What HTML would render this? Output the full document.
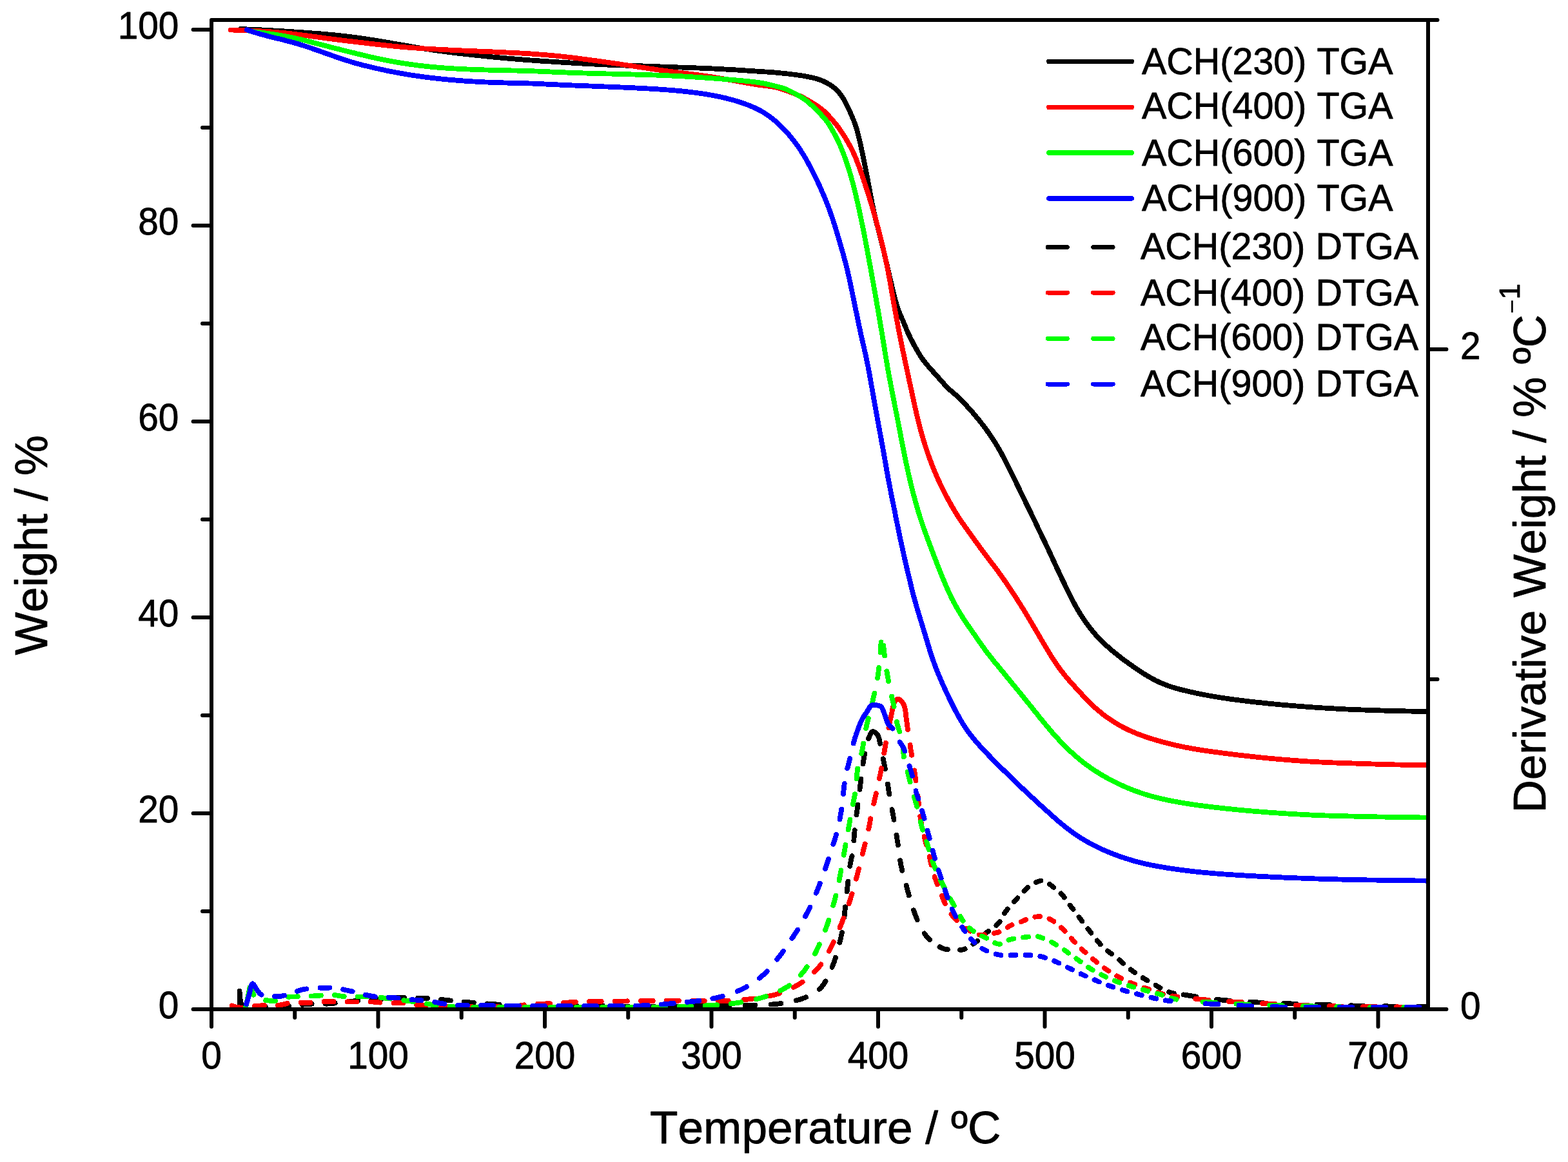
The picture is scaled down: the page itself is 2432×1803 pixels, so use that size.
<!DOCTYPE html>
<html lang="en"><head><meta charset="utf-8"><title>TGA and DTGA curves</title>
<style>html,body{margin:0;padding:0;background:#fff}body{width:2432px;height:1803px;overflow:hidden}svg{display:block}text{font-family:"Liberation Sans",Arial,Helvetica,sans-serif;fill:#000;stroke:#000;stroke-width:0.8px;stroke-linejoin:round;font-kerning:none}.tk{font-size:58.5px}.tt{font-size:70.5px}.lg{font-size:58px}.c{fill:none;stroke-width:7.8;stroke-linecap:round;stroke-linejoin:round;shape-rendering:crispEdges}.d{stroke-width:7.8px}.ld{stroke-width:7px}.f{fill:none;stroke-width:4;stroke-linecap:round;stroke-linejoin:round}.ax{fill:none;stroke:#000;stroke-width:6;stroke-linecap:round}</style></head><body>
<svg width="2432" height="1803" viewBox="0 0 2432 1803">
<rect width="2432" height="1803" fill="#fff"/>
<defs><clipPath id="cp"><rect x="328" y="31" width="1887" height="1541"/></clipPath></defs>
<g clip-path="url(#cp)">
<path class="c" stroke="#000000" d="M373.0 45.1L377.3 45.2L379.7 45.3L382.4 45.4L385.4 45.5L388.3 45.6L391.3 45.7L394.3 45.8L397.2 46.0L400.2 46.1L403.1 46.2L406.1 46.4L409.1 46.5L412.0 46.7L415.0 46.9L418.0 47.0L421.0 47.2L424.0 47.4L427.0 47.6L430.0 47.7L433.0 47.9L436.0 48.1L439.0 48.3L442.0 48.5L445.0 48.7L448.0 48.9L450.9 49.1L453.9 49.3L456.9 49.5L459.9 49.7L462.9 49.9L465.9 50.1L468.9 50.3L471.9 50.5L474.9 50.8L477.9 51.0L480.9 51.2L483.9 51.4L486.9 51.6L489.9 51.8L492.9 52.1L495.9 52.3L498.9 52.5L501.9 52.8L504.8 53.0L507.8 53.3L510.8 53.6L513.8 53.9L516.8 54.1L519.8 54.4L522.8 54.7L525.8 55.0L528.8 55.4L531.7 55.7L534.7 56.0L537.7 56.4L540.7 56.7L543.7 57.1L546.6 57.5L549.6 57.8L552.6 58.2L555.6 58.6L558.5 59.1L561.5 59.5L564.5 59.9L567.4 60.4L570.4 60.8L573.4 61.3L576.3 61.8L579.3 62.2L582.3 62.7L585.2 63.2L588.2 63.7L591.2 64.2L594.1 64.7L597.1 65.2L600.0 65.7L603.0 66.2L606.0 66.7L608.9 67.2L611.9 67.7L614.8 68.2L617.8 68.7L620.8 69.2L623.7 69.8L626.7 70.3L629.6 70.8L632.6 71.3L635.6 71.8L638.5 72.3L641.5 72.8L644.4 73.3L647.4 73.8L650.4 74.3L653.3 74.7L656.3 75.2L659.3 75.7L662.2 76.2L665.2 76.6L668.2 77.1L671.1 77.5L674.1 78.0L677.1 78.4L680.0 78.8L683.0 79.2L686.0 79.6L689.0 80.0L691.9 80.4L694.9 80.8L697.9 81.2L700.9 81.6L703.8 82.0L706.8 82.3L709.8 82.7L712.8 83.0L715.8 83.4L718.7 83.7L721.7 84.1L724.7 84.4L727.7 84.7L730.7 85.1L733.7 85.4L736.7 85.7L739.6 86.0L742.6 86.3L745.6 86.6L748.6 86.9L751.6 87.2L754.6 87.5L757.6 87.8L760.6 88.1L763.5 88.4L766.5 88.7L769.5 88.9L772.5 89.2L775.5 89.5L778.5 89.8L781.5 90.0L784.5 90.3L787.5 90.6L790.5 90.8L793.4 91.1L796.4 91.3L799.4 91.6L802.4 91.8L805.4 92.1L808.4 92.3L811.4 92.6L814.4 92.8L817.4 93.0L820.4 93.3L823.4 93.5L826.4 93.7L829.4 93.9L832.4 94.1L835.3 94.3L838.3 94.6L841.3 94.8L844.3 95.0L847.3 95.2L850.3 95.4L853.3 95.5L856.3 95.7L859.3 95.9L862.3 96.1L865.3 96.3L868.3 96.5L871.3 96.7L874.3 96.9L877.3 97.1L880.3 97.2L883.3 97.4L886.3 97.6L889.3 97.8L892.3 98.0L895.3 98.1L898.3 98.3L901.3 98.5L904.3 98.7L907.3 98.8L910.3 99.0L913.3 99.2L916.3 99.3L919.3 99.5L922.3 99.6L925.3 99.8L928.3 100.0L931.3 100.1L934.2 100.2L937.2 100.4L940.2 100.5L943.2 100.7L946.2 100.8L949.2 100.9L952.2 101.0L955.2 101.1L958.2 101.2L961.2 101.3L964.2 101.4L967.2 101.5L970.2 101.6L973.2 101.7L976.3 101.8L979.3 101.9L982.3 102.0L985.3 102.0L988.3 102.1L991.3 102.2L994.3 102.3L997.3 102.4L1000.3 102.5L1003.3 102.6L1006.3 102.7L1009.3 102.8L1012.3 102.9L1015.3 103.0L1018.3 103.1L1021.3 103.3L1024.3 103.4L1027.3 103.5L1030.3 103.6L1033.3 103.7L1036.3 103.8L1039.3 104.0L1042.3 104.1L1045.3 104.2L1048.3 104.3L1051.3 104.4L1054.3 104.5L1057.3 104.6L1060.3 104.7L1063.3 104.8L1066.3 104.9L1069.3 105.0L1072.3 105.1L1075.3 105.2L1078.3 105.3L1081.3 105.5L1084.3 105.6L1087.3 105.7L1090.3 105.8L1093.3 105.9L1096.3 106.1L1099.3 106.2L1102.3 106.3L1105.3 106.5L1108.3 106.6L1111.3 106.8L1114.3 106.9L1117.3 107.1L1120.3 107.3L1123.3 107.4L1126.2 107.6L1129.2 107.7L1132.2 107.9L1135.2 108.1L1138.2 108.3L1141.2 108.4L1144.2 108.6L1147.2 108.8L1150.2 109.0L1153.2 109.2L1156.2 109.4L1159.2 109.6L1162.2 109.8L1165.2 110.0L1168.2 110.2L1171.2 110.4L1174.2 110.6L1177.2 110.8L1180.2 111.0L1183.2 111.2L1186.2 111.4L1189.2 111.5L1192.2 111.8L1195.2 112.0L1198.2 112.2L1201.1 112.4L1204.1 112.7L1207.1 113.0L1210.1 113.3L1213.1 113.6L1216.1 113.9L1219.1 114.2L1222.1 114.5L1225.0 114.9L1228.0 115.3L1231.0 115.6L1234.0 116.0L1237.0 116.4L1239.9 116.8L1242.9 117.3L1245.9 117.7L1248.8 118.2L1251.8 118.8L1254.7 119.4L1257.7 120.0L1260.6 120.7L1263.5 121.4L1266.4 122.2L1269.2 123.1L1272.1 124.1L1274.9 125.1L1277.6 126.3L1280.3 127.6L1283.0 129.0L1285.6 130.5L1288.1 132.0L1290.6 133.7L1293.0 135.6L1295.3 137.5L1297.5 139.5L1299.6 141.6L1301.5 143.9L1303.4 146.2L1305.1 148.6L1306.8 151.1L1308.4 153.7L1309.9 156.3L1311.3 158.9L1312.7 161.6L1314.0 164.3L1315.3 167.0L1316.6 169.7L1317.9 172.4L1319.1 175.2L1320.3 177.9L1321.5 180.7L1322.6 183.4L1323.8 186.2L1324.9 189.0L1325.9 191.8L1326.9 194.6L1327.9 197.5L1328.7 200.3L1329.6 203.2L1330.3 206.1L1331.1 209.0L1331.8 212.0L1332.5 214.9L1333.2 217.8L1333.9 220.7L1334.6 223.6L1335.2 226.6L1335.8 229.5L1336.5 232.5L1337.1 235.4L1337.7 238.3L1338.3 241.3L1338.9 244.2L1339.5 247.2L1340.1 250.1L1340.7 253.0L1341.3 256.0L1341.9 258.9L1342.5 261.9L1343.1 264.8L1343.6 267.8L1344.2 270.7L1344.8 273.7L1345.4 276.6L1345.9 279.5L1346.5 282.5L1347.1 285.4L1347.6 288.4L1348.2 291.4L1348.7 294.3L1349.3 297.3L1349.8 300.2L1350.4 303.2L1350.9 306.1L1351.5 309.1L1352.0 312.0L1352.6 315.0L1353.2 317.9L1353.8 320.8L1354.4 323.8L1355.0 326.7L1355.7 329.6L1356.3 332.6L1357.0 335.5L1357.7 338.4L1358.4 341.3L1359.1 344.2L1359.9 347.1L1360.6 350.0L1361.4 352.9L1362.2 355.8L1362.9 358.8L1363.7 361.7L1364.4 364.6L1365.2 367.5L1366.0 370.4L1366.7 373.3L1367.4 376.2L1368.1 379.1L1368.9 382.0L1369.6 384.9L1370.3 387.9L1370.9 390.8L1371.6 393.7L1372.3 396.6L1373.0 399.6L1373.7 402.5L1374.4 405.4L1375.0 408.3L1375.7 411.3L1376.4 414.2L1377.1 417.1L1377.8 420.0L1378.4 423.0L1379.1 425.9L1379.8 428.8L1380.5 431.7L1381.1 434.7L1381.8 437.6L1382.5 440.5L1383.2 443.4L1383.9 446.3L1384.5 449.3L1385.3 452.2L1386.0 455.1L1386.7 458.0L1387.5 460.9L1388.2 463.8L1389.0 466.7L1389.8 469.6L1390.6 472.5L1391.5 475.3L1392.4 478.2L1393.4 481.0L1394.5 483.8L1395.6 486.6L1396.8 489.4L1398.0 492.1L1399.2 494.9L1400.4 497.6L1401.5 500.4L1402.7 503.2L1403.9 505.9L1405.0 508.7L1406.1 511.5L1407.3 514.3L1408.5 517.0L1409.8 519.7L1411.1 522.4L1412.4 525.1L1413.8 527.8L1415.2 530.5L1416.6 533.1L1418.0 535.8L1419.4 538.4L1420.9 541.0L1422.4 543.6L1423.9 546.2L1425.5 548.8L1427.0 551.3L1428.6 553.9L1430.3 556.3L1432.1 558.8L1433.9 561.2L1435.7 563.5L1437.7 565.8L1439.6 568.1L1441.6 570.4L1443.6 572.6L1445.6 574.9L1447.6 577.1L1449.6 579.4L1451.6 581.6L1453.6 583.8L1455.6 586.0L1457.6 588.3L1459.6 590.5L1461.6 592.8L1463.6 595.0L1465.6 597.3L1467.6 599.5L1469.7 601.7L1471.9 603.7L1474.1 605.7L1476.4 607.6L1478.7 609.6L1480.9 611.5L1483.2 613.5L1485.4 615.5L1487.5 617.6L1489.6 619.7L1491.8 621.8L1493.8 623.9L1495.9 626.1L1498.0 628.3L1500.0 630.5L1502.0 632.7L1504.0 634.9L1506.0 637.2L1508.0 639.4L1510.0 641.7L1511.9 644.0L1513.8 646.3L1515.8 648.6L1517.7 650.9L1519.5 653.3L1521.4 655.6L1523.3 658.0L1525.1 660.3L1526.9 662.7L1528.7 665.1L1530.5 667.5L1532.2 670.0L1534.0 672.4L1535.7 674.9L1537.4 677.4L1539.0 679.9L1540.7 682.4L1542.3 684.9L1543.9 687.4L1545.4 690.0L1547.0 692.6L1548.5 695.2L1550.0 697.8L1551.5 700.4L1552.9 703.0L1554.3 705.6L1555.8 708.3L1557.2 710.9L1558.6 713.6L1559.9 716.3L1561.3 718.9L1562.7 721.6L1564.0 724.3L1565.4 727.0L1566.7 729.7L1568.0 732.3L1569.4 735.0L1570.7 737.7L1572.0 740.4L1573.3 743.1L1574.6 745.8L1575.9 748.5L1577.2 751.2L1578.5 754.0L1579.8 756.7L1581.1 759.4L1582.4 762.1L1583.7 764.8L1585.0 767.5L1586.4 770.2L1587.7 772.9L1589.0 775.6L1590.3 778.3L1591.6 781.0L1592.9 783.7L1594.3 786.4L1595.6 789.1L1596.9 791.8L1598.2 794.5L1599.5 797.2L1600.8 799.9L1602.1 802.6L1603.4 805.3L1604.7 808.0L1606.0 810.7L1607.2 813.4L1608.5 816.1L1609.8 818.8L1611.1 821.6L1612.4 824.3L1613.7 827.0L1615.0 829.7L1616.3 832.4L1617.6 835.1L1618.9 837.8L1620.2 840.5L1621.5 843.2L1622.8 845.9L1624.1 848.6L1625.4 851.3L1626.6 854.1L1627.9 856.8L1629.2 859.5L1630.4 862.2L1631.7 865.0L1632.9 867.7L1634.2 870.4L1635.5 873.1L1636.7 875.9L1638.0 878.6L1639.2 881.3L1640.5 884.0L1641.8 886.7L1643.1 889.5L1644.3 892.2L1645.6 894.9L1646.9 897.6L1648.2 900.3L1649.5 903.0L1650.8 905.7L1652.1 908.5L1653.4 911.2L1654.7 913.9L1656.0 916.6L1657.3 919.3L1658.7 921.9L1660.0 924.6L1661.4 927.3L1662.7 930.0L1664.1 932.6L1665.5 935.3L1667.0 937.9L1668.4 940.6L1669.9 943.2L1671.4 945.8L1672.9 948.3L1674.4 950.9L1676.0 953.5L1677.6 956.0L1679.3 958.5L1680.9 961.0L1682.6 963.5L1684.3 965.9L1686.1 968.4L1687.9 970.8L1689.7 973.1L1691.5 975.5L1693.4 977.8L1695.3 980.1L1697.3 982.4L1699.2 984.7L1701.3 986.9L1703.3 989.1L1705.4 991.2L1707.5 993.4L1709.6 995.5L1711.7 997.6L1713.9 999.7L1716.1 1001.7L1718.3 1003.7L1720.6 1005.7L1722.8 1007.7L1725.1 1009.6L1727.4 1011.5L1729.7 1013.4L1732.1 1015.3L1734.4 1017.2L1736.8 1019.0L1739.2 1020.9L1741.5 1022.7L1743.9 1024.5L1746.4 1026.3L1748.8 1028.0L1751.2 1029.8L1753.7 1031.5L1756.1 1033.3L1758.6 1035.0L1761.1 1036.7L1763.5 1038.4L1766.0 1040.1L1768.5 1041.7L1771.1 1043.3L1773.6 1045.0L1776.1 1046.6L1778.7 1048.1L1781.3 1049.7L1783.8 1051.2L1786.5 1052.6L1789.1 1054.1L1791.7 1055.5L1794.4 1056.8L1797.1 1058.1L1799.8 1059.3L1802.5 1060.5L1805.3 1061.6L1808.1 1062.7L1810.9 1063.8L1813.7 1064.7L1816.6 1065.7L1819.4 1066.6L1822.3 1067.5L1825.2 1068.3L1828.1 1069.1L1831.0 1069.9L1833.9 1070.6L1836.8 1071.3L1839.7 1072.0L1842.6 1072.7L1845.5 1073.4L1848.5 1074.0L1851.4 1074.7L1854.3 1075.3L1857.3 1075.9L1860.2 1076.5L1863.2 1077.1L1866.1 1077.7L1869.1 1078.3L1872.0 1078.8L1875.0 1079.4L1877.9 1079.9L1880.9 1080.4L1883.8 1080.9L1886.8 1081.4L1889.7 1081.9L1892.7 1082.4L1895.7 1082.8L1898.6 1083.3L1901.6 1083.7L1904.6 1084.1L1907.6 1084.6L1910.5 1085.0L1913.5 1085.4L1916.5 1085.7L1919.5 1086.1L1922.4 1086.5L1925.4 1086.9L1928.4 1087.2L1931.4 1087.6L1934.4 1088.0L1937.4 1088.3L1940.3 1088.7L1943.3 1089.0L1946.3 1089.3L1949.3 1089.7L1952.3 1090.0L1955.3 1090.3L1958.2 1090.6L1961.2 1090.9L1964.2 1091.2L1967.2 1091.6L1970.2 1091.9L1973.2 1092.1L1976.2 1092.4L1979.2 1092.7L1982.1 1093.0L1985.1 1093.3L1988.1 1093.6L1991.1 1093.8L1994.1 1094.1L1997.1 1094.3L2000.1 1094.6L2003.1 1094.9L2006.1 1095.1L2009.1 1095.3L2012.1 1095.6L2015.0 1095.8L2018.0 1096.1L2021.0 1096.3L2024.0 1096.5L2027.0 1096.7L2030.0 1096.9L2033.0 1097.2L2036.0 1097.4L2039.0 1097.6L2042.0 1097.8L2045.0 1098.0L2048.0 1098.2L2051.0 1098.4L2054.0 1098.5L2057.0 1098.7L2060.0 1098.9L2063.0 1099.1L2066.0 1099.3L2069.0 1099.4L2072.0 1099.6L2075.0 1099.8L2078.0 1099.9L2081.0 1100.1L2084.0 1100.2L2087.0 1100.4L2090.0 1100.5L2093.0 1100.7L2096.0 1100.8L2099.0 1100.9L2102.0 1101.1L2105.0 1101.2L2108.0 1101.3L2111.0 1101.4L2114.0 1101.5L2117.0 1101.6L2120.0 1101.8L2123.0 1101.9L2126.0 1102.0L2129.0 1102.1L2132.0 1102.2L2135.0 1102.3L2138.0 1102.3L2141.0 1102.4L2144.0 1102.5L2147.0 1102.6L2150.0 1102.7L2153.0 1102.8L2156.0 1102.8L2159.0 1102.9L2162.0 1103.0L2165.0 1103.1L2168.0 1103.1L2171.0 1103.2L2174.0 1103.3L2176.9 1103.3L2179.9 1103.4L2182.9 1103.5L2185.8 1103.5L2188.8 1103.6L2191.7 1103.6L2194.7 1103.7L2197.7 1103.7L2200.7 1103.8L2203.6 1103.8L2206.5 1103.9L2209.1 1103.9L2211.4 1103.9L2215.0 1104.0"/>
<path class="f" stroke="#000000" d="M373.0 45.1L379.7 45.3L385.4 45.5L391.3 45.7L397.2 46.0L403.1 46.2L409.1 46.5L415.0 46.9L421.0 47.2L427.0 47.6L433.0 47.9L439.0 48.3L445.0 48.7L450.9 49.1L456.9 49.5L462.9 49.9L468.9 50.3L474.9 50.8L480.9 51.2L486.9 51.6L492.9 52.1L498.9 52.5L504.8 53.0L510.8 53.6L516.8 54.1L522.8 54.7L528.8 55.4L534.7 56.0L540.7 56.7L546.6 57.5L552.6 58.2L558.5 59.1L564.5 59.9L570.4 60.8L576.3 61.8L582.3 62.7L588.2 63.7L594.1 64.7L600.0 65.7L606.0 66.7L611.9 67.7L617.8 68.7L623.7 69.8L629.6 70.8L635.6 71.8L641.5 72.8L647.4 73.8L653.3 74.7L659.3 75.7L665.2 76.6L671.1 77.5L677.1 78.4L683.0 79.2L689.0 80.0L694.9 80.8L700.9 81.6L706.8 82.3L712.8 83.0L718.7 83.7L724.7 84.4L730.7 85.1L736.7 85.7L742.6 86.3L748.6 86.9L754.6 87.5L760.6 88.1L766.5 88.7L772.5 89.2L778.5 89.8L784.5 90.3L790.5 90.8L796.4 91.3L802.4 91.8L808.4 92.3L814.4 92.8L820.4 93.3L826.4 93.7L832.4 94.1L838.3 94.6L844.3 95.0L850.3 95.4L856.3 95.7L862.3 96.1L868.3 96.5L874.3 96.9L880.3 97.2L886.3 97.6L892.3 98.0L898.3 98.3L904.3 98.7L910.3 99.0L916.3 99.3L922.3 99.6L928.3 100.0L934.2 100.2L940.2 100.5L946.2 100.8L952.2 101.0L958.2 101.2L964.2 101.4L970.2 101.6L976.3 101.8L982.3 102.0L988.3 102.1L994.3 102.3L1000.3 102.5L1006.3 102.7L1012.3 102.9L1018.3 103.1L1024.3 103.4L1030.3 103.6L1036.3 103.8L1042.3 104.1L1048.3 104.3L1054.3 104.5L1060.3 104.7L1066.3 104.9L1072.3 105.1L1078.3 105.3L1084.3 105.6L1090.3 105.8L1096.3 106.1L1102.3 106.3L1108.3 106.6L1114.3 106.9L1120.3 107.3L1126.2 107.6L1132.2 107.9L1138.2 108.3L1144.2 108.6L1150.2 109.0L1156.2 109.4L1162.2 109.8L1168.2 110.2L1174.2 110.6L1180.2 111.0L1186.2 111.4L1192.2 111.8L1198.2 112.2L1204.1 112.7L1210.1 113.3L1216.1 113.9L1222.1 114.5L1228.0 115.3L1234.0 116.0L1239.9 116.8L1245.9 117.7L1251.8 118.8L1257.7 120.0L1263.5 121.4L1269.2 123.1L1274.9 125.1L1280.3 127.6L1285.6 130.5L1290.6 133.7L1295.3 137.5L1299.6 141.6L1303.4 146.2L1306.8 151.1L1309.9 156.3L1312.7 161.6L1315.3 167.0L1317.9 172.4L1320.3 177.9L1322.6 183.4L1324.9 189.0L1326.9 194.6L1328.7 200.3L1330.3 206.1L1331.8 212.0L1333.2 217.8L1334.6 223.6L1335.8 229.5L1337.1 235.4L1338.3 241.3L1339.5 247.2L1340.7 253.0L1341.9 258.9L1343.1 264.8L1344.2 270.7L1345.4 276.6L1346.5 282.5L1347.6 288.4L1348.7 294.3L1349.8 300.2L1350.9 306.1L1352.0 312.0L1353.2 317.9L1354.4 323.8L1355.7 329.6L1357.0 335.5L1358.4 341.3L1359.9 347.1L1361.4 352.9L1362.9 358.8L1364.4 364.6L1366.0 370.4L1367.4 376.2L1368.9 382.0L1370.3 387.9L1371.6 393.7L1373.0 399.6L1374.4 405.4L1375.7 411.3L1377.1 417.1L1378.4 423.0L1379.8 428.8L1381.1 434.7L1382.5 440.5L1383.9 446.3L1385.3 452.2L1386.7 458.0L1388.2 463.8L1389.8 469.6L1391.5 475.3L1393.4 481.0L1395.6 486.6L1398.0 492.1L1400.4 497.6L1402.7 503.2L1405.0 508.7L1407.3 514.3L1409.8 519.7L1412.4 525.1L1415.2 530.5L1418.0 535.8L1420.9 541.0L1423.9 546.2L1427.0 551.3L1430.3 556.3L1433.9 561.2L1437.7 565.8L1441.6 570.4L1445.6 574.9L1449.6 579.4L1453.6 583.8L1457.6 588.3L1461.6 592.8L1465.6 597.3L1469.7 601.7L1474.1 605.7L1478.7 609.6L1483.2 613.5L1487.5 617.6L1491.8 621.8L1495.9 626.1L1500.0 630.5L1504.0 634.9L1508.0 639.4L1511.9 644.0L1515.8 648.6L1519.5 653.3L1523.3 658.0L1526.9 662.7L1530.5 667.5L1534.0 672.4L1537.4 677.4L1540.7 682.4L1543.9 687.4L1547.0 692.6L1550.0 697.8L1552.9 703.0L1555.8 708.3L1558.6 713.6L1561.3 718.9L1564.0 724.3L1566.7 729.7L1569.4 735.0L1572.0 740.4L1574.6 745.8L1577.2 751.2L1579.8 756.7L1582.4 762.1L1585.0 767.5L1587.7 772.9L1590.3 778.3L1592.9 783.7L1595.6 789.1L1598.2 794.5L1600.8 799.9L1603.4 805.3L1606.0 810.7L1608.5 816.1L1611.1 821.6L1613.7 827.0L1616.3 832.4L1618.9 837.8L1621.5 843.2L1624.1 848.6L1626.6 854.1L1629.2 859.5L1631.7 865.0L1634.2 870.4L1636.7 875.9L1639.2 881.3L1641.8 886.7L1644.3 892.2L1646.9 897.6L1649.5 903.0L1652.1 908.5L1654.7 913.9L1657.3 919.3L1660.0 924.6L1662.7 930.0L1665.5 935.3L1668.4 940.6L1671.4 945.8L1674.4 950.9L1677.6 956.0L1680.9 961.0L1684.3 965.9L1687.9 970.8L1691.5 975.5L1695.3 980.1L1699.2 984.7L1703.3 989.1L1707.5 993.4L1711.7 997.6L1716.1 1001.7L1720.6 1005.7L1725.1 1009.6L1729.7 1013.4L1734.4 1017.2L1739.2 1020.9L1743.9 1024.5L1748.8 1028.0L1753.7 1031.5L1758.6 1035.0L1763.5 1038.4L1768.5 1041.7L1773.6 1045.0L1778.7 1048.1L1783.8 1051.2L1789.1 1054.1L1794.4 1056.8L1799.8 1059.3L1805.3 1061.6L1810.9 1063.8L1816.6 1065.7L1822.3 1067.5L1828.1 1069.1L1833.9 1070.6L1839.7 1072.0L1845.5 1073.4L1851.4 1074.7L1857.3 1075.9L1863.2 1077.1L1869.1 1078.3L1875.0 1079.4L1880.9 1080.4L1886.8 1081.4L1892.7 1082.4L1898.6 1083.3L1904.6 1084.1L1910.5 1085.0L1916.5 1085.7L1922.4 1086.5L1928.4 1087.2L1934.4 1088.0L1940.3 1088.7L1946.3 1089.3L1952.3 1090.0L1958.2 1090.6L1964.2 1091.2L1970.2 1091.9L1976.2 1092.4L1982.1 1093.0L1988.1 1093.6L1994.1 1094.1L2000.1 1094.6L2006.1 1095.1L2012.1 1095.6L2018.0 1096.1L2024.0 1096.5L2030.0 1096.9L2036.0 1097.4L2042.0 1097.8L2048.0 1098.2L2054.0 1098.5L2060.0 1098.9L2066.0 1099.3L2072.0 1099.6L2078.0 1099.9L2084.0 1100.2L2090.0 1100.5L2096.0 1100.8L2102.0 1101.1L2108.0 1101.3L2114.0 1101.5L2120.0 1101.8L2126.0 1102.0L2132.0 1102.2L2138.0 1102.3L2144.0 1102.5L2150.0 1102.7L2156.0 1102.8L2162.0 1103.0L2168.0 1103.1L2174.0 1103.3L2179.9 1103.4L2185.8 1103.5L2191.7 1103.6L2197.7 1103.7L2203.6 1103.8L2209.1 1103.9L2215.0 1104.0"/>
<path class="c" stroke="#ff0000" d="M357.5 46.5L361.8 46.6L364.2 46.6L366.9 46.7L369.9 46.8L372.8 46.9L375.8 47.0L378.8 47.1L381.7 47.2L384.7 47.3L387.6 47.5L390.6 47.6L393.6 47.7L396.5 47.9L399.5 48.0L402.5 48.2L405.5 48.4L408.5 48.6L411.5 48.7L414.5 48.9L417.5 49.2L420.5 49.4L423.4 49.6L426.4 49.9L429.4 50.1L432.4 50.4L435.4 50.6L438.4 50.9L441.4 51.2L444.4 51.5L447.4 51.8L450.3 52.2L453.3 52.5L456.3 52.8L459.3 53.2L462.3 53.6L465.2 53.9L468.2 54.3L471.2 54.7L474.2 55.1L477.1 55.5L480.1 55.9L483.1 56.3L486.1 56.7L489.0 57.1L492.0 57.5L495.0 57.9L498.0 58.3L500.9 58.7L503.9 59.1L506.9 59.5L509.9 59.9L512.8 60.3L515.8 60.7L518.8 61.0L521.8 61.4L524.8 61.8L527.7 62.1L530.7 62.5L533.7 62.9L536.7 63.2L539.6 63.6L542.6 64.0L545.6 64.3L548.6 64.7L551.6 65.0L554.5 65.4L557.5 65.7L560.5 66.1L563.5 66.4L566.5 66.8L569.5 67.1L572.4 67.5L575.4 67.8L578.4 68.2L581.4 68.5L584.4 68.8L587.3 69.2L590.3 69.5L593.3 69.8L596.3 70.1L599.3 70.5L602.3 70.8L605.3 71.1L608.2 71.4L611.2 71.7L614.2 72.0L617.2 72.3L620.2 72.6L623.2 72.8L626.2 73.1L629.2 73.3L632.1 73.6L635.1 73.8L638.1 74.1L641.1 74.3L644.1 74.5L647.1 74.7L650.1 74.9L653.1 75.1L656.1 75.3L659.1 75.5L662.1 75.6L665.1 75.8L668.1 76.0L671.1 76.1L674.1 76.3L677.1 76.5L680.1 76.6L683.1 76.8L686.1 76.9L689.1 77.1L692.1 77.3L695.1 77.4L698.1 77.6L701.1 77.7L704.0 77.8L707.0 78.0L710.0 78.1L713.0 78.3L716.0 78.4L719.0 78.5L722.0 78.7L725.0 78.8L728.0 78.9L731.0 79.1L734.0 79.2L737.0 79.3L740.0 79.4L743.0 79.6L746.0 79.7L749.0 79.8L752.0 79.9L755.0 80.0L758.0 80.2L761.0 80.3L764.0 80.4L767.0 80.6L770.0 80.7L773.0 80.8L776.0 81.0L779.0 81.1L782.0 81.2L785.0 81.4L788.0 81.5L791.0 81.7L794.0 81.8L797.0 82.0L800.0 82.1L803.0 82.3L806.0 82.4L809.0 82.6L812.0 82.8L815.0 83.0L818.0 83.2L821.0 83.3L824.0 83.5L827.0 83.7L830.0 83.9L833.0 84.1L835.9 84.4L838.9 84.6L841.9 84.8L844.9 85.1L847.9 85.3L850.9 85.6L853.9 85.8L856.9 86.1L859.9 86.4L862.9 86.7L865.8 87.0L868.8 87.3L871.8 87.6L874.8 87.9L877.8 88.3L880.8 88.6L883.7 89.0L886.7 89.3L889.7 89.7L892.7 90.1L895.6 90.4L898.6 90.8L901.6 91.2L904.6 91.6L907.6 92.0L910.5 92.4L913.5 92.8L916.5 93.2L919.5 93.6L922.4 94.0L925.4 94.4L928.4 94.8L931.3 95.2L934.3 95.6L937.3 96.1L940.3 96.5L943.2 96.9L946.2 97.3L949.2 97.8L952.1 98.2L955.1 98.6L958.1 99.1L961.1 99.5L964.0 99.9L967.0 100.4L970.0 100.8L972.9 101.3L975.9 101.7L978.9 102.2L981.8 102.6L984.8 103.1L987.8 103.5L990.7 104.0L993.7 104.4L996.7 104.8L999.6 105.3L1002.6 105.7L1005.6 106.2L1008.6 106.6L1011.5 107.0L1014.5 107.4L1017.5 107.9L1020.4 108.3L1023.4 108.7L1026.4 109.1L1029.4 109.5L1032.3 109.9L1035.3 110.3L1038.3 110.7L1041.3 111.1L1044.2 111.5L1047.2 111.9L1050.2 112.2L1053.2 112.6L1056.1 113.0L1059.1 113.3L1062.1 113.7L1065.1 114.1L1068.1 114.4L1071.0 114.8L1074.0 115.2L1077.0 115.5L1080.0 115.9L1083.0 116.3L1085.9 116.7L1088.9 117.1L1091.9 117.5L1094.8 118.0L1097.8 118.4L1100.8 118.9L1103.7 119.3L1106.7 119.8L1109.7 120.3L1112.6 120.8L1115.6 121.3L1118.5 121.7L1121.5 122.3L1124.5 122.8L1127.4 123.3L1130.4 123.8L1133.3 124.3L1136.3 124.8L1139.3 125.3L1142.2 125.8L1145.2 126.4L1148.1 126.9L1151.1 127.4L1154.0 128.0L1157.0 128.5L1159.9 129.0L1162.9 129.6L1165.9 130.1L1168.8 130.6L1171.8 131.1L1174.7 131.5L1177.7 131.9L1180.7 132.3L1183.7 132.7L1186.7 133.1L1189.6 133.4L1192.6 133.8L1195.6 134.2L1198.5 134.7L1201.5 135.2L1204.4 135.9L1207.3 136.6L1210.2 137.4L1213.0 138.3L1215.9 139.3L1218.7 140.3L1221.5 141.3L1224.4 142.4L1227.2 143.4L1230.0 144.5L1232.8 145.6L1235.5 146.7L1238.3 147.9L1241.0 149.1L1243.7 150.4L1246.4 151.8L1249.0 153.2L1251.7 154.7L1254.3 156.2L1256.9 157.7L1259.4 159.2L1262.0 160.8L1264.5 162.4L1267.0 164.0L1269.5 165.7L1272.0 167.5L1274.3 169.3L1276.6 171.2L1278.9 173.2L1281.0 175.3L1283.1 177.4L1285.2 179.6L1287.1 181.9L1289.1 184.1L1291.1 186.4L1293.1 188.6L1295.0 190.9L1296.9 193.2L1298.8 195.6L1300.6 198.0L1302.4 200.4L1304.1 202.9L1305.7 205.4L1307.4 207.9L1309.0 210.4L1310.6 213.0L1312.1 215.5L1313.6 218.1L1315.1 220.7L1316.6 223.4L1318.1 226.0L1319.5 228.6L1320.8 231.3L1322.2 234.0L1323.5 236.7L1324.7 239.4L1325.9 242.2L1327.1 244.9L1328.2 247.7L1329.3 250.5L1330.4 253.3L1331.5 256.1L1332.5 258.9L1333.5 261.7L1334.5 264.5L1335.5 267.4L1336.5 270.2L1337.5 273.1L1338.4 275.9L1339.4 278.8L1340.3 281.6L1341.3 284.5L1342.2 287.3L1343.1 290.2L1344.1 293.0L1345.0 295.9L1345.9 298.8L1346.8 301.6L1347.7 304.5L1348.6 307.4L1349.5 310.2L1350.3 313.1L1351.2 316.0L1352.1 318.8L1352.9 321.7L1353.8 324.6L1354.6 327.5L1355.4 330.4L1356.3 333.3L1357.1 336.1L1357.9 339.0L1358.7 341.9L1359.5 344.8L1360.2 347.7L1361.0 350.6L1361.8 353.5L1362.6 356.4L1363.3 359.3L1364.1 362.2L1364.8 365.2L1365.5 368.1L1366.3 371.0L1367.0 373.9L1367.7 376.8L1368.4 379.7L1369.1 382.6L1369.8 385.6L1370.5 388.5L1371.1 391.4L1371.8 394.3L1372.5 397.3L1373.1 400.2L1373.8 403.1L1374.4 406.1L1375.0 409.0L1375.6 411.9L1376.2 414.9L1376.8 417.8L1377.4 420.8L1378.0 423.7L1378.5 426.7L1379.1 429.6L1379.6 432.6L1380.1 435.5L1380.7 438.5L1381.2 441.4L1381.7 444.4L1382.2 447.3L1382.7 450.3L1383.2 453.2L1383.8 456.2L1384.3 459.2L1384.8 462.1L1385.3 465.1L1385.8 468.0L1386.3 471.0L1386.9 473.9L1387.4 476.9L1387.9 479.8L1388.5 482.8L1389.0 485.8L1389.6 488.7L1390.1 491.7L1390.7 494.6L1391.2 497.6L1391.8 500.5L1392.3 503.5L1392.9 506.4L1393.4 509.4L1394.0 512.3L1394.6 515.2L1395.2 518.2L1395.7 521.1L1396.3 524.1L1396.9 527.0L1397.5 530.0L1398.1 532.9L1398.7 535.8L1399.3 538.8L1399.9 541.7L1400.5 544.7L1401.1 547.6L1401.8 550.5L1402.4 553.5L1403.0 556.4L1403.6 559.4L1404.2 562.3L1404.9 565.2L1405.5 568.2L1406.1 571.1L1406.7 574.0L1407.4 577.0L1408.0 579.9L1408.6 582.8L1409.3 585.8L1409.9 588.7L1410.5 591.6L1411.2 594.6L1411.8 597.5L1412.5 600.4L1413.1 603.4L1413.7 606.3L1414.4 609.2L1415.0 612.2L1415.6 615.1L1416.3 618.0L1416.9 621.0L1417.5 623.9L1418.2 626.8L1418.8 629.8L1419.4 632.7L1420.1 635.6L1420.8 638.6L1421.4 641.5L1422.1 644.4L1422.8 647.3L1423.5 650.2L1424.2 653.2L1425.0 656.1L1425.7 659.0L1426.5 661.9L1427.2 664.8L1428.0 667.7L1428.8 670.6L1429.6 673.5L1430.4 676.3L1431.3 679.2L1432.1 682.1L1433.0 685.0L1433.9 687.8L1434.8 690.7L1435.7 693.6L1436.6 696.4L1437.6 699.3L1438.5 702.1L1439.5 704.9L1440.5 707.8L1441.5 710.6L1442.6 713.4L1443.6 716.2L1444.7 719.0L1445.8 721.8L1446.9 724.6L1448.0 727.4L1449.1 730.2L1450.3 733.0L1451.4 735.7L1452.6 738.5L1453.8 741.2L1455.1 744.0L1456.3 746.7L1457.6 749.4L1458.9 752.1L1460.2 754.8L1461.5 757.5L1462.8 760.2L1464.2 762.9L1465.6 765.5L1466.9 768.2L1468.3 770.9L1469.7 773.5L1471.2 776.2L1472.6 778.8L1474.1 781.4L1475.5 784.0L1477.0 786.6L1478.6 789.2L1480.1 791.8L1481.6 794.4L1483.2 796.9L1484.8 799.4L1486.4 802.0L1488.1 804.5L1489.8 807.0L1491.4 809.4L1493.1 811.9L1494.9 814.4L1496.6 816.8L1498.3 819.3L1500.1 821.7L1501.8 824.1L1503.6 826.6L1505.3 829.0L1507.0 831.5L1508.8 833.9L1510.6 836.3L1512.3 838.8L1514.1 841.2L1515.8 843.6L1517.6 846.1L1519.4 848.5L1521.1 850.9L1522.9 853.3L1524.7 855.7L1526.5 858.1L1528.3 860.5L1530.1 862.9L1531.9 865.3L1533.7 867.7L1535.5 870.1L1537.3 872.5L1539.2 874.9L1541.0 877.3L1542.8 879.7L1544.6 882.1L1546.4 884.5L1548.2 886.9L1549.9 889.3L1551.7 891.8L1553.4 894.2L1555.2 896.6L1556.9 899.1L1558.6 901.6L1560.3 904.0L1562.0 906.5L1563.7 909.0L1565.4 911.5L1567.0 914.0L1568.7 916.5L1570.3 919.0L1572.0 921.5L1573.6 924.0L1575.3 926.5L1576.9 929.0L1578.5 931.6L1580.1 934.1L1581.7 936.6L1583.3 939.2L1584.9 941.7L1586.5 944.3L1588.1 946.8L1589.6 949.4L1591.2 951.9L1592.7 954.5L1594.3 957.1L1595.8 959.7L1597.4 962.2L1598.9 964.8L1600.4 967.4L1601.9 970.0L1603.5 972.6L1605.0 975.2L1606.5 977.8L1608.0 980.4L1609.5 982.9L1611.1 985.5L1612.6 988.1L1614.1 990.7L1615.6 993.3L1617.1 995.9L1618.7 998.5L1620.2 1001.0L1621.7 1003.6L1623.3 1006.2L1624.8 1008.8L1626.4 1011.3L1627.9 1013.9L1629.5 1016.5L1631.1 1019.0L1632.7 1021.5L1634.3 1024.1L1636.0 1026.6L1637.6 1029.1L1639.3 1031.5L1641.1 1034.0L1642.8 1036.4L1644.6 1038.8L1646.4 1041.2L1648.2 1043.6L1650.1 1046.0L1651.9 1048.3L1653.9 1050.6L1655.8 1052.9L1657.7 1055.1L1659.7 1057.4L1661.7 1059.6L1663.7 1061.9L1665.7 1064.1L1667.7 1066.3L1669.8 1068.5L1671.8 1070.8L1673.8 1073.0L1675.9 1075.2L1677.9 1077.4L1679.9 1079.6L1682.0 1081.8L1684.0 1084.0L1686.1 1086.1L1688.2 1088.3L1690.3 1090.4L1692.5 1092.5L1694.6 1094.5L1696.8 1096.6L1699.1 1098.6L1701.3 1100.6L1703.6 1102.5L1705.9 1104.4L1708.2 1106.3L1710.6 1108.2L1712.9 1110.0L1715.4 1111.8L1717.8 1113.5L1720.2 1115.2L1722.7 1116.9L1725.2 1118.6L1727.7 1120.2L1730.3 1121.8L1732.9 1123.3L1735.4 1124.8L1738.1 1126.3L1740.7 1127.8L1743.3 1129.2L1746.0 1130.5L1748.7 1131.8L1751.4 1133.1L1754.1 1134.4L1756.8 1135.6L1759.6 1136.7L1762.4 1137.9L1765.1 1139.0L1767.9 1140.0L1770.8 1141.1L1773.6 1142.1L1776.4 1143.1L1779.3 1144.0L1782.1 1145.0L1785.0 1145.9L1787.8 1146.8L1790.7 1147.7L1793.6 1148.5L1796.5 1149.4L1799.4 1150.2L1802.3 1151.0L1805.2 1151.8L1808.1 1152.6L1811.0 1153.3L1813.9 1154.0L1816.8 1154.8L1819.7 1155.5L1822.6 1156.2L1825.6 1156.8L1828.5 1157.5L1831.4 1158.1L1834.4 1158.7L1837.3 1159.3L1840.2 1159.9L1843.2 1160.4L1846.1 1161.0L1849.1 1161.5L1852.1 1162.0L1855.0 1162.5L1858.0 1163.0L1860.9 1163.5L1863.9 1163.9L1866.9 1164.4L1869.8 1164.8L1872.8 1165.2L1875.8 1165.7L1878.8 1166.1L1881.7 1166.5L1884.7 1166.9L1887.7 1167.3L1890.7 1167.7L1893.6 1168.1L1896.6 1168.5L1899.6 1168.9L1902.6 1169.3L1905.5 1169.7L1908.5 1170.0L1911.5 1170.4L1914.5 1170.8L1917.5 1171.1L1920.4 1171.5L1923.4 1171.8L1926.4 1172.2L1929.4 1172.5L1932.4 1172.9L1935.3 1173.2L1938.3 1173.5L1941.3 1173.9L1944.3 1174.2L1947.3 1174.5L1950.3 1174.8L1953.3 1175.1L1956.2 1175.4L1959.2 1175.7L1962.2 1176.0L1965.2 1176.3L1968.2 1176.6L1971.2 1176.9L1974.2 1177.2L1977.2 1177.4L1980.1 1177.7L1983.1 1178.0L1986.1 1178.2L1989.1 1178.5L1992.1 1178.7L1995.1 1179.0L1998.1 1179.2L2001.1 1179.4L2004.1 1179.7L2007.1 1179.9L2010.1 1180.1L2013.0 1180.3L2016.0 1180.6L2019.0 1180.8L2022.0 1181.0L2025.0 1181.2L2028.0 1181.4L2031.0 1181.5L2034.0 1181.7L2037.0 1181.9L2040.0 1182.1L2043.0 1182.2L2046.0 1182.4L2049.0 1182.5L2052.0 1182.7L2055.0 1182.8L2058.0 1183.0L2061.0 1183.1L2064.0 1183.2L2067.0 1183.4L2070.0 1183.5L2073.0 1183.6L2076.0 1183.7L2079.0 1183.8L2082.0 1183.9L2085.0 1184.0L2088.0 1184.1L2091.0 1184.2L2094.0 1184.3L2097.0 1184.4L2100.0 1184.5L2103.0 1184.6L2106.0 1184.7L2109.0 1184.8L2112.0 1184.9L2115.0 1185.0L2118.0 1185.1L2121.0 1185.2L2124.0 1185.3L2127.0 1185.4L2130.0 1185.5L2133.0 1185.6L2136.0 1185.7L2139.0 1185.8L2142.0 1185.8L2145.0 1185.9L2148.0 1186.0L2151.0 1186.1L2154.0 1186.2L2157.0 1186.3L2160.0 1186.3L2163.0 1186.4L2166.0 1186.5L2169.0 1186.5L2172.0 1186.6L2175.0 1186.7L2177.9 1186.7L2180.9 1186.8L2183.9 1186.8L2186.8 1186.9L2189.8 1186.9L2192.7 1187.0L2195.7 1187.0L2198.7 1187.1L2201.7 1187.1L2204.6 1187.2L2207.4 1187.2L2209.9 1187.2L2212.0 1187.3L2215.0 1187.3"/>
<path class="f" stroke="#ff0000" d="M357.5 46.5L364.2 46.6L369.9 46.8L375.8 47.0L381.7 47.2L387.6 47.5L393.6 47.7L399.5 48.0L405.5 48.4L411.5 48.7L417.5 49.2L423.4 49.6L429.4 50.1L435.4 50.6L441.4 51.2L447.4 51.8L453.3 52.5L459.3 53.2L465.2 53.9L471.2 54.7L477.1 55.5L483.1 56.3L489.0 57.1L495.0 57.9L500.9 58.7L506.9 59.5L512.8 60.3L518.8 61.0L524.8 61.8L530.7 62.5L536.7 63.2L542.6 64.0L548.6 64.7L554.5 65.4L560.5 66.1L566.5 66.8L572.4 67.5L578.4 68.2L584.4 68.8L590.3 69.5L596.3 70.1L602.3 70.8L608.2 71.4L614.2 72.0L620.2 72.6L626.2 73.1L632.1 73.6L638.1 74.1L644.1 74.5L650.1 74.9L656.1 75.3L662.1 75.6L668.1 76.0L674.1 76.3L680.1 76.6L686.1 76.9L692.1 77.3L698.1 77.6L704.0 77.8L710.0 78.1L716.0 78.4L722.0 78.7L728.0 78.9L734.0 79.2L740.0 79.4L746.0 79.7L752.0 79.9L758.0 80.2L764.0 80.4L770.0 80.7L776.0 81.0L782.0 81.2L788.0 81.5L794.0 81.8L800.0 82.1L806.0 82.4L812.0 82.8L818.0 83.2L824.0 83.5L830.0 83.9L835.9 84.4L841.9 84.8L847.9 85.3L853.9 85.8L859.9 86.4L865.8 87.0L871.8 87.6L877.8 88.3L883.7 89.0L889.7 89.7L895.6 90.4L901.6 91.2L907.6 92.0L913.5 92.8L919.5 93.6L925.4 94.4L931.3 95.2L937.3 96.1L943.2 96.9L949.2 97.8L955.1 98.6L961.1 99.5L967.0 100.4L972.9 101.3L978.9 102.2L984.8 103.1L990.7 104.0L996.7 104.8L1002.6 105.7L1008.6 106.6L1014.5 107.4L1020.4 108.3L1026.4 109.1L1032.3 109.9L1038.3 110.7L1044.2 111.5L1050.2 112.2L1056.1 113.0L1062.1 113.7L1068.1 114.4L1074.0 115.2L1080.0 115.9L1085.9 116.7L1091.9 117.5L1097.8 118.4L1103.7 119.3L1109.7 120.3L1115.6 121.3L1121.5 122.3L1127.4 123.3L1133.3 124.3L1139.3 125.3L1145.2 126.4L1151.1 127.4L1157.0 128.5L1162.9 129.6L1168.8 130.6L1174.7 131.5L1180.7 132.3L1186.7 133.1L1192.6 133.8L1198.5 134.7L1204.4 135.9L1210.2 137.4L1215.9 139.3L1221.5 141.3L1227.2 143.4L1232.8 145.6L1238.3 147.9L1243.7 150.4L1249.0 153.2L1254.3 156.2L1259.4 159.2L1264.5 162.4L1269.5 165.7L1274.3 169.3L1278.9 173.2L1283.1 177.4L1287.1 181.9L1291.1 186.4L1295.0 190.9L1298.8 195.6L1302.4 200.4L1305.7 205.4L1309.0 210.4L1312.1 215.5L1315.1 220.7L1318.1 226.0L1320.8 231.3L1323.5 236.7L1325.9 242.2L1328.2 247.7L1330.4 253.3L1332.5 258.9L1334.5 264.5L1336.5 270.2L1338.4 275.9L1340.3 281.6L1342.2 287.3L1344.1 293.0L1345.9 298.8L1347.7 304.5L1349.5 310.2L1351.2 316.0L1352.9 321.7L1354.6 327.5L1356.3 333.3L1357.9 339.0L1359.5 344.8L1361.0 350.6L1362.6 356.4L1364.1 362.2L1365.5 368.1L1367.0 373.9L1368.4 379.7L1369.8 385.6L1371.1 391.4L1372.5 397.3L1373.8 403.1L1375.0 409.0L1376.2 414.9L1377.4 420.8L1378.5 426.7L1379.6 432.6L1380.7 438.5L1381.7 444.4L1382.7 450.3L1383.8 456.2L1384.8 462.1L1385.8 468.0L1386.9 473.9L1387.9 479.8L1389.0 485.8L1390.1 491.7L1391.2 497.6L1392.3 503.5L1393.4 509.4L1394.6 515.2L1395.7 521.1L1396.9 527.0L1398.1 532.9L1399.3 538.8L1400.5 544.7L1401.8 550.5L1403.0 556.4L1404.2 562.3L1405.5 568.2L1406.7 574.0L1408.0 579.9L1409.3 585.8L1410.5 591.6L1411.8 597.5L1413.1 603.4L1414.4 609.2L1415.6 615.1L1416.9 621.0L1418.2 626.8L1419.4 632.7L1420.8 638.6L1422.1 644.4L1423.5 650.2L1425.0 656.1L1426.5 661.9L1428.0 667.7L1429.6 673.5L1431.3 679.2L1433.0 685.0L1434.8 690.7L1436.6 696.4L1438.5 702.1L1440.5 707.8L1442.6 713.4L1444.7 719.0L1446.9 724.6L1449.1 730.2L1451.4 735.7L1453.8 741.2L1456.3 746.7L1458.9 752.1L1461.5 757.5L1464.2 762.9L1466.9 768.2L1469.7 773.5L1472.6 778.8L1475.5 784.0L1478.6 789.2L1481.6 794.4L1484.8 799.4L1488.1 804.5L1491.4 809.4L1494.9 814.4L1498.3 819.3L1501.8 824.1L1505.3 829.0L1508.8 833.9L1512.3 838.8L1515.8 843.6L1519.4 848.5L1522.9 853.3L1526.5 858.1L1530.1 862.9L1533.7 867.7L1537.3 872.5L1541.0 877.3L1544.6 882.1L1548.2 886.9L1551.7 891.8L1555.2 896.6L1558.6 901.6L1562.0 906.5L1565.4 911.5L1568.7 916.5L1572.0 921.5L1575.3 926.5L1578.5 931.6L1581.7 936.6L1584.9 941.7L1588.1 946.8L1591.2 951.9L1594.3 957.1L1597.4 962.2L1600.4 967.4L1603.5 972.6L1606.5 977.8L1609.5 982.9L1612.6 988.1L1615.6 993.3L1618.7 998.5L1621.7 1003.6L1624.8 1008.8L1627.9 1013.9L1631.1 1019.0L1634.3 1024.1L1637.6 1029.1L1641.1 1034.0L1644.6 1038.8L1648.2 1043.6L1651.9 1048.3L1655.8 1052.9L1659.7 1057.4L1663.7 1061.9L1667.7 1066.3L1671.8 1070.8L1675.9 1075.2L1679.9 1079.6L1684.0 1084.0L1688.2 1088.3L1692.5 1092.5L1696.8 1096.6L1701.3 1100.6L1705.9 1104.4L1710.6 1108.2L1715.4 1111.8L1720.2 1115.2L1725.2 1118.6L1730.3 1121.8L1735.4 1124.8L1740.7 1127.8L1746.0 1130.5L1751.4 1133.1L1756.8 1135.6L1762.4 1137.9L1767.9 1140.0L1773.6 1142.1L1779.3 1144.0L1785.0 1145.9L1790.7 1147.7L1796.5 1149.4L1802.3 1151.0L1808.1 1152.6L1813.9 1154.0L1819.7 1155.5L1825.6 1156.8L1831.4 1158.1L1837.3 1159.3L1843.2 1160.4L1849.1 1161.5L1855.0 1162.5L1860.9 1163.5L1866.9 1164.4L1872.8 1165.2L1878.8 1166.1L1884.7 1166.9L1890.7 1167.7L1896.6 1168.5L1902.6 1169.3L1908.5 1170.0L1914.5 1170.8L1920.4 1171.5L1926.4 1172.2L1932.4 1172.9L1938.3 1173.5L1944.3 1174.2L1950.3 1174.8L1956.2 1175.4L1962.2 1176.0L1968.2 1176.6L1974.2 1177.2L1980.1 1177.7L1986.1 1178.2L1992.1 1178.7L1998.1 1179.2L2004.1 1179.7L2010.1 1180.1L2016.0 1180.6L2022.0 1181.0L2028.0 1181.4L2034.0 1181.7L2040.0 1182.1L2046.0 1182.4L2052.0 1182.7L2058.0 1183.0L2064.0 1183.2L2070.0 1183.5L2076.0 1183.7L2082.0 1183.9L2088.0 1184.1L2094.0 1184.3L2100.0 1184.5L2106.0 1184.7L2112.0 1184.9L2118.0 1185.1L2124.0 1185.3L2130.0 1185.5L2136.0 1185.7L2142.0 1185.8L2148.0 1186.0L2154.0 1186.2L2160.0 1186.3L2166.0 1186.5L2172.0 1186.6L2177.9 1186.7L2183.9 1186.8L2189.8 1186.9L2195.7 1187.0L2201.7 1187.1L2207.4 1187.2L2212.0 1187.3L2215.0 1187.3"/>
<path class="c" stroke="#00ff00" d="M388.0 48.5L392.3 49.0L394.7 49.3L397.4 49.6L400.3 49.9L403.2 50.3L406.2 50.7L409.1 51.1L412.1 51.5L415.0 51.9L417.9 52.3L420.8 52.7L423.8 53.2L426.7 53.6L429.7 54.1L432.6 54.5L435.6 55.0L438.5 55.5L441.5 56.0L444.4 56.6L447.4 57.1L450.3 57.7L453.3 58.3L456.2 58.9L459.1 59.5L462.1 60.2L465.0 60.9L467.9 61.5L470.8 62.3L473.7 63.0L476.6 63.7L479.5 64.5L482.4 65.2L485.3 66.0L488.2 66.7L491.1 67.5L494.1 68.3L497.0 69.0L499.9 69.8L502.8 70.5L505.7 71.3L508.6 72.0L511.5 72.8L514.4 73.5L517.3 74.3L520.2 75.0L523.1 75.7L526.0 76.4L529.0 77.2L531.9 77.9L534.8 78.6L537.7 79.4L540.6 80.1L543.5 80.8L546.4 81.5L549.3 82.2L552.3 83.0L555.2 83.7L558.1 84.4L561.0 85.1L563.9 85.8L566.8 86.5L569.8 87.2L572.7 87.9L575.6 88.6L578.5 89.2L581.5 89.9L584.4 90.5L587.3 91.2L590.3 91.8L593.2 92.4L596.1 93.0L599.1 93.6L602.0 94.1L605.0 94.7L607.9 95.2L610.9 95.8L613.8 96.3L616.8 96.8L619.8 97.3L622.7 97.8L625.7 98.2L628.6 98.7L631.6 99.1L634.6 99.6L637.6 100.0L640.5 100.4L643.5 100.8L646.5 101.2L649.5 101.6L652.4 101.9L655.4 102.3L658.4 102.6L661.4 102.9L664.4 103.3L667.4 103.6L670.3 103.8L673.3 104.1L676.3 104.4L679.3 104.7L682.3 104.9L685.3 105.1L688.3 105.4L691.3 105.6L694.3 105.8L697.3 106.0L700.3 106.2L703.3 106.4L706.2 106.5L709.2 106.7L712.2 106.9L715.2 107.0L718.2 107.2L721.2 107.3L724.2 107.4L727.2 107.5L730.2 107.7L733.2 107.8L736.2 107.9L739.2 108.0L742.2 108.1L745.2 108.2L748.2 108.3L751.2 108.4L754.2 108.5L757.2 108.6L760.2 108.6L763.2 108.7L766.2 108.8L769.2 108.9L772.2 108.9L775.2 109.0L778.2 109.1L781.2 109.2L784.2 109.2L787.2 109.3L790.2 109.3L793.2 109.4L796.2 109.5L799.2 109.5L802.2 109.6L805.2 109.7L808.2 109.8L811.2 109.8L814.2 109.9L817.2 110.0L820.2 110.1L823.2 110.2L826.2 110.3L829.2 110.4L832.2 110.5L835.2 110.7L838.2 110.8L841.2 110.9L844.2 111.0L847.2 111.2L850.2 111.3L853.2 111.4L856.2 111.6L859.2 111.7L862.2 111.8L865.2 112.0L868.2 112.1L871.2 112.2L874.2 112.3L877.2 112.4L880.2 112.6L883.2 112.7L886.2 112.8L889.2 112.9L892.2 113.0L895.2 113.1L898.2 113.2L901.2 113.3L904.2 113.4L907.2 113.5L910.2 113.6L913.2 113.7L916.2 113.7L919.2 113.8L922.2 113.9L925.2 114.0L928.2 114.1L931.2 114.1L934.2 114.2L937.2 114.3L940.2 114.4L943.2 114.4L946.2 114.5L949.2 114.6L952.2 114.7L955.2 114.7L958.2 114.8L961.2 114.9L964.2 115.0L967.2 115.1L970.2 115.1L973.2 115.2L976.2 115.3L979.2 115.4L982.2 115.5L985.2 115.6L988.2 115.7L991.2 115.8L994.2 115.8L997.2 115.9L1000.2 116.0L1003.2 116.1L1006.2 116.2L1009.2 116.3L1012.2 116.4L1015.2 116.5L1018.2 116.6L1021.2 116.7L1024.2 116.8L1027.2 117.0L1030.2 117.1L1033.2 117.2L1036.2 117.3L1039.2 117.5L1042.2 117.6L1045.2 117.7L1048.2 117.9L1051.2 118.0L1054.2 118.2L1057.2 118.3L1060.2 118.5L1063.2 118.7L1066.2 118.8L1069.2 119.0L1072.2 119.2L1075.2 119.4L1078.1 119.6L1081.1 119.8L1084.1 120.0L1087.1 120.2L1090.1 120.4L1093.1 120.6L1096.1 120.8L1099.1 121.0L1102.1 121.2L1105.1 121.4L1108.1 121.7L1111.1 121.9L1114.1 122.1L1117.1 122.3L1120.1 122.6L1123.1 122.8L1126.0 123.1L1129.0 123.3L1132.0 123.6L1135.0 123.8L1138.0 124.1L1141.0 124.3L1144.0 124.6L1147.0 124.8L1150.0 125.1L1153.0 125.4L1156.0 125.7L1159.0 126.0L1161.9 126.3L1164.9 126.6L1167.9 127.0L1170.9 127.3L1173.8 127.7L1176.8 128.2L1179.8 128.6L1182.7 129.1L1185.7 129.7L1188.6 130.3L1191.5 131.0L1194.4 131.7L1197.4 132.4L1200.3 133.1L1203.2 133.8L1206.1 134.5L1209.0 135.2L1211.9 136.0L1214.8 136.9L1217.6 137.9L1220.4 139.0L1223.1 140.2L1225.8 141.5L1228.5 142.9L1231.1 144.3L1233.8 145.7L1236.4 147.1L1239.1 148.5L1241.7 150.0L1244.2 151.6L1246.7 153.3L1249.1 155.0L1251.5 156.8L1253.8 158.8L1256.1 160.7L1258.3 162.8L1260.4 164.8L1262.6 166.9L1264.7 169.1L1266.8 171.2L1268.9 173.3L1271.1 175.4L1273.2 177.6L1275.2 179.8L1277.2 182.0L1279.2 184.3L1281.1 186.6L1282.9 189.0L1284.6 191.4L1286.2 193.9L1287.8 196.5L1289.3 199.1L1290.8 201.7L1292.3 204.3L1293.8 206.9L1295.3 209.5L1296.7 212.2L1298.0 214.8L1299.3 217.5L1300.6 220.2L1301.8 223.0L1303.1 225.7L1304.2 228.5L1305.4 231.3L1306.5 234.0L1307.6 236.8L1308.7 239.6L1309.7 242.5L1310.7 245.3L1311.7 248.1L1312.7 250.9L1313.7 253.8L1314.6 256.6L1315.5 259.5L1316.4 262.4L1317.3 265.2L1318.2 268.1L1319.0 271.0L1319.9 273.9L1320.7 276.8L1321.5 279.7L1322.3 282.5L1323.0 285.4L1323.8 288.4L1324.5 291.3L1325.3 294.2L1326.0 297.1L1326.7 300.0L1327.4 302.9L1328.1 305.8L1328.8 308.8L1329.5 311.7L1330.1 314.6L1330.8 317.5L1331.4 320.5L1332.1 323.4L1332.7 326.3L1333.4 329.3L1334.0 332.2L1334.6 335.1L1335.2 338.1L1335.8 341.0L1336.4 343.9L1337.0 346.9L1337.6 349.8L1338.2 352.8L1338.8 355.7L1339.4 358.7L1340.0 361.6L1340.6 364.5L1341.1 367.5L1341.7 370.4L1342.3 373.4L1342.8 376.3L1343.4 379.3L1343.9 382.2L1344.5 385.2L1345.1 388.1L1345.6 391.1L1346.2 394.0L1346.7 397.0L1347.2 399.9L1347.8 402.9L1348.3 405.8L1348.9 408.8L1349.4 411.7L1350.0 414.7L1350.5 417.6L1351.0 420.6L1351.6 423.6L1352.1 426.5L1352.6 429.5L1353.2 432.4L1353.7 435.4L1354.3 438.3L1354.8 441.3L1355.3 444.2L1355.8 447.2L1356.4 450.1L1356.9 453.1L1357.4 456.0L1358.0 459.0L1358.5 462.0L1359.0 464.9L1359.5 467.9L1360.0 470.8L1360.5 473.8L1361.1 476.7L1361.6 479.7L1362.1 482.7L1362.6 485.6L1363.1 488.6L1363.6 491.5L1364.1 494.5L1364.6 497.4L1365.1 500.4L1365.6 503.4L1366.1 506.3L1366.6 509.3L1367.1 512.2L1367.6 515.2L1368.1 518.2L1368.6 521.1L1369.0 524.1L1369.5 527.1L1370.0 530.0L1370.5 533.0L1371.0 535.9L1371.5 538.9L1371.9 541.9L1372.4 544.8L1372.9 547.8L1373.4 550.7L1373.9 553.7L1374.4 556.7L1374.9 559.6L1375.4 562.6L1375.9 565.5L1376.4 568.5L1376.9 571.5L1377.4 574.4L1378.0 577.4L1378.5 580.3L1379.0 583.3L1379.6 586.2L1380.1 589.2L1380.7 592.1L1381.2 595.1L1381.8 598.0L1382.4 601.0L1382.9 603.9L1383.5 606.9L1384.1 609.8L1384.6 612.8L1385.2 615.7L1385.8 618.6L1386.4 621.6L1386.9 624.5L1387.5 627.5L1388.1 630.4L1388.7 633.4L1389.3 636.3L1389.9 639.3L1390.5 642.2L1391.1 645.1L1391.6 648.1L1392.2 651.0L1392.8 654.0L1393.4 656.9L1393.9 659.9L1394.5 662.8L1395.1 665.8L1395.6 668.7L1396.2 671.7L1396.8 674.6L1397.3 677.6L1397.9 680.5L1398.4 683.4L1399.0 686.4L1399.6 689.3L1400.2 692.3L1400.7 695.2L1401.3 698.2L1401.9 701.1L1402.5 704.1L1403.1 707.0L1403.7 709.9L1404.3 712.9L1404.9 715.8L1405.5 718.8L1406.1 721.7L1406.8 724.6L1407.4 727.6L1408.1 730.5L1408.7 733.4L1409.4 736.4L1410.0 739.3L1410.7 742.2L1411.4 745.1L1412.1 748.0L1412.8 751.0L1413.5 753.9L1414.2 756.8L1415.0 759.7L1415.7 762.6L1416.4 765.5L1417.2 768.4L1418.0 771.3L1418.8 774.2L1419.5 777.1L1420.3 780.0L1421.2 782.9L1422.0 785.8L1422.8 788.7L1423.7 791.5L1424.5 794.4L1425.4 797.3L1426.3 800.1L1427.2 803.0L1428.1 805.9L1429.1 808.7L1430.0 811.6L1431.0 814.4L1431.9 817.2L1432.9 820.1L1433.9 822.9L1434.9 825.7L1436.0 828.6L1437.0 831.4L1438.0 834.2L1439.1 837.0L1440.1 839.8L1441.2 842.6L1442.2 845.4L1443.3 848.2L1444.3 851.0L1445.4 853.9L1446.5 856.7L1447.5 859.5L1448.6 862.3L1449.7 865.1L1450.8 867.9L1451.9 870.7L1452.9 873.5L1454.0 876.3L1455.1 879.1L1456.2 881.9L1457.3 884.6L1458.4 887.4L1459.5 890.2L1460.7 893.0L1461.8 895.8L1462.9 898.6L1464.1 901.3L1465.2 904.1L1466.4 906.9L1467.6 909.6L1468.8 912.4L1470.0 915.1L1471.2 917.9L1472.5 920.6L1473.8 923.3L1475.1 926.0L1476.4 928.7L1477.8 931.3L1479.1 934.0L1480.6 936.7L1482.0 939.3L1483.4 941.9L1484.9 944.5L1486.4 947.1L1488.0 949.7L1489.5 952.2L1491.1 954.8L1492.7 957.3L1494.3 959.8L1496.0 962.3L1497.6 964.8L1499.3 967.3L1501.0 969.8L1502.7 972.3L1504.4 974.8L1506.1 977.2L1507.8 979.7L1509.5 982.2L1511.3 984.6L1513.0 987.1L1514.7 989.5L1516.4 992.0L1518.1 994.5L1519.8 996.9L1521.5 999.4L1523.3 1001.8L1525.0 1004.3L1526.8 1006.7L1528.5 1009.1L1530.3 1011.5L1532.1 1013.9L1534.0 1016.3L1535.8 1018.7L1537.7 1021.0L1539.6 1023.3L1541.4 1025.7L1543.3 1028.0L1545.2 1030.3L1547.2 1032.6L1549.1 1034.9L1551.0 1037.3L1552.9 1039.6L1554.8 1041.9L1556.7 1044.2L1558.6 1046.5L1560.5 1048.8L1562.4 1051.1L1564.3 1053.5L1566.2 1055.8L1568.1 1058.1L1570.0 1060.4L1571.9 1062.8L1573.8 1065.1L1575.8 1067.4L1577.7 1069.7L1579.5 1072.0L1581.4 1074.4L1583.3 1076.7L1585.2 1079.0L1587.1 1081.4L1589.0 1083.7L1590.9 1086.0L1592.8 1088.4L1594.7 1090.7L1596.5 1093.0L1598.4 1095.4L1600.3 1097.7L1602.2 1100.1L1604.0 1102.4L1605.9 1104.8L1607.8 1107.1L1609.7 1109.5L1611.5 1111.8L1613.4 1114.1L1615.3 1116.5L1617.2 1118.8L1619.1 1121.1L1621.0 1123.4L1622.9 1125.7L1624.8 1128.0L1626.8 1130.3L1628.7 1132.6L1630.7 1134.9L1632.6 1137.2L1634.6 1139.4L1636.6 1141.7L1638.6 1143.9L1640.7 1146.1L1642.7 1148.3L1644.8 1150.5L1646.8 1152.7L1648.9 1154.8L1651.0 1157.0L1653.1 1159.1L1655.3 1161.2L1657.4 1163.3L1659.6 1165.3L1661.8 1167.3L1664.0 1169.4L1666.3 1171.4L1668.5 1173.3L1670.8 1175.3L1673.1 1177.2L1675.4 1179.1L1677.8 1181.0L1680.1 1182.8L1682.5 1184.7L1684.9 1186.5L1687.3 1188.2L1689.7 1190.0L1692.2 1191.7L1694.7 1193.4L1697.2 1195.1L1699.7 1196.7L1702.2 1198.3L1704.7 1199.9L1707.3 1201.5L1709.9 1203.0L1712.5 1204.5L1715.1 1206.0L1717.7 1207.5L1720.3 1208.9L1723.0 1210.3L1725.6 1211.7L1728.3 1213.0L1731.0 1214.4L1733.7 1215.7L1736.4 1217.0L1739.1 1218.2L1741.9 1219.4L1744.6 1220.7L1747.4 1221.9L1750.1 1223.0L1752.9 1224.2L1755.7 1225.3L1758.5 1226.4L1761.3 1227.4L1764.1 1228.4L1766.9 1229.4L1769.8 1230.4L1772.6 1231.4L1775.5 1232.3L1778.3 1233.2L1781.2 1234.0L1784.1 1234.9L1787.0 1235.7L1789.9 1236.4L1792.8 1237.2L1795.7 1237.9L1798.6 1238.6L1801.5 1239.3L1804.4 1240.0L1807.4 1240.6L1810.3 1241.3L1813.2 1241.9L1816.2 1242.5L1819.1 1243.1L1822.1 1243.6L1825.0 1244.2L1828.0 1244.7L1830.9 1245.2L1833.9 1245.7L1836.8 1246.2L1839.8 1246.7L1842.8 1247.2L1845.7 1247.6L1848.7 1248.1L1851.7 1248.5L1854.6 1248.9L1857.6 1249.4L1860.6 1249.8L1863.6 1250.2L1866.5 1250.5L1869.5 1250.9L1872.5 1251.3L1875.5 1251.7L1878.4 1252.0L1881.4 1252.4L1884.4 1252.7L1887.4 1253.1L1890.4 1253.4L1893.4 1253.7L1896.3 1254.1L1899.3 1254.4L1902.3 1254.7L1905.3 1255.0L1908.3 1255.3L1911.3 1255.6L1914.3 1255.9L1917.2 1256.2L1920.2 1256.5L1923.2 1256.8L1926.2 1257.1L1929.2 1257.3L1932.2 1257.6L1935.2 1257.9L1938.2 1258.1L1941.1 1258.4L1944.1 1258.7L1947.1 1258.9L1950.1 1259.2L1953.1 1259.4L1956.1 1259.6L1959.1 1259.9L1962.1 1260.1L1965.1 1260.3L1968.1 1260.6L1971.1 1260.8L1974.1 1261.0L1977.1 1261.2L1980.0 1261.4L1983.0 1261.6L1986.0 1261.8L1989.0 1262.0L1992.0 1262.2L1995.0 1262.4L1998.0 1262.6L2001.0 1262.8L2004.0 1263.0L2007.0 1263.1L2010.0 1263.3L2013.0 1263.5L2016.0 1263.6L2019.0 1263.8L2022.0 1264.0L2025.0 1264.1L2028.0 1264.3L2031.0 1264.4L2034.0 1264.6L2037.0 1264.7L2040.0 1264.8L2043.0 1265.0L2046.0 1265.1L2049.0 1265.2L2052.0 1265.3L2055.0 1265.4L2058.0 1265.5L2061.0 1265.6L2064.0 1265.7L2067.0 1265.8L2070.0 1265.9L2073.0 1266.0L2076.0 1266.0L2079.0 1266.1L2082.0 1266.2L2085.0 1266.3L2088.0 1266.3L2091.0 1266.4L2094.0 1266.5L2097.0 1266.5L2100.0 1266.6L2103.0 1266.7L2106.0 1266.7L2109.0 1266.8L2112.0 1266.9L2115.0 1266.9L2118.0 1267.0L2121.0 1267.1L2124.0 1267.1L2127.0 1267.2L2130.0 1267.2L2133.0 1267.3L2136.0 1267.4L2139.0 1267.4L2142.0 1267.5L2145.0 1267.5L2148.0 1267.6L2151.0 1267.6L2154.0 1267.7L2157.0 1267.7L2160.0 1267.8L2163.0 1267.8L2166.0 1267.9L2169.0 1267.9L2172.0 1268.0L2175.0 1268.0L2177.9 1268.1L2180.9 1268.1L2183.9 1268.1L2186.8 1268.2L2189.8 1268.2L2192.7 1268.3L2195.7 1268.3L2198.7 1268.3L2201.7 1268.4L2204.6 1268.4L2207.4 1268.4L2209.9 1268.5L2212.0 1268.5L2215.0 1268.5"/>
<path class="f" stroke="#00ff00" d="M388.0 48.5L394.7 49.3L400.3 49.9L406.2 50.7L412.1 51.5L417.9 52.3L423.8 53.2L429.7 54.1L435.6 55.0L441.5 56.0L447.4 57.1L453.3 58.3L459.1 59.5L465.0 60.9L470.8 62.3L476.6 63.7L482.4 65.2L488.2 66.7L494.1 68.3L499.9 69.8L505.7 71.3L511.5 72.8L517.3 74.3L523.1 75.7L529.0 77.2L534.8 78.6L540.6 80.1L546.4 81.5L552.3 83.0L558.1 84.4L563.9 85.8L569.8 87.2L575.6 88.6L581.5 89.9L587.3 91.2L593.2 92.4L599.1 93.6L605.0 94.7L610.9 95.8L616.8 96.8L622.7 97.8L628.6 98.7L634.6 99.6L640.5 100.4L646.5 101.2L652.4 101.9L658.4 102.6L664.4 103.3L670.3 103.8L676.3 104.4L682.3 104.9L688.3 105.4L694.3 105.8L700.3 106.2L706.2 106.5L712.2 106.9L718.2 107.2L724.2 107.4L730.2 107.7L736.2 107.9L742.2 108.1L748.2 108.3L754.2 108.5L760.2 108.6L766.2 108.8L772.2 108.9L778.2 109.1L784.2 109.2L790.2 109.3L796.2 109.5L802.2 109.6L808.2 109.8L814.2 109.9L820.2 110.1L826.2 110.3L832.2 110.5L838.2 110.8L844.2 111.0L850.2 111.3L856.2 111.6L862.2 111.8L868.2 112.1L874.2 112.3L880.2 112.6L886.2 112.8L892.2 113.0L898.2 113.2L904.2 113.4L910.2 113.6L916.2 113.7L922.2 113.9L928.2 114.1L934.2 114.2L940.2 114.4L946.2 114.5L952.2 114.7L958.2 114.8L964.2 115.0L970.2 115.1L976.2 115.3L982.2 115.5L988.2 115.7L994.2 115.8L1000.2 116.0L1006.2 116.2L1012.2 116.4L1018.2 116.6L1024.2 116.8L1030.2 117.1L1036.2 117.3L1042.2 117.6L1048.2 117.9L1054.2 118.2L1060.2 118.5L1066.2 118.8L1072.2 119.2L1078.1 119.6L1084.1 120.0L1090.1 120.4L1096.1 120.8L1102.1 121.2L1108.1 121.7L1114.1 122.1L1120.1 122.6L1126.0 123.1L1132.0 123.6L1138.0 124.1L1144.0 124.6L1150.0 125.1L1156.0 125.7L1161.9 126.3L1167.9 127.0L1173.8 127.7L1179.8 128.6L1185.7 129.7L1191.5 131.0L1197.4 132.4L1203.2 133.8L1209.0 135.2L1214.8 136.9L1220.4 139.0L1225.8 141.5L1231.1 144.3L1236.4 147.1L1241.7 150.0L1246.7 153.3L1251.5 156.8L1256.1 160.7L1260.4 164.8L1264.7 169.1L1268.9 173.3L1273.2 177.6L1277.2 182.0L1281.1 186.6L1284.6 191.4L1287.8 196.5L1290.8 201.7L1293.8 206.9L1296.7 212.2L1299.3 217.5L1301.8 223.0L1304.2 228.5L1306.5 234.0L1308.7 239.6L1310.7 245.3L1312.7 250.9L1314.6 256.6L1316.4 262.4L1318.2 268.1L1319.9 273.9L1321.5 279.7L1323.0 285.4L1324.5 291.3L1326.0 297.1L1327.4 302.9L1328.8 308.8L1330.1 314.6L1331.4 320.5L1332.7 326.3L1334.0 332.2L1335.2 338.1L1336.4 343.9L1337.6 349.8L1338.8 355.7L1340.0 361.6L1341.1 367.5L1342.3 373.4L1343.4 379.3L1344.5 385.2L1345.6 391.1L1346.7 397.0L1347.8 402.9L1348.9 408.8L1350.0 414.7L1351.0 420.6L1352.1 426.5L1353.2 432.4L1354.3 438.3L1355.3 444.2L1356.4 450.1L1357.4 456.0L1358.5 462.0L1359.5 467.9L1360.5 473.8L1361.6 479.7L1362.6 485.6L1363.6 491.5L1364.6 497.4L1365.6 503.4L1366.6 509.3L1367.6 515.2L1368.6 521.1L1369.5 527.1L1370.5 533.0L1371.5 538.9L1372.4 544.8L1373.4 550.7L1374.4 556.7L1375.4 562.6L1376.4 568.5L1377.4 574.4L1378.5 580.3L1379.6 586.2L1380.7 592.1L1381.8 598.0L1382.9 603.9L1384.1 609.8L1385.2 615.7L1386.4 621.6L1387.5 627.5L1388.7 633.4L1389.9 639.3L1391.1 645.1L1392.2 651.0L1393.4 656.9L1394.5 662.8L1395.6 668.7L1396.8 674.6L1397.9 680.5L1399.0 686.4L1400.2 692.3L1401.3 698.2L1402.5 704.1L1403.7 709.9L1404.9 715.8L1406.1 721.7L1407.4 727.6L1408.7 733.4L1410.0 739.3L1411.4 745.1L1412.8 751.0L1414.2 756.8L1415.7 762.6L1417.2 768.4L1418.8 774.2L1420.3 780.0L1422.0 785.8L1423.7 791.5L1425.4 797.3L1427.2 803.0L1429.1 808.7L1431.0 814.4L1432.9 820.1L1434.9 825.7L1437.0 831.4L1439.1 837.0L1441.2 842.6L1443.3 848.2L1445.4 853.9L1447.5 859.5L1449.7 865.1L1451.9 870.7L1454.0 876.3L1456.2 881.9L1458.4 887.4L1460.7 893.0L1462.9 898.6L1465.2 904.1L1467.6 909.6L1470.0 915.1L1472.5 920.6L1475.1 926.0L1477.8 931.3L1480.6 936.7L1483.4 941.9L1486.4 947.1L1489.5 952.2L1492.7 957.3L1496.0 962.3L1499.3 967.3L1502.7 972.3L1506.1 977.2L1509.5 982.2L1513.0 987.1L1516.4 992.0L1519.8 996.9L1523.3 1001.8L1526.8 1006.7L1530.3 1011.5L1534.0 1016.3L1537.7 1021.0L1541.4 1025.7L1545.2 1030.3L1549.1 1034.9L1552.9 1039.6L1556.7 1044.2L1560.5 1048.8L1564.3 1053.5L1568.1 1058.1L1571.9 1062.8L1575.8 1067.4L1579.5 1072.0L1583.3 1076.7L1587.1 1081.4L1590.9 1086.0L1594.7 1090.7L1598.4 1095.4L1602.2 1100.1L1605.9 1104.8L1609.7 1109.5L1613.4 1114.1L1617.2 1118.8L1621.0 1123.4L1624.8 1128.0L1628.7 1132.6L1632.6 1137.2L1636.6 1141.7L1640.7 1146.1L1644.8 1150.5L1648.9 1154.8L1653.1 1159.1L1657.4 1163.3L1661.8 1167.3L1666.3 1171.4L1670.8 1175.3L1675.4 1179.1L1680.1 1182.8L1684.9 1186.5L1689.7 1190.0L1694.7 1193.4L1699.7 1196.7L1704.7 1199.9L1709.9 1203.0L1715.1 1206.0L1720.3 1208.9L1725.6 1211.7L1731.0 1214.4L1736.4 1217.0L1741.9 1219.4L1747.4 1221.9L1752.9 1224.2L1758.5 1226.4L1764.1 1228.4L1769.8 1230.4L1775.5 1232.3L1781.2 1234.0L1787.0 1235.7L1792.8 1237.2L1798.6 1238.6L1804.4 1240.0L1810.3 1241.3L1816.2 1242.5L1822.1 1243.6L1828.0 1244.7L1833.9 1245.7L1839.8 1246.7L1845.7 1247.6L1851.7 1248.5L1857.6 1249.4L1863.6 1250.2L1869.5 1250.9L1875.5 1251.7L1881.4 1252.4L1887.4 1253.1L1893.4 1253.7L1899.3 1254.4L1905.3 1255.0L1911.3 1255.6L1917.2 1256.2L1923.2 1256.8L1929.2 1257.3L1935.2 1257.9L1941.1 1258.4L1947.1 1258.9L1953.1 1259.4L1959.1 1259.9L1965.1 1260.3L1971.1 1260.8L1977.1 1261.2L1983.0 1261.6L1989.0 1262.0L1995.0 1262.4L2001.0 1262.8L2007.0 1263.1L2013.0 1263.5L2019.0 1263.8L2025.0 1264.1L2031.0 1264.4L2037.0 1264.7L2043.0 1265.0L2049.0 1265.2L2055.0 1265.4L2061.0 1265.6L2067.0 1265.8L2073.0 1266.0L2079.0 1266.1L2085.0 1266.3L2091.0 1266.4L2097.0 1266.5L2103.0 1266.7L2109.0 1266.8L2115.0 1266.9L2121.0 1267.1L2127.0 1267.2L2133.0 1267.3L2139.0 1267.4L2145.0 1267.5L2151.0 1267.6L2157.0 1267.7L2163.0 1267.8L2169.0 1267.9L2175.0 1268.0L2180.9 1268.1L2186.8 1268.2L2192.7 1268.3L2198.7 1268.3L2204.6 1268.4L2209.9 1268.5L2215.0 1268.5"/>
<path class="c" stroke="#0000ff" d="M382.8 46.2L386.9 47.6L389.2 48.4L391.8 49.2L394.5 50.1L397.4 51.0L400.2 51.9L403.1 52.7L405.9 53.5L408.8 54.3L411.6 55.0L414.5 55.8L417.4 56.5L420.2 57.2L423.1 58.0L426.0 58.7L429.0 59.4L431.9 60.1L434.8 60.8L437.7 61.5L440.6 62.3L443.5 63.0L446.4 63.8L449.3 64.5L452.2 65.3L455.1 66.1L458.0 66.9L460.9 67.8L463.7 68.6L466.6 69.5L469.5 70.4L472.3 71.3L475.2 72.3L478.0 73.2L480.9 74.2L483.7 75.1L486.5 76.1L489.4 77.1L492.2 78.1L495.0 79.1L497.9 80.1L500.7 81.1L503.5 82.1L506.4 83.1L509.2 84.1L512.0 85.1L514.9 86.1L517.7 87.1L520.5 88.1L523.4 89.1L526.2 90.1L529.0 91.0L531.9 92.0L534.7 92.9L537.6 93.8L540.5 94.7L543.3 95.6L546.2 96.5L549.1 97.3L551.9 98.2L554.8 99.0L557.7 99.7L560.6 100.5L563.5 101.3L566.4 102.0L569.4 102.7L572.3 103.4L575.2 104.1L578.1 104.8L581.0 105.5L584.0 106.2L586.9 106.8L589.8 107.5L592.8 108.1L595.7 108.7L598.6 109.4L601.6 110.0L604.5 110.6L607.5 111.1L610.4 111.7L613.4 112.3L616.3 112.8L619.3 113.4L622.2 113.9L625.2 114.4L628.1 114.9L631.1 115.4L634.1 115.9L637.0 116.4L640.0 116.8L642.9 117.3L645.9 117.7L648.9 118.2L651.9 118.6L654.8 119.0L657.8 119.4L660.8 119.8L663.8 120.2L666.7 120.5L669.7 120.9L672.7 121.2L675.7 121.6L678.7 121.9L681.6 122.2L684.6 122.5L687.6 122.8L690.6 123.1L693.6 123.4L696.6 123.7L699.6 123.9L702.6 124.2L705.6 124.4L708.5 124.7L711.5 124.9L714.5 125.1L717.5 125.4L720.5 125.6L723.5 125.8L726.5 126.0L729.5 126.2L732.5 126.4L735.5 126.5L738.5 126.7L741.5 126.9L744.5 127.0L747.5 127.2L750.5 127.3L753.5 127.5L756.5 127.6L759.5 127.7L762.5 127.9L765.5 128.0L768.5 128.1L771.5 128.2L774.5 128.3L777.5 128.3L780.5 128.4L783.5 128.5L786.5 128.6L789.5 128.6L792.5 128.7L795.5 128.8L798.5 128.8L801.5 128.9L804.5 129.0L807.5 129.1L810.5 129.1L813.5 129.2L816.5 129.3L819.5 129.4L822.5 129.5L825.5 129.6L828.5 129.7L831.5 129.9L834.5 130.0L837.5 130.1L840.5 130.3L843.5 130.4L846.5 130.6L849.5 130.7L852.5 130.8L855.5 131.0L858.5 131.1L861.5 131.3L864.5 131.4L867.5 131.6L870.5 131.7L873.5 131.8L876.5 132.0L879.5 132.1L882.5 132.2L885.5 132.3L888.5 132.5L891.5 132.6L894.5 132.7L897.5 132.8L900.5 132.9L903.5 133.1L906.5 133.2L909.5 133.3L912.5 133.4L915.4 133.5L918.4 133.6L921.4 133.8L924.4 133.9L927.4 134.0L930.4 134.1L933.4 134.2L936.4 134.4L939.4 134.5L942.4 134.6L945.4 134.7L948.4 134.8L951.4 135.0L954.4 135.1L957.4 135.2L960.4 135.3L963.4 135.5L966.4 135.6L969.4 135.7L972.4 135.9L975.4 136.0L978.4 136.1L981.4 136.3L984.4 136.4L987.4 136.6L990.4 136.7L993.4 136.8L996.4 137.0L999.4 137.2L1002.4 137.3L1005.4 137.5L1008.4 137.7L1011.4 137.8L1014.4 138.0L1017.4 138.2L1020.4 138.4L1023.4 138.6L1026.4 138.8L1029.4 139.0L1032.4 139.3L1035.4 139.5L1038.4 139.7L1041.3 140.0L1044.3 140.2L1047.3 140.5L1050.3 140.7L1053.3 141.0L1056.3 141.3L1059.3 141.6L1062.3 141.9L1065.3 142.2L1068.2 142.6L1071.2 142.9L1074.2 143.3L1077.2 143.6L1080.1 144.0L1083.1 144.4L1086.1 144.8L1089.1 145.3L1092.0 145.7L1095.0 146.2L1097.9 146.7L1100.9 147.2L1103.9 147.7L1106.8 148.3L1109.7 148.9L1112.7 149.5L1115.6 150.1L1118.6 150.7L1121.5 151.4L1124.4 152.0L1127.3 152.7L1130.2 153.5L1133.1 154.2L1136.0 155.0L1138.9 155.8L1141.8 156.7L1144.6 157.6L1147.5 158.5L1150.3 159.4L1153.2 160.4L1156.0 161.4L1158.8 162.4L1161.6 163.5L1164.4 164.7L1167.1 165.8L1169.9 167.0L1172.6 168.3L1175.3 169.6L1178.0 170.9L1180.6 172.4L1183.2 173.9L1185.8 175.5L1188.3 177.1L1190.8 178.8L1193.2 180.5L1195.6 182.3L1198.0 184.2L1200.3 186.0L1202.6 188.0L1204.8 190.0L1207.1 192.0L1209.3 194.0L1211.4 196.1L1213.6 198.2L1215.7 200.3L1217.8 202.5L1219.8 204.7L1221.8 206.9L1223.7 209.2L1225.7 211.5L1227.5 213.9L1229.4 216.2L1231.3 218.6L1233.1 221.0L1234.9 223.4L1236.7 225.8L1238.4 228.2L1240.0 230.7L1241.7 233.2L1243.3 235.8L1244.9 238.3L1246.5 240.9L1248.0 243.4L1249.6 246.0L1251.1 248.6L1252.5 251.2L1254.0 253.9L1255.4 256.5L1256.8 259.2L1258.1 261.8L1259.5 264.5L1260.9 267.2L1262.2 269.9L1263.6 272.6L1264.9 275.2L1266.2 277.9L1267.5 280.7L1268.8 283.4L1270.0 286.1L1271.3 288.8L1272.5 291.6L1273.7 294.3L1274.9 297.1L1276.1 299.8L1277.3 302.6L1278.5 305.3L1279.6 308.1L1280.8 310.9L1281.9 313.7L1283.0 316.5L1284.1 319.3L1285.2 322.1L1286.2 324.9L1287.2 327.7L1288.2 330.5L1289.2 333.3L1290.2 336.2L1291.2 339.0L1292.1 341.9L1293.0 344.7L1294.0 347.6L1294.9 350.4L1295.8 353.3L1296.6 356.2L1297.5 359.0L1298.4 361.9L1299.2 364.8L1300.1 367.7L1300.9 370.6L1301.8 373.4L1302.6 376.3L1303.5 379.2L1304.3 382.1L1305.1 385.0L1305.9 387.9L1306.8 390.8L1307.6 393.6L1308.4 396.5L1309.2 399.4L1309.9 402.3L1310.7 405.2L1311.5 408.1L1312.2 411.0L1313.0 413.9L1313.7 416.9L1314.4 419.8L1315.1 422.7L1315.7 425.6L1316.4 428.5L1317.1 431.5L1317.7 434.4L1318.3 437.3L1319.0 440.3L1319.6 443.2L1320.2 446.1L1320.8 449.1L1321.4 452.0L1322.0 455.0L1322.6 457.9L1323.2 460.8L1323.8 463.8L1324.4 466.7L1325.0 469.7L1325.6 472.6L1326.2 475.6L1326.8 478.5L1327.5 481.4L1328.1 484.4L1328.7 487.3L1329.3 490.3L1329.9 493.2L1330.5 496.1L1331.1 499.1L1331.7 502.0L1332.3 504.9L1333.0 507.9L1333.6 510.8L1334.2 513.7L1334.9 516.7L1335.5 519.6L1336.2 522.5L1336.8 525.5L1337.5 528.4L1338.2 531.3L1338.8 534.3L1339.5 537.2L1340.2 540.1L1340.8 543.0L1341.5 546.0L1342.2 548.9L1342.8 551.8L1343.4 554.7L1344.1 557.7L1344.7 560.6L1345.3 563.6L1345.9 566.5L1346.5 569.4L1347.0 572.4L1347.6 575.3L1348.2 578.3L1348.7 581.2L1349.2 584.2L1349.8 587.1L1350.3 590.1L1350.8 593.1L1351.3 596.0L1351.8 599.0L1352.4 601.9L1352.9 604.9L1353.4 607.8L1353.9 610.8L1354.4 613.8L1355.0 616.7L1355.5 619.7L1356.0 622.6L1356.5 625.6L1357.1 628.5L1357.6 631.5L1358.1 634.4L1358.7 637.4L1359.2 640.3L1359.7 643.3L1360.3 646.2L1360.8 649.2L1361.4 652.2L1361.9 655.1L1362.4 658.1L1363.0 661.0L1363.5 664.0L1364.1 666.9L1364.6 669.9L1365.2 672.8L1365.7 675.8L1366.3 678.7L1366.8 681.7L1367.3 684.6L1367.9 687.6L1368.4 690.5L1369.0 693.5L1369.5 696.4L1370.0 699.4L1370.5 702.3L1371.1 705.3L1371.6 708.3L1372.1 711.2L1372.6 714.2L1373.1 717.1L1373.7 720.1L1374.2 723.0L1374.7 726.0L1375.2 729.0L1375.7 731.9L1376.3 734.9L1376.8 737.8L1377.3 740.8L1377.9 743.7L1378.4 746.7L1379.0 749.6L1379.6 752.6L1380.1 755.5L1380.7 758.5L1381.3 761.4L1381.9 764.4L1382.4 767.3L1383.0 770.2L1383.6 773.2L1384.2 776.1L1384.8 779.1L1385.4 782.0L1386.0 785.0L1386.6 787.9L1387.2 790.8L1387.8 793.8L1388.4 796.7L1388.9 799.7L1389.5 802.6L1390.1 805.6L1390.7 808.5L1391.3 811.4L1391.9 814.4L1392.5 817.3L1393.1 820.3L1393.7 823.2L1394.3 826.1L1394.9 829.1L1395.5 832.0L1396.1 835.0L1396.8 837.9L1397.4 840.8L1398.0 843.8L1398.7 846.7L1399.3 849.6L1400.0 852.6L1400.6 855.5L1401.3 858.4L1401.9 861.4L1402.6 864.3L1403.2 867.2L1403.9 870.1L1404.6 873.1L1405.3 876.0L1405.9 878.9L1406.6 881.8L1407.3 884.8L1408.0 887.7L1408.7 890.6L1409.4 893.5L1410.1 896.4L1410.8 899.4L1411.5 902.3L1412.2 905.2L1412.9 908.1L1413.6 911.0L1414.3 913.9L1415.0 916.9L1415.8 919.8L1416.5 922.7L1417.3 925.6L1418.1 928.5L1418.9 931.4L1419.7 934.3L1420.5 937.1L1421.3 940.0L1422.1 942.9L1423.0 945.8L1423.8 948.7L1424.7 951.5L1425.6 954.4L1426.4 957.3L1427.3 960.2L1428.2 963.0L1429.1 965.9L1430.0 968.8L1430.9 971.6L1431.7 974.5L1432.6 977.4L1433.5 980.2L1434.4 983.1L1435.2 986.0L1436.1 988.9L1436.9 991.8L1437.8 994.6L1438.6 997.5L1439.5 1000.4L1440.4 1003.3L1441.2 1006.1L1442.1 1009.0L1443.0 1011.9L1443.9 1014.7L1444.9 1017.6L1445.8 1020.4L1446.8 1023.2L1447.8 1026.1L1448.8 1028.9L1449.8 1031.7L1450.9 1034.5L1452.0 1037.3L1453.1 1040.1L1454.2 1042.9L1455.3 1045.7L1456.5 1048.4L1457.6 1051.2L1458.8 1054.0L1460.0 1056.7L1461.2 1059.5L1462.4 1062.2L1463.7 1064.9L1464.9 1067.7L1466.2 1070.4L1467.4 1073.1L1468.7 1075.9L1470.0 1078.6L1471.3 1081.3L1472.6 1084.0L1473.9 1086.7L1475.2 1089.4L1476.5 1092.1L1477.9 1094.8L1479.2 1097.4L1480.6 1100.1L1482.0 1102.8L1483.4 1105.4L1484.8 1108.1L1486.3 1110.7L1487.7 1113.3L1489.2 1115.9L1490.7 1118.5L1492.3 1121.1L1493.8 1123.6L1495.4 1126.1L1497.1 1128.7L1498.8 1131.1L1500.5 1133.6L1502.2 1136.0L1504.0 1138.4L1505.8 1140.8L1507.7 1143.1L1509.5 1145.5L1511.4 1147.8L1513.4 1150.1L1515.3 1152.4L1517.3 1154.6L1519.3 1156.8L1521.3 1159.1L1523.3 1161.3L1525.4 1163.5L1527.4 1165.7L1529.5 1167.9L1531.6 1170.0L1533.7 1172.2L1535.8 1174.3L1537.9 1176.5L1540.0 1178.6L1542.1 1180.7L1544.2 1182.9L1546.3 1185.0L1548.4 1187.1L1550.6 1189.2L1552.7 1191.3L1554.9 1193.4L1557.0 1195.5L1559.1 1197.6L1561.3 1199.7L1563.4 1201.8L1565.6 1203.9L1567.8 1206.0L1569.9 1208.1L1572.1 1210.2L1574.2 1212.3L1576.4 1214.3L1578.6 1216.4L1580.7 1218.5L1582.9 1220.6L1585.1 1222.6L1587.2 1224.7L1589.4 1226.8L1591.6 1228.8L1593.8 1230.9L1596.0 1232.9L1598.2 1235.0L1600.4 1237.0L1602.6 1239.0L1604.8 1241.1L1607.0 1243.1L1609.2 1245.1L1611.4 1247.2L1613.6 1249.2L1615.9 1251.2L1618.1 1253.2L1620.3 1255.3L1622.5 1257.3L1624.8 1259.3L1627.0 1261.3L1629.2 1263.3L1631.5 1265.3L1633.7 1267.3L1636.0 1269.3L1638.2 1271.3L1640.5 1273.2L1642.8 1275.2L1645.1 1277.1L1647.4 1279.0L1649.7 1280.9L1652.0 1282.8L1654.4 1284.7L1656.8 1286.5L1659.2 1288.3L1661.6 1290.1L1664.0 1291.8L1666.4 1293.6L1668.9 1295.3L1671.4 1296.9L1673.9 1298.6L1676.4 1300.2L1679.0 1301.8L1681.5 1303.3L1684.1 1304.8L1686.7 1306.3L1689.3 1307.8L1692.0 1309.2L1694.6 1310.6L1697.3 1312.0L1700.0 1313.3L1702.7 1314.7L1705.4 1316.0L1708.1 1317.2L1710.8 1318.5L1713.6 1319.7L1716.3 1320.8L1719.1 1322.0L1721.9 1323.1L1724.6 1324.3L1727.4 1325.3L1730.3 1326.4L1733.1 1327.4L1735.9 1328.5L1738.7 1329.5L1741.6 1330.4L1744.4 1331.4L1747.2 1332.3L1750.1 1333.2L1753.0 1334.1L1755.8 1335.0L1758.7 1335.8L1761.6 1336.6L1764.5 1337.4L1767.4 1338.2L1770.3 1338.9L1773.2 1339.6L1776.2 1340.3L1779.1 1340.9L1782.0 1341.6L1785.0 1342.2L1787.9 1342.8L1790.8 1343.3L1793.8 1343.9L1796.7 1344.4L1799.7 1344.9L1802.7 1345.4L1805.6 1345.9L1808.6 1346.4L1811.5 1346.9L1814.5 1347.3L1817.5 1347.8L1820.4 1348.2L1823.4 1348.6L1826.4 1349.0L1829.4 1349.5L1832.3 1349.8L1835.3 1350.2L1838.3 1350.6L1841.3 1351.0L1844.3 1351.3L1847.2 1351.7L1850.2 1352.0L1853.2 1352.4L1856.2 1352.7L1859.2 1353.0L1862.2 1353.3L1865.1 1353.6L1868.1 1353.9L1871.1 1354.2L1874.1 1354.4L1877.1 1354.7L1880.1 1355.0L1883.1 1355.2L1886.1 1355.5L1889.1 1355.7L1892.1 1355.9L1895.0 1356.2L1898.0 1356.4L1901.0 1356.6L1904.0 1356.8L1907.0 1357.0L1910.0 1357.2L1913.0 1357.4L1916.0 1357.6L1919.0 1357.8L1922.0 1358.0L1925.0 1358.1L1928.0 1358.3L1931.0 1358.5L1934.0 1358.7L1937.0 1358.8L1940.0 1359.0L1943.0 1359.2L1946.0 1359.3L1949.0 1359.5L1952.0 1359.7L1955.0 1359.8L1958.0 1360.0L1961.0 1360.1L1964.0 1360.3L1967.0 1360.4L1970.0 1360.6L1973.0 1360.7L1976.0 1360.9L1979.0 1361.0L1982.0 1361.2L1984.9 1361.3L1987.9 1361.4L1990.9 1361.6L1993.9 1361.7L1996.9 1361.8L1999.9 1361.9L2002.9 1362.1L2005.9 1362.2L2008.9 1362.3L2011.9 1362.4L2014.9 1362.5L2017.9 1362.6L2020.9 1362.7L2023.9 1362.9L2026.9 1363.0L2029.9 1363.1L2032.9 1363.2L2035.9 1363.3L2038.9 1363.4L2041.9 1363.5L2044.9 1363.6L2047.9 1363.6L2050.9 1363.7L2053.9 1363.8L2056.9 1363.9L2059.9 1364.0L2062.9 1364.1L2065.9 1364.2L2068.9 1364.2L2071.9 1364.3L2074.9 1364.4L2077.9 1364.5L2080.9 1364.6L2083.9 1364.6L2086.9 1364.7L2089.9 1364.8L2092.9 1364.8L2095.9 1364.9L2098.9 1365.0L2102.0 1365.0L2105.0 1365.1L2108.0 1365.2L2111.0 1365.2L2114.0 1365.3L2117.0 1365.3L2120.0 1365.4L2123.0 1365.4L2126.0 1365.5L2129.0 1365.5L2132.0 1365.5L2135.0 1365.6L2138.0 1365.6L2141.0 1365.7L2144.0 1365.7L2147.0 1365.8L2150.0 1365.8L2153.0 1365.8L2156.0 1365.9L2159.0 1365.9L2162.0 1366.0L2165.0 1366.0L2168.0 1366.0L2171.0 1366.1L2174.0 1366.1L2176.9 1366.1L2179.9 1366.2L2182.9 1366.2L2185.8 1366.3L2188.8 1366.3L2191.7 1366.3L2194.7 1366.4L2197.7 1366.4L2200.7 1366.4L2203.6 1366.5L2206.5 1366.5L2209.1 1366.5L2211.4 1366.6L2215.0 1366.6"/>
<path class="f" stroke="#0000ff" d="M382.8 46.2L389.2 48.4L394.5 50.1L400.2 51.9L405.9 53.5L411.6 55.0L417.4 56.5L423.1 58.0L429.0 59.4L434.8 60.8L440.6 62.3L446.4 63.8L452.2 65.3L458.0 66.9L463.7 68.6L469.5 70.4L475.2 72.3L480.9 74.2L486.5 76.1L492.2 78.1L497.9 80.1L503.5 82.1L509.2 84.1L514.9 86.1L520.5 88.1L526.2 90.1L531.9 92.0L537.6 93.8L543.3 95.6L549.1 97.3L554.8 99.0L560.6 100.5L566.4 102.0L572.3 103.4L578.1 104.8L584.0 106.2L589.8 107.5L595.7 108.7L601.6 110.0L607.5 111.1L613.4 112.3L619.3 113.4L625.2 114.4L631.1 115.4L637.0 116.4L642.9 117.3L648.9 118.2L654.8 119.0L660.8 119.8L666.7 120.5L672.7 121.2L678.7 121.9L684.6 122.5L690.6 123.1L696.6 123.7L702.6 124.2L708.5 124.7L714.5 125.1L720.5 125.6L726.5 126.0L732.5 126.4L738.5 126.7L744.5 127.0L750.5 127.3L756.5 127.6L762.5 127.9L768.5 128.1L774.5 128.3L780.5 128.4L786.5 128.6L792.5 128.7L798.5 128.8L804.5 129.0L810.5 129.1L816.5 129.3L822.5 129.5L828.5 129.7L834.5 130.0L840.5 130.3L846.5 130.6L852.5 130.8L858.5 131.1L864.5 131.4L870.5 131.7L876.5 132.0L882.5 132.2L888.5 132.5L894.5 132.7L900.5 132.9L906.5 133.2L912.5 133.4L918.4 133.6L924.4 133.9L930.4 134.1L936.4 134.4L942.4 134.6L948.4 134.8L954.4 135.1L960.4 135.3L966.4 135.6L972.4 135.9L978.4 136.1L984.4 136.4L990.4 136.7L996.4 137.0L1002.4 137.3L1008.4 137.7L1014.4 138.0L1020.4 138.4L1026.4 138.8L1032.4 139.3L1038.4 139.7L1044.3 140.2L1050.3 140.7L1056.3 141.3L1062.3 141.9L1068.2 142.6L1074.2 143.3L1080.1 144.0L1086.1 144.8L1092.0 145.7L1097.9 146.7L1103.9 147.7L1109.7 148.9L1115.6 150.1L1121.5 151.4L1127.3 152.7L1133.1 154.2L1138.9 155.8L1144.6 157.6L1150.3 159.4L1156.0 161.4L1161.6 163.5L1167.1 165.8L1172.6 168.3L1178.0 170.9L1183.2 173.9L1188.3 177.1L1193.2 180.5L1198.0 184.2L1202.6 188.0L1207.1 192.0L1211.4 196.1L1215.7 200.3L1219.8 204.7L1223.7 209.2L1227.5 213.9L1231.3 218.6L1234.9 223.4L1238.4 228.2L1241.7 233.2L1244.9 238.3L1248.0 243.4L1251.1 248.6L1254.0 253.9L1256.8 259.2L1259.5 264.5L1262.2 269.9L1264.9 275.2L1267.5 280.7L1270.0 286.1L1272.5 291.6L1274.9 297.1L1277.3 302.6L1279.6 308.1L1281.9 313.7L1284.1 319.3L1286.2 324.9L1288.2 330.5L1290.2 336.2L1292.1 341.9L1294.0 347.6L1295.8 353.3L1297.5 359.0L1299.2 364.8L1300.9 370.6L1302.6 376.3L1304.3 382.1L1305.9 387.9L1307.6 393.6L1309.2 399.4L1310.7 405.2L1312.2 411.0L1313.7 416.9L1315.1 422.7L1316.4 428.5L1317.7 434.4L1319.0 440.3L1320.2 446.1L1321.4 452.0L1322.6 457.9L1323.8 463.8L1325.0 469.7L1326.2 475.6L1327.5 481.4L1328.7 487.3L1329.9 493.2L1331.1 499.1L1332.3 504.9L1333.6 510.8L1334.9 516.7L1336.2 522.5L1337.5 528.4L1338.8 534.3L1340.2 540.1L1341.5 546.0L1342.8 551.8L1344.1 557.7L1345.3 563.6L1346.5 569.4L1347.6 575.3L1348.7 581.2L1349.8 587.1L1350.8 593.1L1351.8 599.0L1352.9 604.9L1353.9 610.8L1355.0 616.7L1356.0 622.6L1357.1 628.5L1358.1 634.4L1359.2 640.3L1360.3 646.2L1361.4 652.2L1362.4 658.1L1363.5 664.0L1364.6 669.9L1365.7 675.8L1366.8 681.7L1367.9 687.6L1369.0 693.5L1370.0 699.4L1371.1 705.3L1372.1 711.2L1373.1 717.1L1374.2 723.0L1375.2 729.0L1376.3 734.9L1377.3 740.8L1378.4 746.7L1379.6 752.6L1380.7 758.5L1381.9 764.4L1383.0 770.2L1384.2 776.1L1385.4 782.0L1386.6 787.9L1387.8 793.8L1388.9 799.7L1390.1 805.6L1391.3 811.4L1392.5 817.3L1393.7 823.2L1394.9 829.1L1396.1 835.0L1397.4 840.8L1398.7 846.7L1400.0 852.6L1401.3 858.4L1402.6 864.3L1403.9 870.1L1405.3 876.0L1406.6 881.8L1408.0 887.7L1409.4 893.5L1410.8 899.4L1412.2 905.2L1413.6 911.0L1415.0 916.9L1416.5 922.7L1418.1 928.5L1419.7 934.3L1421.3 940.0L1423.0 945.8L1424.7 951.5L1426.4 957.3L1428.2 963.0L1430.0 968.8L1431.7 974.5L1433.5 980.2L1435.2 986.0L1436.9 991.8L1438.6 997.5L1440.4 1003.3L1442.1 1009.0L1443.9 1014.7L1445.8 1020.4L1447.8 1026.1L1449.8 1031.7L1452.0 1037.3L1454.2 1042.9L1456.5 1048.4L1458.8 1054.0L1461.2 1059.5L1463.7 1064.9L1466.2 1070.4L1468.7 1075.9L1471.3 1081.3L1473.9 1086.7L1476.5 1092.1L1479.2 1097.4L1482.0 1102.8L1484.8 1108.1L1487.7 1113.3L1490.7 1118.5L1493.8 1123.6L1497.1 1128.7L1500.5 1133.6L1504.0 1138.4L1507.7 1143.1L1511.4 1147.8L1515.3 1152.4L1519.3 1156.8L1523.3 1161.3L1527.4 1165.7L1531.6 1170.0L1535.8 1174.3L1540.0 1178.6L1544.2 1182.9L1548.4 1187.1L1552.7 1191.3L1557.0 1195.5L1561.3 1199.7L1565.6 1203.9L1569.9 1208.1L1574.2 1212.3L1578.6 1216.4L1582.9 1220.6L1587.2 1224.7L1591.6 1228.8L1596.0 1232.9L1600.4 1237.0L1604.8 1241.1L1609.2 1245.1L1613.6 1249.2L1618.1 1253.2L1622.5 1257.3L1627.0 1261.3L1631.5 1265.3L1636.0 1269.3L1640.5 1273.2L1645.1 1277.1L1649.7 1280.9L1654.4 1284.7L1659.2 1288.3L1664.0 1291.8L1668.9 1295.3L1673.9 1298.6L1679.0 1301.8L1684.1 1304.8L1689.3 1307.8L1694.6 1310.6L1700.0 1313.3L1705.4 1316.0L1710.8 1318.5L1716.3 1320.8L1721.9 1323.1L1727.4 1325.3L1733.1 1327.4L1738.7 1329.5L1744.4 1331.4L1750.1 1333.2L1755.8 1335.0L1761.6 1336.6L1767.4 1338.2L1773.2 1339.6L1779.1 1340.9L1785.0 1342.2L1790.8 1343.3L1796.7 1344.4L1802.7 1345.4L1808.6 1346.4L1814.5 1347.3L1820.4 1348.2L1826.4 1349.0L1832.3 1349.8L1838.3 1350.6L1844.3 1351.3L1850.2 1352.0L1856.2 1352.7L1862.2 1353.3L1868.1 1353.9L1874.1 1354.4L1880.1 1355.0L1886.1 1355.5L1892.1 1355.9L1898.0 1356.4L1904.0 1356.8L1910.0 1357.2L1916.0 1357.6L1922.0 1358.0L1928.0 1358.3L1934.0 1358.7L1940.0 1359.0L1946.0 1359.3L1952.0 1359.7L1958.0 1360.0L1964.0 1360.3L1970.0 1360.6L1976.0 1360.9L1982.0 1361.2L1987.9 1361.4L1993.9 1361.7L1999.9 1361.9L2005.9 1362.2L2011.9 1362.4L2017.9 1362.6L2023.9 1362.9L2029.9 1363.1L2035.9 1363.3L2041.9 1363.5L2047.9 1363.6L2053.9 1363.8L2059.9 1364.0L2065.9 1364.2L2071.9 1364.3L2077.9 1364.5L2083.9 1364.6L2089.9 1364.8L2095.9 1364.9L2102.0 1365.0L2108.0 1365.2L2114.0 1365.3L2120.0 1365.4L2126.0 1365.5L2132.0 1365.5L2138.0 1365.6L2144.0 1365.7L2150.0 1365.8L2156.0 1365.9L2162.0 1366.0L2168.0 1366.0L2174.0 1366.1L2179.9 1366.2L2185.8 1366.3L2191.7 1366.3L2197.7 1366.4L2203.6 1366.5L2209.1 1366.5L2215.0 1366.6"/>
<path class="c d" stroke="#000000" d="M371.5 1563.0L371.5 1560.7L371.5 1554.7L371.5 1549.7L371.5 1545.7L371.5 1542.6L371.5 1540.3L371.5 1538.7L371.5 1537.8L371.5 1537.5L371.6 1538.4L371.7 1541.3L372.0 1545.2L372.4 1548.9L372.8 1552.1L373.5 1555.6L374.5 1558.8L375.8 1560.8L376.2 1561.1M397.0 1562.9L397.3 1562.9L400.3 1562.9L403.3 1562.8L406.3 1562.8L409.3 1562.7L412.0 1562.6M433.0 1561.9L433.3 1561.9L436.3 1561.8L439.3 1561.7L442.3 1561.6L445.3 1561.5L448.0 1561.4M468.8 1558.9L469.2 1558.9L472.2 1558.4L475.1 1557.9L478.1 1557.7L481.1 1557.6L483.7 1557.6M504.7 1557.6L505.1 1557.6L508.1 1557.6L511.1 1557.4L514.1 1557.1L517.1 1556.8L519.7 1556.4M540.5 1554.0L541.0 1554.0L543.9 1553.7L546.9 1553.5L549.9 1553.2L552.9 1552.9L555.4 1552.6M576.3 1550.4L576.8 1550.4L579.8 1550.4L582.8 1550.4L585.8 1550.4L588.8 1550.4L591.3 1550.4M612.2 1548.8L612.8 1548.8L615.7 1548.4L618.7 1548.2L621.7 1548.2L624.7 1548.2L627.2 1548.2M648.2 1548.5L648.7 1548.5L651.7 1548.5L654.7 1548.6L657.7 1548.8L660.7 1549.0L663.2 1549.1M684.1 1550.9L684.7 1551.0L687.6 1551.3L690.6 1551.7L693.6 1552.0L696.6 1552.3L699.0 1552.6M719.9 1554.6L720.5 1554.7L723.5 1554.9L726.5 1555.2L729.5 1555.5L732.5 1555.7L734.8 1555.9M755.8 1557.4L756.4 1557.5L759.4 1557.7L762.4 1557.9L765.4 1558.1L768.4 1558.3L771.4 1558.5L774.4 1558.8L774.7 1558.8M795.6 1561.3L796.3 1561.3L799.2 1561.5L802.2 1561.5L805.2 1561.6L808.2 1561.6L811.2 1561.7L814.2 1561.7L814.6 1561.7M835.6 1561.9L836.3 1561.9L839.3 1561.9L842.3 1562.0L845.3 1562.0L848.3 1562.0L851.3 1562.0L854.3 1562.0L854.6 1562.0M875.6 1561.7L876.3 1561.7L879.3 1561.6L882.3 1561.5L885.3 1561.4L888.3 1561.3L891.3 1561.2L894.3 1561.0L894.6 1561.0M915.6 1560.2L916.3 1560.2L919.3 1560.1L922.3 1560.1L925.3 1560.0L928.3 1560.0L931.3 1560.0L934.3 1560.1L934.5 1560.1M955.5 1561.4L956.3 1561.4L959.3 1561.5L962.3 1561.5L965.3 1561.5L968.3 1561.5L971.3 1561.5L974.3 1561.5L974.5 1561.5M995.5 1561.5L996.3 1561.5L999.3 1561.5L1002.3 1561.5L1005.3 1561.5L1008.3 1561.5L1011.3 1561.5L1014.3 1561.5L1014.5 1561.5M1035.5 1561.5L1036.3 1561.5L1039.3 1561.5L1042.3 1561.5L1045.3 1561.5L1048.3 1561.5L1051.3 1561.5L1054.3 1561.4L1054.5 1561.4M1075.5 1561.2L1076.3 1561.2L1079.3 1561.1L1082.3 1561.1L1085.3 1561.0L1088.4 1561.0L1091.4 1560.9L1094.4 1560.9L1094.5 1560.9M1115.5 1560.5L1116.4 1560.5L1119.4 1560.5L1122.4 1560.4L1125.4 1560.4L1128.4 1560.3L1131.4 1560.3L1131.5 1560.3M1155.5 1559.8L1156.4 1559.8L1159.4 1559.7L1162.4 1559.6L1165.4 1559.6L1168.4 1559.5L1171.4 1559.4L1171.5 1559.4M1195.5 1558.5L1196.4 1558.5L1199.4 1558.3L1202.4 1558.1L1205.4 1557.8L1208.4 1557.4L1211.4 1557.0M1234.9 1552.3L1235.0 1552.3L1237.8 1551.5L1240.7 1550.7L1243.5 1549.8L1246.5 1548.7L1249.4 1547.6L1250.1 1547.3M1270.6 1535.0L1271.1 1534.6L1273.0 1532.8L1274.8 1530.8L1276.6 1528.6L1278.2 1526.2L1279.8 1523.6L1280.5 1522.5M1290.5 1500.8L1290.8 1500.2L1291.9 1497.4L1292.9 1494.6L1294.0 1491.8L1294.9 1488.9L1295.9 1486.1L1296.0 1485.7M1302.4 1462.6L1302.6 1461.9L1303.3 1459.0L1304.0 1456.1L1304.6 1453.1L1305.2 1450.2L1305.8 1447.2L1305.9 1447.0M1309.4 1423.3L1309.5 1422.5L1309.8 1419.5L1310.1 1416.5L1310.4 1413.6L1310.7 1410.6L1311.0 1407.6L1311.0 1407.3M1313.6 1383.5L1313.7 1382.7L1314.0 1379.7L1314.3 1376.7L1314.7 1373.8L1315.0 1370.8L1315.3 1367.8L1315.4 1367.6M1318.3 1343.8L1318.5 1343.0L1318.9 1340.0L1319.5 1337.1L1320.1 1334.1L1320.8 1331.2L1321.4 1328.2L1321.5 1328.1M1324.3 1304.3L1324.4 1303.4L1324.6 1300.4L1324.9 1297.4L1325.1 1294.5L1325.4 1291.5L1325.6 1288.5L1325.7 1288.3M1328.4 1264.5L1328.5 1263.6L1328.9 1260.6L1329.3 1257.7L1329.7 1254.7L1330.0 1251.7L1330.4 1248.7L1330.4 1248.6M1333.5 1224.8L1333.6 1223.9L1334.0 1220.9L1334.3 1218.0L1334.7 1215.0L1335.0 1212.0L1335.4 1209.0L1335.4 1208.9M1338.6 1185.1L1338.7 1184.2L1339.1 1181.3L1339.6 1178.3L1340.1 1175.3L1340.6 1172.3L1341.1 1169.4L1341.1 1169.3M1347.0 1146.1L1347.4 1145.2L1348.6 1142.5L1350.0 1139.2L1351.7 1136.2L1353.5 1134.9L1355.9 1135.7L1358.7 1137.7L1361.1 1140.1L1362.3 1142.4L1363.2 1145.1L1364.0 1148.0L1364.6 1151.1L1365.1 1153.8M1369.7 1177.3L1369.9 1177.9L1370.4 1180.9L1371.0 1183.8L1371.6 1186.8L1372.2 1189.7L1372.8 1192.6L1372.9 1193.0M1377.0 1216.6L1377.1 1217.3L1377.5 1220.3L1377.9 1223.2L1378.4 1226.2L1378.8 1229.2L1379.3 1232.1L1379.3 1232.5M1383.5 1256.1L1383.7 1256.8L1384.2 1259.7L1384.8 1262.7L1385.4 1265.6L1385.9 1268.6L1386.5 1271.5L1386.5 1271.8M1390.4 1295.5L1390.5 1296.2L1391.0 1299.2L1391.5 1302.1L1391.9 1305.1L1392.4 1308.1L1392.8 1311.0L1392.9 1311.3M1396.1 1335.1L1396.3 1335.8L1396.8 1338.8L1397.3 1341.7L1397.9 1344.6L1398.6 1347.6L1399.3 1350.5L1399.3 1350.8M1405.6 1373.9L1405.8 1374.7L1406.6 1377.6L1407.4 1380.5L1408.2 1383.4L1409.0 1386.3L1409.8 1389.2L1409.8 1389.4M1417.0 1412.3L1417.3 1413.0L1418.3 1415.8L1419.3 1418.7L1420.4 1421.5L1421.5 1424.4L1422.6 1427.2L1422.6 1427.2M1433.8 1448.4L1434.3 1449.1L1436.1 1451.6L1438.1 1454.0L1440.2 1456.3L1442.2 1458.3M1457.6 1469.3L1457.9 1469.5L1460.7 1470.9L1463.5 1472.0L1466.4 1472.9L1469.3 1473.3L1469.9 1473.3M1488.9 1473.8L1489.3 1473.8L1492.2 1473.7L1495.0 1473.1L1496.7 1472.4M1509.4 1464.6L1510.1 1464.1L1512.5 1462.5L1514.9 1460.8L1515.9 1460.0M1527.1 1449.9L1527.7 1449.4L1529.9 1447.4L1532.2 1445.4L1533.1 1444.7M1545.3 1436.0L1546.0 1435.3L1548.1 1433.3L1549.9 1431.0L1550.6 1430.0M1558.1 1417.0L1558.6 1416.2L1560.3 1413.7L1562.1 1411.4L1562.8 1410.5M1572.8 1399.3L1573.4 1398.6L1575.4 1396.4L1577.4 1394.2L1578.1 1393.4M1588.5 1382.6L1589.2 1381.9L1591.4 1379.7L1593.6 1377.6L1594.2 1377.0M1606.9 1369.1L1607.0 1369.0L1610.0 1367.8L1612.9 1366.9L1614.4 1366.5M1627.9 1371.8L1628.0 1371.9L1630.5 1373.9L1633.0 1375.9L1634.1 1376.8M1645.6 1386.4L1646.0 1386.8L1648.0 1389.0L1649.9 1391.3L1650.8 1392.5M1659.6 1404.6L1660.0 1405.1L1661.8 1407.5L1663.6 1409.9L1664.5 1411.0M1673.5 1422.9L1673.9 1423.4L1675.7 1425.8L1677.5 1428.2L1678.4 1429.3M1687.4 1441.3L1687.8 1441.8L1689.7 1444.2L1691.5 1446.5L1692.3 1447.6M1701.6 1459.4L1702.1 1460.0L1704.0 1462.3L1706.0 1464.5L1706.8 1465.4M1717.9 1475.5L1718.4 1475.9L1720.8 1477.7L1723.3 1479.5L1724.3 1480.3M1736.1 1489.5L1736.7 1490.0L1739.0 1492.0L1741.3 1493.9L1742.2 1494.7M1753.7 1504.4L1754.3 1504.9L1756.7 1506.8L1759.1 1508.5L1760.1 1509.2M1772.7 1517.3L1773.3 1517.7L1775.9 1519.3L1778.5 1520.8L1779.6 1521.4M1792.6 1528.8L1793.4 1529.3L1796.0 1530.9L1798.7 1532.4L1799.5 1532.9M1813.0 1539.4L1813.1 1539.5L1815.9 1540.3L1818.7 1541.0L1820.7 1541.4M1835.6 1543.4L1836.5 1543.5L1839.5 1543.9L1842.5 1544.4L1845.5 1544.9L1848.4 1545.4L1851.4 1545.9L1854.4 1546.4L1855.3 1546.5M1887.0 1550.8L1887.1 1550.8L1890.0 1551.1L1893.0 1551.4L1896.0 1551.7L1899.0 1552.0L1902.0 1552.2L1905.0 1552.5L1906.9 1552.6M1938.9 1554.7L1938.9 1554.7L1941.9 1554.9L1944.9 1555.1L1947.9 1555.2L1950.9 1555.4L1953.9 1555.5L1956.9 1555.7L1958.8 1555.7M1990.8 1557.0L1990.9 1557.0L1993.9 1557.1L1996.9 1557.2L1999.9 1557.3L2002.9 1557.4L2005.9 1557.5L2008.9 1557.6L2010.8 1557.6M2042.8 1558.6L2042.9 1558.6L2045.9 1558.7L2048.9 1558.8L2051.9 1559.0L2054.9 1559.1L2057.9 1559.2L2060.9 1559.3L2062.8 1559.3M2094.8 1560.3L2094.9 1560.3L2097.9 1560.4L2100.9 1560.4L2103.9 1560.5L2106.9 1560.5L2109.9 1560.6L2112.9 1560.7L2114.8 1560.7M2146.8 1561.3L2147.0 1561.3L2150.0 1561.3L2153.0 1561.4L2156.0 1561.4L2159.0 1561.5L2162.0 1561.5L2165.0 1561.6L2166.8 1561.6M2198.8 1561.9L2199.0 1561.9L2202.0 1561.9L2205.0 1562.0L2208.0 1562.0L2211.0 1562.0L2214.0 1562.0L2215.0 1562.0"/>
<path class="f" stroke="#000000" d="M371.5 1563.0L371.5 1560.7L371.5 1554.7L371.5 1549.7L371.5 1545.7L371.5 1542.6L371.5 1540.3L371.5 1538.7L371.5 1537.8L371.5 1537.5L371.6 1538.4L371.7 1541.3L372.0 1545.2L372.4 1548.9L372.8 1552.1L373.5 1555.6L374.5 1558.8L375.8 1560.8L376.2 1561.1M397.0 1562.9L397.3 1562.9L400.3 1562.9L403.3 1562.8L406.3 1562.8L409.3 1562.7L412.0 1562.6M433.0 1561.9L433.3 1561.9L436.3 1561.8L439.3 1561.7L442.3 1561.6L445.3 1561.5L448.0 1561.4M468.8 1558.9L469.2 1558.9L472.2 1558.4L475.1 1557.9L478.1 1557.7L481.1 1557.6L483.7 1557.6M504.7 1557.6L505.1 1557.6L508.1 1557.6L511.1 1557.4L514.1 1557.1L517.1 1556.8L519.7 1556.4M540.5 1554.0L541.0 1554.0L543.9 1553.7L546.9 1553.5L549.9 1553.2L552.9 1552.9L555.4 1552.6M576.3 1550.4L576.8 1550.4L579.8 1550.4L582.8 1550.4L585.8 1550.4L588.8 1550.4L591.3 1550.4M612.2 1548.8L612.8 1548.8L615.7 1548.4L618.7 1548.2L621.7 1548.2L624.7 1548.2L627.2 1548.2M648.2 1548.5L648.7 1548.5L651.7 1548.5L654.7 1548.6L657.7 1548.8L660.7 1549.0L663.2 1549.1M684.1 1550.9L684.7 1551.0L687.6 1551.3L690.6 1551.7L693.6 1552.0L696.6 1552.3L699.0 1552.6M719.9 1554.6L720.5 1554.7L723.5 1554.9L726.5 1555.2L729.5 1555.5L732.5 1555.7L734.8 1555.9M755.8 1557.4L756.4 1557.5L759.4 1557.7L762.4 1557.9L765.4 1558.1L768.4 1558.3L771.4 1558.5L774.4 1558.8L774.7 1558.8M795.6 1561.3L796.3 1561.3L799.2 1561.5L802.2 1561.5L805.2 1561.6L808.2 1561.6L811.2 1561.7L814.2 1561.7L814.6 1561.7M835.6 1561.9L836.3 1561.9L839.3 1561.9L842.3 1562.0L845.3 1562.0L848.3 1562.0L851.3 1562.0L854.3 1562.0L854.6 1562.0M875.6 1561.7L876.3 1561.7L879.3 1561.6L882.3 1561.5L885.3 1561.4L888.3 1561.3L891.3 1561.2L894.3 1561.0L894.6 1561.0M915.6 1560.2L916.3 1560.2L919.3 1560.1L922.3 1560.1L925.3 1560.0L928.3 1560.0L931.3 1560.0L934.3 1560.1L934.5 1560.1M955.5 1561.4L956.3 1561.4L959.3 1561.5L962.3 1561.5L965.3 1561.5L968.3 1561.5L971.3 1561.5L974.3 1561.5L974.5 1561.5M995.5 1561.5L996.3 1561.5L999.3 1561.5L1002.3 1561.5L1005.3 1561.5L1008.3 1561.5L1011.3 1561.5L1014.3 1561.5L1014.5 1561.5M1035.5 1561.5L1036.3 1561.5L1039.3 1561.5L1042.3 1561.5L1045.3 1561.5L1048.3 1561.5L1051.3 1561.5L1054.3 1561.4L1054.5 1561.4M1075.5 1561.2L1076.3 1561.2L1079.3 1561.1L1082.3 1561.1L1085.3 1561.0L1088.4 1561.0L1091.4 1560.9L1094.4 1560.9L1094.5 1560.9M1115.5 1560.5L1116.4 1560.5L1119.4 1560.5L1122.4 1560.4L1125.4 1560.4L1128.4 1560.3L1131.4 1560.3L1131.5 1560.3M1155.5 1559.8L1156.4 1559.8L1159.4 1559.7L1162.4 1559.6L1165.4 1559.6L1168.4 1559.5L1171.4 1559.4L1171.5 1559.4M1195.5 1558.5L1196.4 1558.5L1199.4 1558.3L1202.4 1558.1L1205.4 1557.8L1208.4 1557.4L1211.4 1557.0M1234.9 1552.3L1235.0 1552.3L1237.8 1551.5L1240.7 1550.7L1243.5 1549.8L1246.5 1548.7L1249.4 1547.6L1250.1 1547.3M1270.6 1535.0L1271.1 1534.6L1273.0 1532.8L1274.8 1530.8L1276.6 1528.6L1278.2 1526.2L1279.8 1523.6L1280.5 1522.5M1290.5 1500.8L1290.8 1500.2L1291.9 1497.4L1292.9 1494.6L1294.0 1491.8L1294.9 1488.9L1295.9 1486.1L1296.0 1485.7M1302.4 1462.6L1302.6 1461.9L1303.3 1459.0L1304.0 1456.1L1304.6 1453.1L1305.2 1450.2L1305.8 1447.2L1305.9 1447.0M1309.4 1423.3L1309.5 1422.5L1309.8 1419.5L1310.1 1416.5L1310.4 1413.6L1310.7 1410.6L1311.0 1407.6L1311.0 1407.3M1313.6 1383.5L1313.7 1382.7L1314.0 1379.7L1314.3 1376.7L1314.7 1373.8L1315.0 1370.8L1315.3 1367.8L1315.4 1367.6M1318.3 1343.8L1318.5 1343.0L1318.9 1340.0L1319.5 1337.1L1320.1 1334.1L1320.8 1331.2L1321.4 1328.2L1321.5 1328.1M1324.3 1304.3L1324.4 1303.4L1324.6 1300.4L1324.9 1297.4L1325.1 1294.5L1325.4 1291.5L1325.6 1288.5L1325.7 1288.3M1328.4 1264.5L1328.5 1263.6L1328.9 1260.6L1329.3 1257.7L1329.7 1254.7L1330.0 1251.7L1330.4 1248.7L1330.4 1248.6M1333.5 1224.8L1333.6 1223.9L1334.0 1220.9L1334.3 1218.0L1334.7 1215.0L1335.0 1212.0L1335.4 1209.0L1335.4 1208.9M1338.6 1185.1L1338.7 1184.2L1339.1 1181.3L1339.6 1178.3L1340.1 1175.3L1340.6 1172.3L1341.1 1169.4L1341.1 1169.3M1347.0 1146.1L1347.4 1145.2L1348.6 1142.5L1350.0 1139.2L1351.7 1136.2L1353.5 1134.9L1355.9 1135.7L1358.7 1137.7L1361.1 1140.1L1362.3 1142.4L1363.2 1145.1L1364.0 1148.0L1364.6 1151.1L1365.1 1153.8M1369.7 1177.3L1369.9 1177.9L1370.4 1180.9L1371.0 1183.8L1371.6 1186.8L1372.2 1189.7L1372.8 1192.6L1372.9 1193.0M1377.0 1216.6L1377.1 1217.3L1377.5 1220.3L1377.9 1223.2L1378.4 1226.2L1378.8 1229.2L1379.3 1232.1L1379.3 1232.5M1383.5 1256.1L1383.7 1256.8L1384.2 1259.7L1384.8 1262.7L1385.4 1265.6L1385.9 1268.6L1386.5 1271.5L1386.5 1271.8M1390.4 1295.5L1390.5 1296.2L1391.0 1299.2L1391.5 1302.1L1391.9 1305.1L1392.4 1308.1L1392.8 1311.0L1392.9 1311.3M1396.1 1335.1L1396.3 1335.8L1396.8 1338.8L1397.3 1341.7L1397.9 1344.6L1398.6 1347.6L1399.3 1350.5L1399.3 1350.8M1405.6 1373.9L1405.8 1374.7L1406.6 1377.6L1407.4 1380.5L1408.2 1383.4L1409.0 1386.3L1409.8 1389.2L1409.8 1389.4M1417.0 1412.3L1417.3 1413.0L1418.3 1415.8L1419.3 1418.7L1420.4 1421.5L1421.5 1424.4L1422.6 1427.2L1422.6 1427.2M1433.8 1448.4L1434.3 1449.1L1436.1 1451.6L1438.1 1454.0L1440.2 1456.3L1442.2 1458.3M1457.6 1469.3L1457.9 1469.5L1460.7 1470.9L1463.5 1472.0L1466.4 1472.9L1469.3 1473.3L1469.9 1473.3M1488.9 1473.8L1489.3 1473.8L1492.2 1473.7L1495.0 1473.1L1496.7 1472.4M1509.4 1464.6L1510.1 1464.1L1512.5 1462.5L1514.9 1460.8L1515.9 1460.0M1527.1 1449.9L1527.7 1449.4L1529.9 1447.4L1532.2 1445.4L1533.1 1444.7M1545.3 1436.0L1546.0 1435.3L1548.1 1433.3L1549.9 1431.0L1550.6 1430.0M1558.1 1417.0L1558.6 1416.2L1560.3 1413.7L1562.1 1411.4L1562.8 1410.5M1572.8 1399.3L1573.4 1398.6L1575.4 1396.4L1577.4 1394.2L1578.1 1393.4M1588.5 1382.6L1589.2 1381.9L1591.4 1379.7L1593.6 1377.6L1594.2 1377.0M1606.9 1369.1L1607.0 1369.0L1610.0 1367.8L1612.9 1366.9L1614.4 1366.5M1627.9 1371.8L1628.0 1371.9L1630.5 1373.9L1633.0 1375.9L1634.1 1376.8M1645.6 1386.4L1646.0 1386.8L1648.0 1389.0L1649.9 1391.3L1650.8 1392.5M1659.6 1404.6L1660.0 1405.1L1661.8 1407.5L1663.6 1409.9L1664.5 1411.0M1673.5 1422.9L1673.9 1423.4L1675.7 1425.8L1677.5 1428.2L1678.4 1429.3M1687.4 1441.3L1687.8 1441.8L1689.7 1444.2L1691.5 1446.5L1692.3 1447.6M1701.6 1459.4L1702.1 1460.0L1704.0 1462.3L1706.0 1464.5L1706.8 1465.4M1717.9 1475.5L1718.4 1475.9L1720.8 1477.7L1723.3 1479.5L1724.3 1480.3M1736.1 1489.5L1736.7 1490.0L1739.0 1492.0L1741.3 1493.9L1742.2 1494.7M1753.7 1504.4L1754.3 1504.9L1756.7 1506.8L1759.1 1508.5L1760.1 1509.2M1772.7 1517.3L1773.3 1517.7L1775.9 1519.3L1778.5 1520.8L1779.6 1521.4M1792.6 1528.8L1793.4 1529.3L1796.0 1530.9L1798.7 1532.4L1799.5 1532.9M1813.0 1539.4L1813.1 1539.5L1815.9 1540.3L1818.7 1541.0L1820.7 1541.4M1835.6 1543.4L1836.5 1543.5L1839.5 1543.9L1842.5 1544.4L1845.5 1544.9L1848.4 1545.4L1851.4 1545.9L1854.4 1546.4L1855.3 1546.5M1887.0 1550.8L1887.1 1550.8L1890.0 1551.1L1893.0 1551.4L1896.0 1551.7L1899.0 1552.0L1902.0 1552.2L1905.0 1552.5L1906.9 1552.6M1938.9 1554.7L1938.9 1554.7L1941.9 1554.9L1944.9 1555.1L1947.9 1555.2L1950.9 1555.4L1953.9 1555.5L1956.9 1555.7L1958.8 1555.7M1990.8 1557.0L1990.9 1557.0L1993.9 1557.1L1996.9 1557.2L1999.9 1557.3L2002.9 1557.4L2005.9 1557.5L2008.9 1557.6L2010.8 1557.6M2042.8 1558.6L2042.9 1558.6L2045.9 1558.7L2048.9 1558.8L2051.9 1559.0L2054.9 1559.1L2057.9 1559.2L2060.9 1559.3L2062.8 1559.3M2094.8 1560.3L2094.9 1560.3L2097.9 1560.4L2100.9 1560.4L2103.9 1560.5L2106.9 1560.5L2109.9 1560.6L2112.9 1560.7L2114.8 1560.7M2146.8 1561.3L2147.0 1561.3L2150.0 1561.3L2153.0 1561.4L2156.0 1561.4L2159.0 1561.5L2162.0 1561.5L2165.0 1561.6L2166.8 1561.6M2198.8 1561.9L2199.0 1561.9L2202.0 1561.9L2205.0 1562.0L2208.0 1562.0L2211.0 1562.0L2214.0 1562.0L2215.0 1562.0"/>
<path class="c d" stroke="#ff0000" d="M359.6 1560.4L359.8 1560.5L362.7 1561.5L365.6 1562.4L368.5 1563.0L371.4 1563.4L374.2 1563.5M395.1 1561.0L395.2 1561.0L398.2 1560.7L401.2 1560.5L404.2 1560.4L407.2 1560.3L410.0 1560.2M431.0 1559.6L431.2 1559.6L434.2 1559.4L437.2 1559.0L440.1 1558.3L443.1 1557.6L445.7 1556.9M466.6 1555.8L466.9 1555.8L469.9 1555.8L472.9 1555.8L475.9 1555.8L478.9 1555.8L481.6 1555.7M502.6 1554.1L502.9 1554.1L505.9 1554.1L508.9 1554.1L511.9 1554.1L514.9 1554.1L517.6 1554.1M538.6 1554.3L538.9 1554.3L541.9 1554.4L544.9 1554.5L547.9 1554.5L550.9 1554.5L553.6 1554.5M574.6 1554.5L574.9 1554.5L577.9 1554.5L580.9 1554.7L583.9 1555.0L586.9 1555.3L589.5 1555.6M610.5 1556.3L610.9 1556.3L613.9 1556.3L616.9 1556.3L619.9 1556.3L622.9 1556.3L625.5 1556.3M646.2 1559.1L646.7 1559.1L649.7 1559.5L652.6 1559.6L655.6 1559.8L658.6 1559.9L661.2 1560.0M682.2 1560.9L682.6 1560.9L685.6 1561.2L688.6 1561.4L691.6 1561.6L694.6 1561.9L697.2 1562.0M718.1 1562.3L718.6 1562.3L721.6 1562.3L724.6 1562.3L727.6 1562.3L730.6 1562.3L733.1 1562.3M754.1 1562.2L754.7 1562.2L757.7 1562.2L760.7 1562.2L763.7 1562.2L766.7 1562.2L769.7 1562.1L772.7 1562.1L773.1 1562.1M794.1 1561.8L794.6 1561.8L797.6 1561.5L800.6 1561.2L803.6 1560.8L806.6 1560.3L809.5 1559.8L812.5 1559.4L813.0 1559.3M833.9 1557.7L834.4 1557.7L837.4 1557.6L840.4 1557.5L843.4 1557.5L846.4 1557.4L849.4 1557.3L852.4 1557.2L852.9 1557.2M873.8 1556.1L874.4 1556.1L877.4 1555.8L880.4 1555.6L883.4 1555.3L886.4 1555.1L889.4 1554.8L892.4 1554.6L892.8 1554.6M913.8 1553.9L914.4 1553.9L917.4 1553.9L920.4 1553.9L923.4 1553.8L926.4 1553.8L929.4 1553.8L932.4 1553.8L932.8 1553.8M953.8 1553.7L954.4 1553.6L957.4 1553.6L960.4 1553.6L963.4 1553.6L966.4 1553.5L969.4 1553.5L972.4 1553.5L972.8 1553.4M993.8 1553.1L994.4 1553.1L997.4 1553.1L1000.4 1553.1L1003.4 1553.0L1006.4 1553.0L1009.4 1553.0L1012.4 1552.9L1012.8 1552.9M1033.8 1552.7L1034.4 1552.7L1037.4 1552.7L1040.4 1552.7L1043.4 1552.7L1046.4 1552.7L1049.4 1552.7L1052.4 1552.7L1052.8 1552.7M1073.8 1553.0L1074.5 1553.0L1077.5 1553.0L1080.5 1553.1L1083.5 1553.1L1086.5 1553.1L1089.5 1553.2L1092.5 1553.2L1092.8 1553.2M1113.8 1553.3L1114.5 1553.3L1117.5 1553.2L1120.5 1553.1L1123.5 1553.0L1126.5 1552.9L1129.5 1552.7L1129.7 1552.7M1153.7 1551.1L1154.4 1551.1L1157.4 1550.8L1160.4 1550.5L1163.4 1550.2L1166.4 1549.8L1169.4 1549.4L1169.6 1549.4M1193.3 1545.4L1194.1 1545.2L1197.0 1544.6L1199.9 1544.0L1202.8 1543.2L1205.6 1542.4L1208.5 1541.5L1208.7 1541.4M1230.7 1531.9L1230.9 1531.9L1233.5 1530.4L1236.1 1529.0L1238.6 1527.6L1241.1 1526.0L1243.6 1524.4L1244.5 1523.8M1262.9 1508.4L1263.2 1508.2L1265.3 1506.0L1267.3 1503.8L1269.3 1501.6L1271.2 1499.3L1272.9 1497.1L1273.4 1496.4M1285.8 1475.8L1285.9 1475.6L1287.2 1472.9L1288.6 1470.2L1289.9 1467.5L1291.3 1464.8L1292.6 1462.1L1292.9 1461.5M1302.5 1439.5L1302.6 1439.2L1303.8 1436.4L1304.9 1433.6L1306.0 1430.8L1307.1 1428.0L1308.1 1425.2L1308.4 1424.6M1316.6 1402.1L1316.7 1401.7L1317.7 1398.9L1318.6 1396.0L1319.5 1393.2L1320.4 1390.3L1321.3 1387.4L1321.5 1386.9M1327.9 1363.7L1328.0 1363.3L1328.8 1360.4L1329.6 1357.5L1330.3 1354.6L1331.1 1351.7L1331.8 1348.8L1332.0 1348.3M1337.7 1324.9L1337.8 1324.5L1338.5 1321.6L1339.2 1318.7L1340.0 1315.8L1340.7 1312.9L1341.5 1310.0L1341.7 1309.5M1347.3 1286.1L1347.4 1285.7L1348.0 1282.7L1348.5 1279.8L1349.1 1276.8L1349.6 1273.9L1350.1 1270.9L1350.2 1270.4M1355.2 1246.9L1355.3 1246.5L1356.0 1243.5L1356.7 1240.6L1357.3 1237.7L1358.0 1234.7L1358.7 1231.8L1358.8 1231.3M1363.9 1207.9L1364.0 1207.4L1364.7 1204.5L1365.3 1201.5L1365.9 1198.6L1366.5 1195.6L1367.1 1192.7L1367.2 1192.2M1371.2 1168.6L1371.3 1168.0L1371.8 1165.1L1372.3 1162.1L1372.8 1159.2L1373.3 1156.2L1373.8 1153.3L1373.9 1152.8M1378.4 1129.2L1378.5 1128.7L1379.0 1125.7L1379.6 1122.8L1380.2 1119.8L1380.8 1116.9L1381.5 1114.0L1382.1 1111.0L1382.8 1108.1L1383.4 1105.0L1384.0 1101.8L1384.6 1098.7L1385.3 1095.6L1386.1 1092.7L1387.1 1090.1L1388.3 1087.8L1390.4 1085.5L1393.0 1084.5L1395.4 1085.5L1397.8 1087.6L1400.0 1090.4L1401.8 1093.3L1402.9 1096.1L1403.5 1098.7L1404.1 1101.6L1404.5 1104.6L1404.9 1107.7L1405.2 1110.8L1405.6 1113.9L1406.0 1116.9L1406.4 1119.9L1406.8 1122.8L1407.2 1125.8L1407.6 1128.8L1408.0 1131.8L1408.1 1132.2M1411.5 1156.0L1411.6 1156.5L1412.1 1159.5L1412.5 1162.4L1413.0 1165.4L1413.6 1168.4L1414.1 1171.3L1414.1 1171.8M1418.1 1195.4L1418.2 1196.0L1418.7 1199.0L1419.1 1201.9L1419.5 1204.9L1419.9 1207.9L1420.4 1210.8L1420.4 1211.3M1423.6 1235.1L1423.6 1235.6L1424.0 1238.6L1424.3 1241.6L1424.6 1244.6L1425.0 1247.6L1425.0 1248.0M1427.2 1266.9L1427.3 1267.4L1427.8 1270.4L1428.3 1273.4L1428.8 1276.3L1429.4 1279.3L1429.5 1279.7M1433.6 1298.2L1433.7 1298.8L1434.4 1301.7L1435.1 1304.6L1435.9 1307.5L1436.6 1310.5L1436.7 1310.8M1441.5 1329.2L1441.7 1329.8L1442.4 1332.7L1443.1 1335.7L1443.7 1338.6L1444.4 1341.5L1444.5 1341.9M1449.5 1360.2L1449.7 1360.8L1450.7 1363.6L1451.7 1366.4L1452.7 1369.3L1453.8 1372.1L1453.9 1372.4M1460.8 1390.1L1461.1 1390.8L1462.2 1393.6L1463.3 1396.4L1464.5 1399.1L1465.8 1401.9L1465.9 1402.1M1475.5 1418.4L1476.0 1419.1L1477.9 1421.5L1479.7 1423.8L1481.7 1426.0L1483.7 1428.2L1483.9 1428.4M1498.3 1440.6L1499.2 1441.2L1501.7 1442.7L1504.3 1444.1L1505.2 1444.7M1519.0 1450.5L1519.2 1450.5L1522.1 1450.7L1525.0 1450.5L1526.9 1450.3M1541.8 1448.0L1542.0 1448.0L1544.9 1447.4L1547.9 1446.7L1549.6 1446.2M1562.6 1438.9L1562.7 1438.8L1565.3 1437.2L1568.0 1435.8L1569.6 1435.1M1583.8 1430.3L1584.0 1430.2L1586.8 1429.0L1589.6 1427.7L1591.0 1427.0M1605.3 1422.7L1605.6 1422.6L1608.6 1422.4L1611.7 1422.2L1613.2 1422.1M1627.5 1425.6L1628.0 1425.9L1630.6 1427.4L1633.2 1428.9L1634.4 1429.7M1645.9 1439.3L1646.3 1439.8L1648.5 1441.8L1650.6 1443.9L1651.6 1444.9M1661.6 1456.0L1662.1 1456.5L1664.1 1458.8L1666.1 1461.0L1667.1 1461.9M1677.7 1472.5L1678.2 1472.9L1680.4 1475.0L1682.6 1477.1L1683.6 1477.9M1694.8 1487.8L1695.4 1488.3L1697.7 1490.2L1700.0 1492.1L1701.0 1493.0M1712.9 1502.1L1713.5 1502.5L1716.0 1504.2L1718.4 1505.9L1719.5 1506.6M1732.3 1514.4L1733.0 1514.7L1735.6 1516.2L1738.3 1517.6L1739.4 1518.2M1752.9 1524.6L1753.6 1524.9L1756.4 1526.0L1759.2 1527.1L1760.4 1527.5M1774.5 1532.6L1775.2 1532.8L1778.1 1533.8L1780.9 1534.7L1782.1 1535.1M1796.2 1540.0L1797.1 1540.3L1799.9 1541.3L1802.8 1542.2L1803.9 1542.5M1818.6 1545.4L1819.3 1545.5L1822.3 1546.0L1825.3 1546.4L1826.5 1546.6M1854.3 1549.8L1855.2 1549.9L1858.1 1550.2L1861.1 1550.5L1864.1 1550.8L1867.1 1551.0L1870.1 1551.3L1873.1 1551.6L1874.2 1551.7M1906.1 1554.1L1907.0 1554.1L1910.0 1554.3L1913.0 1554.5L1916.0 1554.7L1919.0 1554.8L1922.0 1555.0L1925.0 1555.2L1926.1 1555.2M1958.0 1556.9L1959.0 1557.0L1962.0 1557.2L1965.0 1557.3L1968.0 1557.5L1971.0 1557.7L1974.0 1557.8L1977.0 1558.0L1978.0 1558.1M2010.0 1559.6L2010.9 1559.7L2013.9 1559.8L2016.9 1559.9L2019.9 1560.0L2022.9 1560.1L2025.9 1560.2L2028.9 1560.3L2029.9 1560.3M2061.9 1561.2L2062.9 1561.2L2065.9 1561.2L2068.9 1561.3L2071.9 1561.4L2074.9 1561.4L2077.9 1561.5L2080.9 1561.5L2081.9 1561.6M2113.9 1561.9L2113.9 1561.9L2117.0 1562.0L2120.0 1562.0L2123.0 1562.0L2126.0 1562.0L2129.0 1562.1L2132.0 1562.1L2133.9 1562.1M2165.9 1562.3L2166.0 1562.3L2169.0 1562.4L2172.0 1562.4L2175.0 1562.4L2178.0 1562.4L2181.0 1562.4L2184.0 1562.4L2185.9 1562.4"/>
<path class="f" stroke="#ff0000" d="M359.6 1560.4L359.8 1560.5L362.7 1561.5L365.6 1562.4L368.5 1563.0L371.4 1563.4L374.2 1563.5M395.1 1561.0L395.2 1561.0L398.2 1560.7L401.2 1560.5L404.2 1560.4L407.2 1560.3L410.0 1560.2M431.0 1559.6L431.2 1559.6L434.2 1559.4L437.2 1559.0L440.1 1558.3L443.1 1557.6L445.7 1556.9M466.6 1555.8L466.9 1555.8L469.9 1555.8L472.9 1555.8L475.9 1555.8L478.9 1555.8L481.6 1555.7M502.6 1554.1L502.9 1554.1L505.9 1554.1L508.9 1554.1L511.9 1554.1L514.9 1554.1L517.6 1554.1M538.6 1554.3L538.9 1554.3L541.9 1554.4L544.9 1554.5L547.9 1554.5L550.9 1554.5L553.6 1554.5M574.6 1554.5L574.9 1554.5L577.9 1554.5L580.9 1554.7L583.9 1555.0L586.9 1555.3L589.5 1555.6M610.5 1556.3L610.9 1556.3L613.9 1556.3L616.9 1556.3L619.9 1556.3L622.9 1556.3L625.5 1556.3M646.2 1559.1L646.7 1559.1L649.7 1559.5L652.6 1559.6L655.6 1559.8L658.6 1559.9L661.2 1560.0M682.2 1560.9L682.6 1560.9L685.6 1561.2L688.6 1561.4L691.6 1561.6L694.6 1561.9L697.2 1562.0M718.1 1562.3L718.6 1562.3L721.6 1562.3L724.6 1562.3L727.6 1562.3L730.6 1562.3L733.1 1562.3M754.1 1562.2L754.7 1562.2L757.7 1562.2L760.7 1562.2L763.7 1562.2L766.7 1562.2L769.7 1562.1L772.7 1562.1L773.1 1562.1M794.1 1561.8L794.6 1561.8L797.6 1561.5L800.6 1561.2L803.6 1560.8L806.6 1560.3L809.5 1559.8L812.5 1559.4L813.0 1559.3M833.9 1557.7L834.4 1557.7L837.4 1557.6L840.4 1557.5L843.4 1557.5L846.4 1557.4L849.4 1557.3L852.4 1557.2L852.9 1557.2M873.8 1556.1L874.4 1556.1L877.4 1555.8L880.4 1555.6L883.4 1555.3L886.4 1555.1L889.4 1554.8L892.4 1554.6L892.8 1554.6M913.8 1553.9L914.4 1553.9L917.4 1553.9L920.4 1553.9L923.4 1553.8L926.4 1553.8L929.4 1553.8L932.4 1553.8L932.8 1553.8M953.8 1553.7L954.4 1553.6L957.4 1553.6L960.4 1553.6L963.4 1553.6L966.4 1553.5L969.4 1553.5L972.4 1553.5L972.8 1553.4M993.8 1553.1L994.4 1553.1L997.4 1553.1L1000.4 1553.1L1003.4 1553.0L1006.4 1553.0L1009.4 1553.0L1012.4 1552.9L1012.8 1552.9M1033.8 1552.7L1034.4 1552.7L1037.4 1552.7L1040.4 1552.7L1043.4 1552.7L1046.4 1552.7L1049.4 1552.7L1052.4 1552.7L1052.8 1552.7M1073.8 1553.0L1074.5 1553.0L1077.5 1553.0L1080.5 1553.1L1083.5 1553.1L1086.5 1553.1L1089.5 1553.2L1092.5 1553.2L1092.8 1553.2M1113.8 1553.3L1114.5 1553.3L1117.5 1553.2L1120.5 1553.1L1123.5 1553.0L1126.5 1552.9L1129.5 1552.7L1129.7 1552.7M1153.7 1551.1L1154.4 1551.1L1157.4 1550.8L1160.4 1550.5L1163.4 1550.2L1166.4 1549.8L1169.4 1549.4L1169.6 1549.4M1193.3 1545.4L1194.1 1545.2L1197.0 1544.6L1199.9 1544.0L1202.8 1543.2L1205.6 1542.4L1208.5 1541.5L1208.7 1541.4M1230.7 1531.9L1230.9 1531.9L1233.5 1530.4L1236.1 1529.0L1238.6 1527.6L1241.1 1526.0L1243.6 1524.4L1244.5 1523.8M1262.9 1508.4L1263.2 1508.2L1265.3 1506.0L1267.3 1503.8L1269.3 1501.6L1271.2 1499.3L1272.9 1497.1L1273.4 1496.4M1285.8 1475.8L1285.9 1475.6L1287.2 1472.9L1288.6 1470.2L1289.9 1467.5L1291.3 1464.8L1292.6 1462.1L1292.9 1461.5M1302.5 1439.5L1302.6 1439.2L1303.8 1436.4L1304.9 1433.6L1306.0 1430.8L1307.1 1428.0L1308.1 1425.2L1308.4 1424.6M1316.6 1402.1L1316.7 1401.7L1317.7 1398.9L1318.6 1396.0L1319.5 1393.2L1320.4 1390.3L1321.3 1387.4L1321.5 1386.9M1327.9 1363.7L1328.0 1363.3L1328.8 1360.4L1329.6 1357.5L1330.3 1354.6L1331.1 1351.7L1331.8 1348.8L1332.0 1348.3M1337.7 1324.9L1337.8 1324.5L1338.5 1321.6L1339.2 1318.7L1340.0 1315.8L1340.7 1312.9L1341.5 1310.0L1341.7 1309.5M1347.3 1286.1L1347.4 1285.7L1348.0 1282.7L1348.5 1279.8L1349.1 1276.8L1349.6 1273.9L1350.1 1270.9L1350.2 1270.4M1355.2 1246.9L1355.3 1246.5L1356.0 1243.5L1356.7 1240.6L1357.3 1237.7L1358.0 1234.7L1358.7 1231.8L1358.8 1231.3M1363.9 1207.9L1364.0 1207.4L1364.7 1204.5L1365.3 1201.5L1365.9 1198.6L1366.5 1195.6L1367.1 1192.7L1367.2 1192.2M1371.2 1168.6L1371.3 1168.0L1371.8 1165.1L1372.3 1162.1L1372.8 1159.2L1373.3 1156.2L1373.8 1153.3L1373.9 1152.8M1378.4 1129.2L1378.5 1128.7L1379.0 1125.7L1379.6 1122.8L1380.2 1119.8L1380.8 1116.9L1381.5 1114.0L1382.1 1111.0L1382.8 1108.1L1383.4 1105.0L1384.0 1101.8L1384.6 1098.7L1385.3 1095.6L1386.1 1092.7L1387.1 1090.1L1388.3 1087.8L1390.4 1085.5L1393.0 1084.5L1395.4 1085.5L1397.8 1087.6L1400.0 1090.4L1401.8 1093.3L1402.9 1096.1L1403.5 1098.7L1404.1 1101.6L1404.5 1104.6L1404.9 1107.7L1405.2 1110.8L1405.6 1113.9L1406.0 1116.9L1406.4 1119.9L1406.8 1122.8L1407.2 1125.8L1407.6 1128.8L1408.0 1131.8L1408.1 1132.2M1411.5 1156.0L1411.6 1156.5L1412.1 1159.5L1412.5 1162.4L1413.0 1165.4L1413.6 1168.4L1414.1 1171.3L1414.1 1171.8M1418.1 1195.4L1418.2 1196.0L1418.7 1199.0L1419.1 1201.9L1419.5 1204.9L1419.9 1207.9L1420.4 1210.8L1420.4 1211.3M1423.6 1235.1L1423.6 1235.6L1424.0 1238.6L1424.3 1241.6L1424.6 1244.6L1425.0 1247.6L1425.0 1248.0M1427.2 1266.9L1427.3 1267.4L1427.8 1270.4L1428.3 1273.4L1428.8 1276.3L1429.4 1279.3L1429.5 1279.7M1433.6 1298.2L1433.7 1298.8L1434.4 1301.7L1435.1 1304.6L1435.9 1307.5L1436.6 1310.5L1436.7 1310.8M1441.5 1329.2L1441.7 1329.8L1442.4 1332.7L1443.1 1335.7L1443.7 1338.6L1444.4 1341.5L1444.5 1341.9M1449.5 1360.2L1449.7 1360.8L1450.7 1363.6L1451.7 1366.4L1452.7 1369.3L1453.8 1372.1L1453.9 1372.4M1460.8 1390.1L1461.1 1390.8L1462.2 1393.6L1463.3 1396.4L1464.5 1399.1L1465.8 1401.9L1465.9 1402.1M1475.5 1418.4L1476.0 1419.1L1477.9 1421.5L1479.7 1423.8L1481.7 1426.0L1483.7 1428.2L1483.9 1428.4M1498.3 1440.6L1499.2 1441.2L1501.7 1442.7L1504.3 1444.1L1505.2 1444.7M1519.0 1450.5L1519.2 1450.5L1522.1 1450.7L1525.0 1450.5L1526.9 1450.3M1541.8 1448.0L1542.0 1448.0L1544.9 1447.4L1547.9 1446.7L1549.6 1446.2M1562.6 1438.9L1562.7 1438.8L1565.3 1437.2L1568.0 1435.8L1569.6 1435.1M1583.8 1430.3L1584.0 1430.2L1586.8 1429.0L1589.6 1427.7L1591.0 1427.0M1605.3 1422.7L1605.6 1422.6L1608.6 1422.4L1611.7 1422.2L1613.2 1422.1M1627.5 1425.6L1628.0 1425.9L1630.6 1427.4L1633.2 1428.9L1634.4 1429.7M1645.9 1439.3L1646.3 1439.8L1648.5 1441.8L1650.6 1443.9L1651.6 1444.9M1661.6 1456.0L1662.1 1456.5L1664.1 1458.8L1666.1 1461.0L1667.1 1461.9M1677.7 1472.5L1678.2 1472.9L1680.4 1475.0L1682.6 1477.1L1683.6 1477.9M1694.8 1487.8L1695.4 1488.3L1697.7 1490.2L1700.0 1492.1L1701.0 1493.0M1712.9 1502.1L1713.5 1502.5L1716.0 1504.2L1718.4 1505.9L1719.5 1506.6M1732.3 1514.4L1733.0 1514.7L1735.6 1516.2L1738.3 1517.6L1739.4 1518.2M1752.9 1524.6L1753.6 1524.9L1756.4 1526.0L1759.2 1527.1L1760.4 1527.5M1774.5 1532.6L1775.2 1532.8L1778.1 1533.8L1780.9 1534.7L1782.1 1535.1M1796.2 1540.0L1797.1 1540.3L1799.9 1541.3L1802.8 1542.2L1803.9 1542.5M1818.6 1545.4L1819.3 1545.5L1822.3 1546.0L1825.3 1546.4L1826.5 1546.6M1854.3 1549.8L1855.2 1549.9L1858.1 1550.2L1861.1 1550.5L1864.1 1550.8L1867.1 1551.0L1870.1 1551.3L1873.1 1551.6L1874.2 1551.7M1906.1 1554.1L1907.0 1554.1L1910.0 1554.3L1913.0 1554.5L1916.0 1554.7L1919.0 1554.8L1922.0 1555.0L1925.0 1555.2L1926.1 1555.2M1958.0 1556.9L1959.0 1557.0L1962.0 1557.2L1965.0 1557.3L1968.0 1557.5L1971.0 1557.7L1974.0 1557.8L1977.0 1558.0L1978.0 1558.1M2010.0 1559.6L2010.9 1559.7L2013.9 1559.8L2016.9 1559.9L2019.9 1560.0L2022.9 1560.1L2025.9 1560.2L2028.9 1560.3L2029.9 1560.3M2061.9 1561.2L2062.9 1561.2L2065.9 1561.2L2068.9 1561.3L2071.9 1561.4L2074.9 1561.4L2077.9 1561.5L2080.9 1561.5L2081.9 1561.6M2113.9 1561.9L2113.9 1561.9L2117.0 1562.0L2120.0 1562.0L2123.0 1562.0L2126.0 1562.0L2129.0 1562.1L2132.0 1562.1L2133.9 1562.1M2165.9 1562.3L2166.0 1562.3L2169.0 1562.4L2172.0 1562.4L2175.0 1562.4L2178.0 1562.4L2181.0 1562.4L2184.0 1562.4L2185.9 1562.4"/>
<path class="c d" stroke="#00ff00" d="M381.0 1563.5L381.2 1562.5L381.8 1559.6L382.4 1556.6L383.1 1553.7L383.7 1550.8L384.4 1547.8L385.0 1544.9L385.7 1541.5L386.3 1537.6L386.9 1534.1L387.6 1531.8L388.5 1531.4L389.4 1533.7L390.5 1537.3L391.7 1540.5L393.2 1543.2L393.5 1543.7M412.2 1552.0L412.6 1552.0L415.6 1552.4L418.6 1552.7L421.7 1552.9L424.7 1553.0L427.1 1552.9M446.9 1546.7L447.6 1546.7L450.6 1546.6L453.6 1546.5L456.6 1546.5L459.6 1546.4L461.9 1546.3M482.9 1545.5L483.6 1545.5L486.6 1545.4L489.6 1545.2L492.6 1544.9L495.6 1544.7L497.9 1544.5M518.8 1544.0L519.5 1544.1L522.5 1544.5L525.5 1545.0L528.5 1545.5L531.5 1545.9L533.7 1546.2M554.7 1546.4L555.4 1546.4L558.4 1546.4L561.4 1546.4L564.5 1546.4L567.5 1546.4L569.7 1546.4M590.6 1547.9L591.4 1548.0L594.4 1548.4L597.4 1548.7L600.3 1549.0L603.3 1549.3L605.5 1549.6M626.3 1552.2L627.2 1552.3L630.1 1552.7L633.1 1553.1L636.1 1553.5L639.1 1553.9L641.2 1554.2M662.0 1557.4L662.8 1557.6L665.8 1558.1L668.7 1558.6L671.7 1559.1L674.7 1559.5L676.8 1559.8M697.7 1561.9L698.5 1562.0L701.5 1562.2L704.5 1562.4L707.5 1562.6L710.5 1562.8L712.6 1562.9M733.6 1563.0L734.5 1563.0L737.5 1563.0L740.5 1563.0L743.5 1563.0L746.5 1563.0L749.5 1563.0L752.5 1563.0L752.6 1563.0M773.6 1563.0L774.5 1563.0L777.5 1563.0L780.5 1563.0L783.5 1563.0L786.5 1563.0L789.5 1563.0L792.5 1563.0L792.6 1563.0M813.6 1563.0L814.5 1563.0L817.5 1563.0L820.5 1563.0L823.5 1563.0L826.5 1563.0L829.6 1563.0L832.6 1563.0L832.6 1563.0M853.6 1563.0L854.6 1563.0L857.6 1563.0L860.6 1563.0L863.6 1563.0L866.6 1563.0L869.6 1563.0L872.6 1563.0L872.6 1563.0M893.6 1563.0L894.6 1563.0L897.6 1563.0L900.6 1563.0L903.6 1563.0L906.6 1563.0L909.6 1563.0L912.6 1563.0L912.6 1563.0M933.6 1563.0L933.6 1563.0L936.6 1563.0L939.6 1562.9L942.6 1562.9L945.6 1562.9L948.6 1562.9L951.6 1562.9L952.6 1562.9M973.6 1562.8L973.7 1562.8L976.7 1562.8L979.7 1562.8L982.7 1562.7L985.7 1562.7L988.7 1562.7L991.7 1562.7L992.6 1562.7M1013.6 1562.5L1013.7 1562.5L1016.7 1562.5L1019.7 1562.5L1022.7 1562.4L1025.7 1562.4L1028.7 1562.4L1031.7 1562.3L1032.6 1562.3M1053.6 1562.1L1053.7 1562.1L1056.7 1562.0L1059.7 1562.0L1062.7 1562.0L1065.7 1561.9L1068.7 1561.8L1071.7 1561.7L1072.6 1561.6M1093.6 1560.4L1093.7 1560.4L1096.7 1560.3L1099.7 1560.1L1102.7 1559.9L1105.7 1559.7L1108.7 1559.5L1111.7 1559.3L1112.5 1559.3M1133.5 1557.4L1133.6 1557.4L1136.5 1557.1L1139.5 1556.7L1142.5 1556.3L1145.5 1555.8L1148.5 1555.4L1149.3 1555.2M1172.8 1550.3L1173.0 1550.2L1175.9 1549.5L1178.8 1548.8L1181.6 1548.0L1184.5 1547.1L1187.4 1546.2L1188.2 1546.0M1210.4 1537.0L1211.1 1536.7L1213.8 1535.3L1216.4 1533.9L1218.9 1532.5L1221.4 1531.0L1223.8 1529.4L1224.3 1529.1M1241.9 1512.8L1242.1 1512.6L1244.1 1510.2L1246.1 1507.8L1248.0 1505.4L1249.8 1502.9L1251.6 1500.4L1251.7 1500.2M1264.1 1479.7L1264.4 1479.2L1265.7 1476.5L1267.0 1473.8L1268.3 1471.0L1269.6 1468.2L1270.8 1465.5L1270.9 1465.2M1280.0 1443.0L1280.3 1442.3L1281.3 1439.5L1282.4 1436.6L1283.4 1433.8L1284.3 1431.0L1285.3 1428.1L1285.4 1427.9M1292.3 1405.0L1292.5 1404.2L1293.3 1401.3L1294.1 1398.4L1294.9 1395.5L1295.6 1392.6L1296.4 1389.6L1296.4 1389.5M1301.6 1366.1L1301.8 1365.2L1302.3 1362.3L1302.9 1359.3L1303.4 1356.4L1303.9 1353.4L1304.5 1350.5L1304.5 1350.3M1308.7 1326.7L1308.8 1325.8L1309.4 1322.9L1309.9 1319.9L1310.4 1317.0L1311.0 1314.0L1311.5 1311.1L1311.5 1311.0M1315.8 1287.3L1315.9 1286.4L1316.4 1283.5L1317.0 1280.5L1317.5 1277.6L1318.0 1274.6L1318.5 1271.7L1318.5 1271.6M1323.0 1248.0L1323.1 1247.1L1323.8 1244.1L1324.3 1241.2L1324.9 1238.2L1325.5 1235.3L1326.0 1232.3L1326.0 1232.3M1328.6 1208.4L1328.7 1207.4L1328.9 1204.4L1329.2 1201.5L1329.5 1198.5L1329.8 1195.5L1330.2 1192.5L1330.2 1192.5M1336.1 1169.3L1336.4 1168.3L1337.1 1165.4L1337.7 1162.5L1338.2 1159.5L1338.7 1156.6L1339.2 1153.6L1339.2 1153.6M1343.2 1130.0L1343.2 1129.9L1343.9 1127.0L1344.5 1124.1L1345.2 1121.2L1345.9 1118.3L1346.6 1115.3L1346.9 1114.4M1352.7 1091.1L1352.7 1091.1L1353.4 1088.1L1354.1 1085.2L1354.7 1082.3L1355.4 1079.4L1356.1 1076.4L1356.4 1075.5M1361.1 1052.0L1361.1 1051.9L1361.6 1049.0L1362.0 1046.0L1362.4 1043.0L1362.7 1040.1L1363.1 1037.1L1363.2 1036.1M1365.6 1012.3L1365.6 1011.6L1365.9 1007.6L1366.1 1003.7L1366.4 999.8L1366.6 996.3M1370.2 1001.6L1370.3 1002.3L1370.7 1006.1L1371.1 1010.1L1371.6 1014.0L1372.0 1017.5M1375.4 1041.3L1375.5 1041.6L1375.9 1044.6L1376.4 1047.6L1376.9 1050.5L1377.5 1053.5L1378.0 1056.4L1378.1 1057.1M1383.1 1080.5L1383.1 1080.9L1383.8 1083.8L1384.5 1086.7L1385.2 1089.7L1385.9 1092.6L1386.5 1095.5L1386.6 1096.1M1390.9 1119.8L1391.0 1120.1L1391.6 1123.1L1392.4 1126.0L1393.2 1128.9L1394.1 1131.7L1395.1 1134.6L1395.3 1135.1M1400.2 1158.5L1400.3 1158.9L1400.6 1161.9L1400.9 1164.9L1401.2 1167.9L1401.5 1170.9L1401.8 1173.9L1401.9 1174.4M1407.7 1197.7L1407.8 1198.1L1408.6 1201.0L1409.4 1204.0L1410.1 1206.9L1410.8 1209.8L1411.5 1212.7L1411.6 1213.2M1417.8 1236.4L1417.9 1236.9L1418.8 1239.7L1419.6 1242.6L1420.5 1245.5L1421.3 1248.4L1422.1 1251.3L1422.3 1251.8M1427.9 1275.1L1428.0 1275.6L1428.7 1278.5L1429.4 1281.4L1430.2 1284.3L1431.0 1287.2L1431.2 1287.7M1437.0 1305.7L1437.2 1306.2L1438.1 1309.1L1439.0 1312.0L1439.8 1314.9L1440.6 1317.7L1440.8 1318.2M1446.3 1336.4L1446.5 1336.9L1447.5 1339.7L1448.6 1342.5L1449.7 1345.3L1450.9 1348.0L1451.0 1348.5M1458.9 1365.8L1459.1 1366.3L1460.4 1369.0L1461.8 1371.7L1463.1 1374.4L1464.5 1377.0L1464.7 1377.4M1473.6 1394.2L1473.9 1394.7L1475.4 1397.3L1476.9 1399.9L1478.4 1402.5L1479.9 1405.1L1480.1 1405.4M1489.5 1421.9L1489.9 1422.6L1491.4 1425.2L1492.9 1427.8L1493.6 1428.8M1503.6 1439.9L1504.1 1440.3L1506.5 1442.3L1508.9 1444.2L1509.9 1444.9M1522.9 1452.4L1523.5 1452.6L1526.3 1453.9L1529.0 1455.2L1530.1 1455.7M1543.2 1463.1L1543.5 1463.3L1546.2 1464.3L1548.9 1464.8L1550.9 1464.7M1564.5 1458.6L1564.6 1458.5L1567.5 1457.5L1570.4 1456.9L1572.2 1456.5M1587.1 1454.6L1587.3 1454.6L1590.2 1454.2L1593.2 1453.7L1595.0 1453.5M1609.9 1453.2L1610.1 1453.3L1613.0 1454.1L1615.9 1455.1L1617.5 1455.7M1631.2 1461.8L1631.4 1462.0L1634.0 1463.5L1636.6 1465.1L1638.0 1466.0M1650.6 1474.1L1650.9 1474.3L1653.4 1476.0L1655.8 1477.7L1657.2 1478.7M1669.4 1487.4L1669.7 1487.6L1672.1 1489.4L1674.6 1491.2L1675.8 1492.1M1688.0 1500.9L1688.4 1501.1L1690.9 1502.8L1693.4 1504.3L1694.8 1505.1M1708.0 1512.3L1708.3 1512.5L1711.0 1513.8L1713.8 1515.1L1715.2 1515.8M1728.9 1521.7L1729.4 1521.9L1732.2 1523.0L1735.0 1524.0L1736.4 1524.6M1750.7 1529.3L1751.1 1529.4L1754.0 1530.3L1756.9 1531.2L1758.3 1531.6M1772.7 1535.8L1773.2 1535.9L1776.1 1536.7L1779.0 1537.5L1780.5 1537.8M1795.0 1541.6L1795.5 1541.8L1798.4 1542.6L1801.2 1543.5L1802.6 1543.9M1816.9 1548.6L1817.5 1548.8L1820.4 1549.6L1823.3 1550.4L1824.6 1550.7M1865.4 1554.6L1865.9 1554.7L1868.9 1554.8L1871.9 1555.0L1874.9 1555.2L1878.0 1555.3L1881.0 1555.5L1884.0 1555.6L1885.3 1555.7M1917.3 1557.7L1917.9 1557.7L1920.9 1557.9L1923.9 1558.0L1926.9 1558.2L1929.9 1558.4L1932.9 1558.5L1935.9 1558.6L1937.3 1558.7M1969.2 1559.7L1969.9 1559.7L1972.9 1559.8L1975.9 1559.9L1978.9 1559.9L1981.9 1560.0L1984.9 1560.1L1987.9 1560.1L1989.2 1560.2M2021.2 1560.9L2021.9 1561.0L2024.9 1561.0L2027.9 1561.1L2030.9 1561.2L2033.9 1561.3L2036.9 1561.4L2039.9 1561.5L2041.2 1561.5M2073.2 1562.2L2073.9 1562.3L2076.9 1562.3L2079.9 1562.4L2082.9 1562.4L2085.9 1562.5L2088.9 1562.5L2091.9 1562.5L2093.2 1562.5M2125.2 1562.7L2126.0 1562.7L2129.0 1562.8L2132.0 1562.8L2135.0 1562.8L2138.0 1562.8L2141.0 1562.8L2144.0 1562.8L2145.2 1562.8M2177.2 1562.9L2178.0 1563.0L2181.0 1563.0L2184.0 1563.0L2187.0 1563.0L2190.0 1563.0L2193.0 1563.0L2196.0 1563.0L2197.2 1563.0"/>
<path class="f" stroke="#00ff00" d="M381.0 1563.5L381.2 1562.5L381.8 1559.6L382.4 1556.6L383.1 1553.7L383.7 1550.8L384.4 1547.8L385.0 1544.9L385.7 1541.5L386.3 1537.6L386.9 1534.1L387.6 1531.8L388.5 1531.4L389.4 1533.7L390.5 1537.3L391.7 1540.5L393.2 1543.2L393.5 1543.7M412.2 1552.0L412.6 1552.0L415.6 1552.4L418.6 1552.7L421.7 1552.9L424.7 1553.0L427.1 1552.9M446.9 1546.7L447.6 1546.7L450.6 1546.6L453.6 1546.5L456.6 1546.5L459.6 1546.4L461.9 1546.3M482.9 1545.5L483.6 1545.5L486.6 1545.4L489.6 1545.2L492.6 1544.9L495.6 1544.7L497.9 1544.5M518.8 1544.0L519.5 1544.1L522.5 1544.5L525.5 1545.0L528.5 1545.5L531.5 1545.9L533.7 1546.2M554.7 1546.4L555.4 1546.4L558.4 1546.4L561.4 1546.4L564.5 1546.4L567.5 1546.4L569.7 1546.4M590.6 1547.9L591.4 1548.0L594.4 1548.4L597.4 1548.7L600.3 1549.0L603.3 1549.3L605.5 1549.6M626.3 1552.2L627.2 1552.3L630.1 1552.7L633.1 1553.1L636.1 1553.5L639.1 1553.9L641.2 1554.2M662.0 1557.4L662.8 1557.6L665.8 1558.1L668.7 1558.6L671.7 1559.1L674.7 1559.5L676.8 1559.8M697.7 1561.9L698.5 1562.0L701.5 1562.2L704.5 1562.4L707.5 1562.6L710.5 1562.8L712.6 1562.9M733.6 1563.0L734.5 1563.0L737.5 1563.0L740.5 1563.0L743.5 1563.0L746.5 1563.0L749.5 1563.0L752.5 1563.0L752.6 1563.0M773.6 1563.0L774.5 1563.0L777.5 1563.0L780.5 1563.0L783.5 1563.0L786.5 1563.0L789.5 1563.0L792.5 1563.0L792.6 1563.0M813.6 1563.0L814.5 1563.0L817.5 1563.0L820.5 1563.0L823.5 1563.0L826.5 1563.0L829.6 1563.0L832.6 1563.0L832.6 1563.0M853.6 1563.0L854.6 1563.0L857.6 1563.0L860.6 1563.0L863.6 1563.0L866.6 1563.0L869.6 1563.0L872.6 1563.0L872.6 1563.0M893.6 1563.0L894.6 1563.0L897.6 1563.0L900.6 1563.0L903.6 1563.0L906.6 1563.0L909.6 1563.0L912.6 1563.0L912.6 1563.0M933.6 1563.0L933.6 1563.0L936.6 1563.0L939.6 1562.9L942.6 1562.9L945.6 1562.9L948.6 1562.9L951.6 1562.9L952.6 1562.9M973.6 1562.8L973.7 1562.8L976.7 1562.8L979.7 1562.8L982.7 1562.7L985.7 1562.7L988.7 1562.7L991.7 1562.7L992.6 1562.7M1013.6 1562.5L1013.7 1562.5L1016.7 1562.5L1019.7 1562.5L1022.7 1562.4L1025.7 1562.4L1028.7 1562.4L1031.7 1562.3L1032.6 1562.3M1053.6 1562.1L1053.7 1562.1L1056.7 1562.0L1059.7 1562.0L1062.7 1562.0L1065.7 1561.9L1068.7 1561.8L1071.7 1561.7L1072.6 1561.6M1093.6 1560.4L1093.7 1560.4L1096.7 1560.3L1099.7 1560.1L1102.7 1559.9L1105.7 1559.7L1108.7 1559.5L1111.7 1559.3L1112.5 1559.3M1133.5 1557.4L1133.6 1557.4L1136.5 1557.1L1139.5 1556.7L1142.5 1556.3L1145.5 1555.8L1148.5 1555.4L1149.3 1555.2M1172.8 1550.3L1173.0 1550.2L1175.9 1549.5L1178.8 1548.8L1181.6 1548.0L1184.5 1547.1L1187.4 1546.2L1188.2 1546.0M1210.4 1537.0L1211.1 1536.7L1213.8 1535.3L1216.4 1533.9L1218.9 1532.5L1221.4 1531.0L1223.8 1529.4L1224.3 1529.1M1241.9 1512.8L1242.1 1512.6L1244.1 1510.2L1246.1 1507.8L1248.0 1505.4L1249.8 1502.9L1251.6 1500.4L1251.7 1500.2M1264.1 1479.7L1264.4 1479.2L1265.7 1476.5L1267.0 1473.8L1268.3 1471.0L1269.6 1468.2L1270.8 1465.5L1270.9 1465.2M1280.0 1443.0L1280.3 1442.3L1281.3 1439.5L1282.4 1436.6L1283.4 1433.8L1284.3 1431.0L1285.3 1428.1L1285.4 1427.9M1292.3 1405.0L1292.5 1404.2L1293.3 1401.3L1294.1 1398.4L1294.9 1395.5L1295.6 1392.6L1296.4 1389.6L1296.4 1389.5M1301.6 1366.1L1301.8 1365.2L1302.3 1362.3L1302.9 1359.3L1303.4 1356.4L1303.9 1353.4L1304.5 1350.5L1304.5 1350.3M1308.7 1326.7L1308.8 1325.8L1309.4 1322.9L1309.9 1319.9L1310.4 1317.0L1311.0 1314.0L1311.5 1311.1L1311.5 1311.0M1315.8 1287.3L1315.9 1286.4L1316.4 1283.5L1317.0 1280.5L1317.5 1277.6L1318.0 1274.6L1318.5 1271.7L1318.5 1271.6M1323.0 1248.0L1323.1 1247.1L1323.8 1244.1L1324.3 1241.2L1324.9 1238.2L1325.5 1235.3L1326.0 1232.3L1326.0 1232.3M1328.6 1208.4L1328.7 1207.4L1328.9 1204.4L1329.2 1201.5L1329.5 1198.5L1329.8 1195.5L1330.2 1192.5L1330.2 1192.5M1336.1 1169.3L1336.4 1168.3L1337.1 1165.4L1337.7 1162.5L1338.2 1159.5L1338.7 1156.6L1339.2 1153.6L1339.2 1153.6M1343.2 1130.0L1343.2 1129.9L1343.9 1127.0L1344.5 1124.1L1345.2 1121.2L1345.9 1118.3L1346.6 1115.3L1346.9 1114.4M1352.7 1091.1L1352.7 1091.1L1353.4 1088.1L1354.1 1085.2L1354.7 1082.3L1355.4 1079.4L1356.1 1076.4L1356.4 1075.5M1361.1 1052.0L1361.1 1051.9L1361.6 1049.0L1362.0 1046.0L1362.4 1043.0L1362.7 1040.1L1363.1 1037.1L1363.2 1036.1M1365.6 1012.3L1365.6 1011.6L1365.9 1007.6L1366.1 1003.7L1366.4 999.8L1366.6 996.3M1370.2 1001.6L1370.3 1002.3L1370.7 1006.1L1371.1 1010.1L1371.6 1014.0L1372.0 1017.5M1375.4 1041.3L1375.5 1041.6L1375.9 1044.6L1376.4 1047.6L1376.9 1050.5L1377.5 1053.5L1378.0 1056.4L1378.1 1057.1M1383.1 1080.5L1383.1 1080.9L1383.8 1083.8L1384.5 1086.7L1385.2 1089.7L1385.9 1092.6L1386.5 1095.5L1386.6 1096.1M1390.9 1119.8L1391.0 1120.1L1391.6 1123.1L1392.4 1126.0L1393.2 1128.9L1394.1 1131.7L1395.1 1134.6L1395.3 1135.1M1400.2 1158.5L1400.3 1158.9L1400.6 1161.9L1400.9 1164.9L1401.2 1167.9L1401.5 1170.9L1401.8 1173.9L1401.9 1174.4M1407.7 1197.7L1407.8 1198.1L1408.6 1201.0L1409.4 1204.0L1410.1 1206.9L1410.8 1209.8L1411.5 1212.7L1411.6 1213.2M1417.8 1236.4L1417.9 1236.9L1418.8 1239.7L1419.6 1242.6L1420.5 1245.5L1421.3 1248.4L1422.1 1251.3L1422.3 1251.8M1427.9 1275.1L1428.0 1275.6L1428.7 1278.5L1429.4 1281.4L1430.2 1284.3L1431.0 1287.2L1431.2 1287.7M1437.0 1305.7L1437.2 1306.2L1438.1 1309.1L1439.0 1312.0L1439.8 1314.9L1440.6 1317.7L1440.8 1318.2M1446.3 1336.4L1446.5 1336.9L1447.5 1339.7L1448.6 1342.5L1449.7 1345.3L1450.9 1348.0L1451.0 1348.5M1458.9 1365.8L1459.1 1366.3L1460.4 1369.0L1461.8 1371.7L1463.1 1374.4L1464.5 1377.0L1464.7 1377.4M1473.6 1394.2L1473.9 1394.7L1475.4 1397.3L1476.9 1399.9L1478.4 1402.5L1479.9 1405.1L1480.1 1405.4M1489.5 1421.9L1489.9 1422.6L1491.4 1425.2L1492.9 1427.8L1493.6 1428.8M1503.6 1439.9L1504.1 1440.3L1506.5 1442.3L1508.9 1444.2L1509.9 1444.9M1522.9 1452.4L1523.5 1452.6L1526.3 1453.9L1529.0 1455.2L1530.1 1455.7M1543.2 1463.1L1543.5 1463.3L1546.2 1464.3L1548.9 1464.8L1550.9 1464.7M1564.5 1458.6L1564.6 1458.5L1567.5 1457.5L1570.4 1456.9L1572.2 1456.5M1587.1 1454.6L1587.3 1454.6L1590.2 1454.2L1593.2 1453.7L1595.0 1453.5M1609.9 1453.2L1610.1 1453.3L1613.0 1454.1L1615.9 1455.1L1617.5 1455.7M1631.2 1461.8L1631.4 1462.0L1634.0 1463.5L1636.6 1465.1L1638.0 1466.0M1650.6 1474.1L1650.9 1474.3L1653.4 1476.0L1655.8 1477.7L1657.2 1478.7M1669.4 1487.4L1669.7 1487.6L1672.1 1489.4L1674.6 1491.2L1675.8 1492.1M1688.0 1500.9L1688.4 1501.1L1690.9 1502.8L1693.4 1504.3L1694.8 1505.1M1708.0 1512.3L1708.3 1512.5L1711.0 1513.8L1713.8 1515.1L1715.2 1515.8M1728.9 1521.7L1729.4 1521.9L1732.2 1523.0L1735.0 1524.0L1736.4 1524.6M1750.7 1529.3L1751.1 1529.4L1754.0 1530.3L1756.9 1531.2L1758.3 1531.6M1772.7 1535.8L1773.2 1535.9L1776.1 1536.7L1779.0 1537.5L1780.5 1537.8M1795.0 1541.6L1795.5 1541.8L1798.4 1542.6L1801.2 1543.5L1802.6 1543.9M1816.9 1548.6L1817.5 1548.8L1820.4 1549.6L1823.3 1550.4L1824.6 1550.7M1865.4 1554.6L1865.9 1554.7L1868.9 1554.8L1871.9 1555.0L1874.9 1555.2L1878.0 1555.3L1881.0 1555.5L1884.0 1555.6L1885.3 1555.7M1917.3 1557.7L1917.9 1557.7L1920.9 1557.9L1923.9 1558.0L1926.9 1558.2L1929.9 1558.4L1932.9 1558.5L1935.9 1558.6L1937.3 1558.7M1969.2 1559.7L1969.9 1559.7L1972.9 1559.8L1975.9 1559.9L1978.9 1559.9L1981.9 1560.0L1984.9 1560.1L1987.9 1560.1L1989.2 1560.2M2021.2 1560.9L2021.9 1561.0L2024.9 1561.0L2027.9 1561.1L2030.9 1561.2L2033.9 1561.3L2036.9 1561.4L2039.9 1561.5L2041.2 1561.5M2073.2 1562.2L2073.9 1562.3L2076.9 1562.3L2079.9 1562.4L2082.9 1562.4L2085.9 1562.5L2088.9 1562.5L2091.9 1562.5L2093.2 1562.5M2125.2 1562.7L2126.0 1562.7L2129.0 1562.8L2132.0 1562.8L2135.0 1562.8L2138.0 1562.8L2141.0 1562.8L2144.0 1562.8L2145.2 1562.8M2177.2 1562.9L2178.0 1563.0L2181.0 1563.0L2184.0 1563.0L2187.0 1563.0L2190.0 1563.0L2193.0 1563.0L2196.0 1563.0L2197.2 1563.0"/>
<path class="c d" stroke="#0000ff" d="M382.1 1558.2L382.1 1558.2L382.9 1555.3L383.8 1552.4L384.6 1549.5L385.5 1546.6L386.4 1543.7L387.2 1540.2L388.0 1536.4L388.8 1532.7L389.6 1529.5L390.6 1527.3L391.7 1526.3L393.1 1527.3L394.9 1530.0L396.8 1533.2L398.6 1535.9L400.4 1538.5L402.3 1540.9L404.4 1542.8L405.6 1543.5M426.1 1545.9L426.9 1545.9L429.9 1545.9L432.9 1545.9L435.8 1545.7L438.7 1545.1L441.0 1544.5M460.9 1538.0L461.8 1537.7L464.6 1536.7L467.5 1535.9L470.4 1535.2L473.3 1534.7L475.4 1534.4M496.4 1532.6L497.3 1532.6L500.3 1532.6L503.3 1532.6L506.3 1532.6L509.3 1532.6L511.4 1532.6M532.1 1535.3L533.0 1535.5L535.9 1536.2L538.9 1536.8L541.8 1537.5L544.8 1538.1L546.7 1538.5M567.1 1543.7L567.1 1543.7L570.0 1544.3L573.0 1544.9L575.9 1545.5L578.9 1546.0L581.8 1546.5M602.7 1547.8L602.8 1547.8L605.8 1547.9L608.8 1548.0L611.8 1548.2L614.8 1548.4L617.7 1548.6M638.6 1551.1L638.6 1551.1L641.6 1551.4L644.6 1551.6L647.6 1551.8L650.6 1552.0L653.5 1552.2M674.3 1554.9L674.4 1554.9L677.4 1555.5L680.3 1556.1L683.3 1556.7L686.2 1557.2L689.1 1557.7M709.9 1559.9L710.0 1559.9L713.0 1559.9L716.0 1559.9L719.0 1560.0L722.0 1560.0L724.9 1560.0M745.9 1560.0L746.1 1560.0L749.1 1560.0L752.1 1560.1L755.1 1560.1L758.1 1560.1L761.1 1560.1L764.1 1560.2L764.9 1560.2M785.9 1560.4L786.1 1560.4L789.1 1560.4L792.1 1560.5L795.1 1560.5L798.1 1560.5L801.1 1560.6L804.1 1560.6L804.9 1560.6M825.9 1560.8L826.1 1560.8L829.1 1560.9L832.1 1560.9L835.1 1560.9L838.1 1560.9L841.1 1560.9L844.1 1561.0L844.9 1561.0M865.9 1561.0L866.2 1561.0L869.2 1561.0L872.2 1561.0L875.2 1561.0L878.2 1561.0L881.2 1561.0L884.2 1561.0L884.9 1561.0M905.9 1561.0L906.2 1561.0L909.2 1561.0L912.2 1561.0L915.2 1561.0L918.2 1561.0L921.2 1561.0L924.2 1561.0L924.9 1561.0M945.9 1561.0L946.2 1561.0L949.2 1561.0L952.2 1561.0L955.2 1561.0L958.2 1561.0L961.2 1561.0L964.2 1561.0L964.9 1561.0M985.9 1560.7L986.2 1560.7L989.2 1560.6L992.2 1560.5L995.2 1560.4L998.2 1560.3L1001.2 1560.2L1004.2 1560.0L1004.9 1560.0M1025.8 1558.6L1026.2 1558.6L1029.2 1558.3L1032.2 1558.0L1035.2 1557.7L1038.2 1557.4L1041.1 1557.1L1044.1 1556.9L1044.7 1556.8M1065.6 1554.9L1066.1 1554.8L1069.1 1554.5L1072.1 1554.2L1075.1 1553.9L1078.1 1553.6L1081.1 1553.3L1084.0 1552.9L1084.5 1552.9M1105.3 1549.5L1105.7 1549.4L1108.7 1548.8L1111.6 1548.1L1114.6 1547.4L1117.5 1546.6L1120.4 1545.8L1120.8 1545.7M1143.5 1538.1L1144.0 1537.9L1146.7 1536.7L1149.5 1535.5L1152.2 1534.2L1154.9 1532.8L1157.5 1531.3L1157.9 1531.1M1177.8 1517.7L1178.5 1517.2L1180.7 1515.4L1183.0 1513.5L1185.1 1511.5L1187.3 1509.4L1189.4 1507.3L1189.6 1507.0M1205.1 1488.6L1205.6 1487.9L1207.5 1485.6L1209.4 1483.2L1211.2 1480.8L1213.0 1478.4L1214.7 1476.0L1214.8 1475.9M1228.4 1456.1L1228.9 1455.4L1230.6 1452.9L1232.2 1450.4L1233.9 1447.8L1235.5 1445.3L1237.1 1442.8L1237.1 1442.7M1249.1 1421.9L1249.5 1421.1L1250.9 1418.4L1252.3 1415.7L1253.7 1413.1L1255.0 1410.4L1256.3 1407.7L1256.3 1407.6M1265.9 1385.6L1266.3 1384.7L1267.4 1381.9L1268.5 1379.1L1269.6 1376.3L1270.7 1373.6L1271.8 1370.8L1271.8 1370.7M1280.0 1348.2L1280.0 1348.2L1280.9 1345.3L1281.9 1342.5L1282.8 1339.6L1283.8 1336.8L1284.7 1333.9L1285.0 1333.0M1292.3 1310.1L1292.3 1310.1L1293.3 1307.2L1294.2 1304.4L1295.1 1301.5L1296.0 1298.6L1296.8 1295.8L1297.0 1294.9M1302.4 1271.5L1302.4 1271.4L1303.0 1268.4L1303.5 1265.5L1304.1 1262.5L1304.6 1259.6L1305.1 1256.6L1305.2 1255.7M1308.0 1231.9L1308.0 1231.7L1308.3 1228.8L1308.6 1225.8L1308.9 1222.8L1309.2 1219.8L1309.6 1216.8L1309.7 1216.0M1314.2 1192.4L1314.3 1192.3L1315.1 1189.4L1315.9 1186.5L1316.6 1183.6L1317.4 1180.7L1318.1 1177.8L1318.2 1177.0M1323.7 1153.6L1323.7 1153.4L1324.5 1150.5L1325.4 1147.6L1326.2 1144.8L1327.2 1141.9L1328.1 1139.0L1329.1 1136.2L1330.1 1133.4L1331.1 1130.5L1332.1 1127.7L1333.2 1124.9L1334.4 1122.1L1335.6 1119.4L1336.9 1116.7L1338.3 1114.1L1339.8 1111.5L1341.5 1109.0L1343.2 1106.5L1344.9 1104.0L1346.7 1101.0L1348.5 1098.0L1350.4 1095.4L1352.4 1093.9L1354.9 1093.7L1358.0 1094.0L1361.4 1094.6L1364.4 1095.3L1366.5 1096.2L1368.0 1098.2L1369.4 1101.1L1370.6 1104.4L1371.7 1107.5L1372.8 1110.3L1373.7 1113.2L1374.6 1116.2L1375.6 1119.1L1376.7 1121.8L1378.1 1124.2L1380.1 1126.4L1382.4 1128.5L1384.6 1130.5M1395.8 1151.5L1395.9 1151.6L1397.5 1154.2L1399.1 1156.7L1400.7 1159.3L1402.0 1162.0L1403.0 1164.7L1403.3 1165.5M1410.4 1188.4L1410.5 1188.7L1411.4 1191.5L1412.3 1194.4L1413.2 1197.2L1414.0 1200.1L1414.8 1203.0L1415.0 1203.8M1420.4 1227.1L1420.4 1227.4L1421.3 1230.3L1422.3 1233.1L1423.2 1236.0L1424.2 1238.8L1424.4 1239.5M1430.0 1257.7L1430.1 1257.9L1430.9 1260.8L1431.7 1263.7L1432.5 1266.6L1433.4 1269.5L1433.6 1270.2M1438.4 1288.5L1438.5 1288.8L1439.3 1291.7L1440.0 1294.6L1440.8 1297.5L1441.6 1300.4L1441.8 1301.1M1446.6 1319.5L1446.7 1319.8L1447.4 1322.7L1448.2 1325.6L1449.0 1328.5L1449.8 1331.4L1450.0 1332.0M1455.6 1350.2L1455.7 1350.5L1456.6 1353.4L1457.6 1356.2L1458.5 1359.1L1459.5 1361.9L1459.7 1362.5M1465.6 1380.6L1465.7 1380.9L1466.7 1383.8L1467.6 1386.7L1468.5 1389.5L1469.5 1392.4L1469.7 1392.9M1476.6 1410.6L1476.8 1410.9L1478.1 1413.6L1479.4 1416.4L1480.7 1419.0L1482.2 1421.7L1482.4 1422.2M1492.2 1438.5L1492.5 1438.9L1494.1 1441.4L1495.8 1443.9L1496.7 1445.1M1506.0 1456.9L1506.4 1457.4L1508.5 1459.5L1510.6 1461.5L1511.6 1462.5M1523.4 1471.8L1524.1 1472.2L1526.7 1473.7L1529.4 1474.9L1530.5 1475.4M1544.7 1480.4L1545.5 1480.6L1548.5 1481.3L1551.4 1481.9L1552.5 1482.0M1567.5 1482.1L1568.3 1482.0L1571.4 1481.9L1574.4 1481.8L1575.5 1481.8M1590.5 1481.8L1591.4 1481.8L1594.5 1481.9L1597.5 1482.0L1598.5 1482.1M1613.3 1483.8L1614.2 1484.0L1617.1 1484.8L1620.0 1485.7L1621.0 1486.1M1635.1 1491.1L1635.1 1491.1L1637.9 1492.3L1640.6 1493.5L1642.4 1494.4M1655.8 1501.1L1655.9 1501.1L1658.6 1502.4L1661.4 1503.7L1663.1 1504.5M1676.6 1511.1L1676.7 1511.1L1679.4 1512.4L1682.1 1513.7L1683.8 1514.5M1697.6 1520.4L1697.7 1520.5L1700.5 1521.6L1703.2 1522.8L1705.0 1523.5M1718.9 1528.9L1719.1 1529.0L1721.9 1530.0L1724.8 1531.0L1726.5 1531.6M1740.8 1536.1L1740.9 1536.2L1743.8 1537.0L1746.7 1537.8L1748.5 1538.3M1763.0 1542.2L1763.2 1542.2L1766.1 1542.9L1769.0 1543.7L1770.7 1544.1M1785.3 1547.7L1785.5 1547.7L1788.4 1548.5L1791.4 1549.2L1793.1 1549.6M1807.8 1552.3L1808.1 1552.3L1811.0 1552.7L1814.0 1553.0L1815.8 1553.2M1869.6 1557.3L1869.9 1557.3L1872.9 1557.5L1875.9 1557.6L1878.9 1557.8L1881.9 1557.9L1884.9 1558.0L1887.9 1558.2L1889.6 1558.2M1921.5 1560.0L1921.9 1560.0L1924.9 1560.2L1927.9 1560.4L1930.9 1560.6L1933.9 1560.8L1936.8 1561.0L1939.8 1561.2L1941.5 1561.3M1973.5 1562.2L1973.8 1562.2L1976.8 1562.3L1979.8 1562.3L1982.8 1562.4L1985.8 1562.4L1988.9 1562.4L1991.9 1562.5L1993.5 1562.5M2025.5 1562.7L2025.9 1562.7L2028.9 1562.8L2031.9 1562.8L2034.9 1562.8L2037.9 1562.8L2040.9 1562.8L2043.9 1562.8L2045.5 1562.9M2077.5 1563.0L2077.9 1563.0L2080.9 1563.0L2083.9 1563.0L2086.9 1563.0L2089.9 1563.0L2092.9 1563.0L2095.9 1563.0L2097.5 1563.0M2129.5 1563.0L2129.9 1563.0L2132.9 1563.0L2135.9 1563.0L2139.0 1563.0L2142.0 1563.0L2145.0 1563.0L2148.0 1563.0L2149.5 1563.0M2181.5 1563.0L2182.0 1563.0L2185.0 1563.0L2188.0 1563.0L2191.0 1563.0L2194.0 1563.0L2197.0 1563.0L2200.0 1563.0L2201.5 1563.0"/>
<path class="f" stroke="#0000ff" d="M382.1 1558.2L382.1 1558.2L382.9 1555.3L383.8 1552.4L384.6 1549.5L385.5 1546.6L386.4 1543.7L387.2 1540.2L388.0 1536.4L388.8 1532.7L389.6 1529.5L390.6 1527.3L391.7 1526.3L393.1 1527.3L394.9 1530.0L396.8 1533.2L398.6 1535.9L400.4 1538.5L402.3 1540.9L404.4 1542.8L405.6 1543.5M426.1 1545.9L426.9 1545.9L429.9 1545.9L432.9 1545.9L435.8 1545.7L438.7 1545.1L441.0 1544.5M460.9 1538.0L461.8 1537.7L464.6 1536.7L467.5 1535.9L470.4 1535.2L473.3 1534.7L475.4 1534.4M496.4 1532.6L497.3 1532.6L500.3 1532.6L503.3 1532.6L506.3 1532.6L509.3 1532.6L511.4 1532.6M532.1 1535.3L533.0 1535.5L535.9 1536.2L538.9 1536.8L541.8 1537.5L544.8 1538.1L546.7 1538.5M567.1 1543.7L567.1 1543.7L570.0 1544.3L573.0 1544.9L575.9 1545.5L578.9 1546.0L581.8 1546.5M602.7 1547.8L602.8 1547.8L605.8 1547.9L608.8 1548.0L611.8 1548.2L614.8 1548.4L617.7 1548.6M638.6 1551.1L638.6 1551.1L641.6 1551.4L644.6 1551.6L647.6 1551.8L650.6 1552.0L653.5 1552.2M674.3 1554.9L674.4 1554.9L677.4 1555.5L680.3 1556.1L683.3 1556.7L686.2 1557.2L689.1 1557.7M709.9 1559.9L710.0 1559.9L713.0 1559.9L716.0 1559.9L719.0 1560.0L722.0 1560.0L724.9 1560.0M745.9 1560.0L746.1 1560.0L749.1 1560.0L752.1 1560.1L755.1 1560.1L758.1 1560.1L761.1 1560.1L764.1 1560.2L764.9 1560.2M785.9 1560.4L786.1 1560.4L789.1 1560.4L792.1 1560.5L795.1 1560.5L798.1 1560.5L801.1 1560.6L804.1 1560.6L804.9 1560.6M825.9 1560.8L826.1 1560.8L829.1 1560.9L832.1 1560.9L835.1 1560.9L838.1 1560.9L841.1 1560.9L844.1 1561.0L844.9 1561.0M865.9 1561.0L866.2 1561.0L869.2 1561.0L872.2 1561.0L875.2 1561.0L878.2 1561.0L881.2 1561.0L884.2 1561.0L884.9 1561.0M905.9 1561.0L906.2 1561.0L909.2 1561.0L912.2 1561.0L915.2 1561.0L918.2 1561.0L921.2 1561.0L924.2 1561.0L924.9 1561.0M945.9 1561.0L946.2 1561.0L949.2 1561.0L952.2 1561.0L955.2 1561.0L958.2 1561.0L961.2 1561.0L964.2 1561.0L964.9 1561.0M985.9 1560.7L986.2 1560.7L989.2 1560.6L992.2 1560.5L995.2 1560.4L998.2 1560.3L1001.2 1560.2L1004.2 1560.0L1004.9 1560.0M1025.8 1558.6L1026.2 1558.6L1029.2 1558.3L1032.2 1558.0L1035.2 1557.7L1038.2 1557.4L1041.1 1557.1L1044.1 1556.9L1044.7 1556.8M1065.6 1554.9L1066.1 1554.8L1069.1 1554.5L1072.1 1554.2L1075.1 1553.9L1078.1 1553.6L1081.1 1553.3L1084.0 1552.9L1084.5 1552.9M1105.3 1549.5L1105.7 1549.4L1108.7 1548.8L1111.6 1548.1L1114.6 1547.4L1117.5 1546.6L1120.4 1545.8L1120.8 1545.7M1143.5 1538.1L1144.0 1537.9L1146.7 1536.7L1149.5 1535.5L1152.2 1534.2L1154.9 1532.8L1157.5 1531.3L1157.9 1531.1M1177.8 1517.7L1178.5 1517.2L1180.7 1515.4L1183.0 1513.5L1185.1 1511.5L1187.3 1509.4L1189.4 1507.3L1189.6 1507.0M1205.1 1488.6L1205.6 1487.9L1207.5 1485.6L1209.4 1483.2L1211.2 1480.8L1213.0 1478.4L1214.7 1476.0L1214.8 1475.9M1228.4 1456.1L1228.9 1455.4L1230.6 1452.9L1232.2 1450.4L1233.9 1447.8L1235.5 1445.3L1237.1 1442.8L1237.1 1442.7M1249.1 1421.9L1249.5 1421.1L1250.9 1418.4L1252.3 1415.7L1253.7 1413.1L1255.0 1410.4L1256.3 1407.7L1256.3 1407.6M1265.9 1385.6L1266.3 1384.7L1267.4 1381.9L1268.5 1379.1L1269.6 1376.3L1270.7 1373.6L1271.8 1370.8L1271.8 1370.7M1280.0 1348.2L1280.0 1348.2L1280.9 1345.3L1281.9 1342.5L1282.8 1339.6L1283.8 1336.8L1284.7 1333.9L1285.0 1333.0M1292.3 1310.1L1292.3 1310.1L1293.3 1307.2L1294.2 1304.4L1295.1 1301.5L1296.0 1298.6L1296.8 1295.8L1297.0 1294.9M1302.4 1271.5L1302.4 1271.4L1303.0 1268.4L1303.5 1265.5L1304.1 1262.5L1304.6 1259.6L1305.1 1256.6L1305.2 1255.7M1308.0 1231.9L1308.0 1231.7L1308.3 1228.8L1308.6 1225.8L1308.9 1222.8L1309.2 1219.8L1309.6 1216.8L1309.7 1216.0M1314.2 1192.4L1314.3 1192.3L1315.1 1189.4L1315.9 1186.5L1316.6 1183.6L1317.4 1180.7L1318.1 1177.8L1318.2 1177.0M1323.7 1153.6L1323.7 1153.4L1324.5 1150.5L1325.4 1147.6L1326.2 1144.8L1327.2 1141.9L1328.1 1139.0L1329.1 1136.2L1330.1 1133.4L1331.1 1130.5L1332.1 1127.7L1333.2 1124.9L1334.4 1122.1L1335.6 1119.4L1336.9 1116.7L1338.3 1114.1L1339.8 1111.5L1341.5 1109.0L1343.2 1106.5L1344.9 1104.0L1346.7 1101.0L1348.5 1098.0L1350.4 1095.4L1352.4 1093.9L1354.9 1093.7L1358.0 1094.0L1361.4 1094.6L1364.4 1095.3L1366.5 1096.2L1368.0 1098.2L1369.4 1101.1L1370.6 1104.4L1371.7 1107.5L1372.8 1110.3L1373.7 1113.2L1374.6 1116.2L1375.6 1119.1L1376.7 1121.8L1378.1 1124.2L1380.1 1126.4L1382.4 1128.5L1384.6 1130.5M1395.8 1151.5L1395.9 1151.6L1397.5 1154.2L1399.1 1156.7L1400.7 1159.3L1402.0 1162.0L1403.0 1164.7L1403.3 1165.5M1410.4 1188.4L1410.5 1188.7L1411.4 1191.5L1412.3 1194.4L1413.2 1197.2L1414.0 1200.1L1414.8 1203.0L1415.0 1203.8M1420.4 1227.1L1420.4 1227.4L1421.3 1230.3L1422.3 1233.1L1423.2 1236.0L1424.2 1238.8L1424.4 1239.5M1430.0 1257.7L1430.1 1257.9L1430.9 1260.8L1431.7 1263.7L1432.5 1266.6L1433.4 1269.5L1433.6 1270.2M1438.4 1288.5L1438.5 1288.8L1439.3 1291.7L1440.0 1294.6L1440.8 1297.5L1441.6 1300.4L1441.8 1301.1M1446.6 1319.5L1446.7 1319.8L1447.4 1322.7L1448.2 1325.6L1449.0 1328.5L1449.8 1331.4L1450.0 1332.0M1455.6 1350.2L1455.7 1350.5L1456.6 1353.4L1457.6 1356.2L1458.5 1359.1L1459.5 1361.9L1459.7 1362.5M1465.6 1380.6L1465.7 1380.9L1466.7 1383.8L1467.6 1386.7L1468.5 1389.5L1469.5 1392.4L1469.7 1392.9M1476.6 1410.6L1476.8 1410.9L1478.1 1413.6L1479.4 1416.4L1480.7 1419.0L1482.2 1421.7L1482.4 1422.2M1492.2 1438.5L1492.5 1438.9L1494.1 1441.4L1495.8 1443.9L1496.7 1445.1M1506.0 1456.9L1506.4 1457.4L1508.5 1459.5L1510.6 1461.5L1511.6 1462.5M1523.4 1471.8L1524.1 1472.2L1526.7 1473.7L1529.4 1474.9L1530.5 1475.4M1544.7 1480.4L1545.5 1480.6L1548.5 1481.3L1551.4 1481.9L1552.5 1482.0M1567.5 1482.1L1568.3 1482.0L1571.4 1481.9L1574.4 1481.8L1575.5 1481.8M1590.5 1481.8L1591.4 1481.8L1594.5 1481.9L1597.5 1482.0L1598.5 1482.1M1613.3 1483.8L1614.2 1484.0L1617.1 1484.8L1620.0 1485.7L1621.0 1486.1M1635.1 1491.1L1635.1 1491.1L1637.9 1492.3L1640.6 1493.5L1642.4 1494.4M1655.8 1501.1L1655.9 1501.1L1658.6 1502.4L1661.4 1503.7L1663.1 1504.5M1676.6 1511.1L1676.7 1511.1L1679.4 1512.4L1682.1 1513.7L1683.8 1514.5M1697.6 1520.4L1697.7 1520.5L1700.5 1521.6L1703.2 1522.8L1705.0 1523.5M1718.9 1528.9L1719.1 1529.0L1721.9 1530.0L1724.8 1531.0L1726.5 1531.6M1740.8 1536.1L1740.9 1536.2L1743.8 1537.0L1746.7 1537.8L1748.5 1538.3M1763.0 1542.2L1763.2 1542.2L1766.1 1542.9L1769.0 1543.7L1770.7 1544.1M1785.3 1547.7L1785.5 1547.7L1788.4 1548.5L1791.4 1549.2L1793.1 1549.6M1807.8 1552.3L1808.1 1552.3L1811.0 1552.7L1814.0 1553.0L1815.8 1553.2M1869.6 1557.3L1869.9 1557.3L1872.9 1557.5L1875.9 1557.6L1878.9 1557.8L1881.9 1557.9L1884.9 1558.0L1887.9 1558.2L1889.6 1558.2M1921.5 1560.0L1921.9 1560.0L1924.9 1560.2L1927.9 1560.4L1930.9 1560.6L1933.9 1560.8L1936.8 1561.0L1939.8 1561.2L1941.5 1561.3M1973.5 1562.2L1973.8 1562.2L1976.8 1562.3L1979.8 1562.3L1982.8 1562.4L1985.8 1562.4L1988.9 1562.4L1991.9 1562.5L1993.5 1562.5M2025.5 1562.7L2025.9 1562.7L2028.9 1562.8L2031.9 1562.8L2034.9 1562.8L2037.9 1562.8L2040.9 1562.8L2043.9 1562.8L2045.5 1562.9M2077.5 1563.0L2077.9 1563.0L2080.9 1563.0L2083.9 1563.0L2086.9 1563.0L2089.9 1563.0L2092.9 1563.0L2095.9 1563.0L2097.5 1563.0M2129.5 1563.0L2129.9 1563.0L2132.9 1563.0L2135.9 1563.0L2139.0 1563.0L2142.0 1563.0L2145.0 1563.0L2148.0 1563.0L2149.5 1563.0M2181.5 1563.0L2182.0 1563.0L2185.0 1563.0L2188.0 1563.0L2191.0 1563.0L2194.0 1563.0L2197.0 1563.0L2200.0 1563.0L2201.5 1563.0"/>
</g>
<path class="ax" d="M299.6 1566H2243.4M328 31H2229.5M328 31V1593M2215 31V1566M328 1414H314M328 1262H299.6M328 1110H314M328 958H299.6M328 806H314M328 654H299.6M328 502H314M328 350H299.6M328 198H314M328 46H299.6M457.25 1566V1579M586.5 1566V1593M715.75 1566V1579M845 1566V1593M974.25 1566V1579M1103.5 1566V1593M1232.75 1566V1579M1362 1566V1593M1491.25 1566V1579M1620.5 1566V1593M1749.75 1566V1579M1879 1566V1593M2008.25 1566V1579M2137.5 1566V1593M2215 1054H2229.5M2215 542H2243.4"/>
<text class="tk" transform="translate(277.3 1579.5) scale(0.969 1)" text-anchor="end">0</text>
<text class="tk" transform="translate(277.3 1275.5) scale(0.969 1)" text-anchor="end">20</text>
<text class="tk" transform="translate(277.3 971.5) scale(0.969 1)" text-anchor="end">40</text>
<text class="tk" transform="translate(277.3 667.5) scale(0.969 1)" text-anchor="end">60</text>
<text class="tk" transform="translate(277.3 363.5) scale(0.969 1)" text-anchor="end">80</text>
<text class="tk" transform="translate(277.3 59.5) scale(0.969 1)" text-anchor="end">100</text>
<text class="tk" transform="translate(328.0 1658.0) scale(0.969 1)" text-anchor="middle">0</text>
<text class="tk" transform="translate(586.5 1658.0) scale(0.969 1)" text-anchor="middle">100</text>
<text class="tk" transform="translate(845.0 1658.0) scale(0.969 1)" text-anchor="middle">200</text>
<text class="tk" transform="translate(1103.5 1658.0) scale(0.969 1)" text-anchor="middle">300</text>
<text class="tk" transform="translate(1362.0 1658.0) scale(0.969 1)" text-anchor="middle">400</text>
<text class="tk" transform="translate(1620.5 1658.0) scale(0.969 1)" text-anchor="middle">500</text>
<text class="tk" transform="translate(1879.0 1658.0) scale(0.969 1)" text-anchor="middle">600</text>
<text class="tk" transform="translate(2137.5 1658.0) scale(0.969 1)" text-anchor="middle">700</text>
<text class="tk" transform="translate(2265.0 1581.0) scale(0.969 1)">0</text>
<text class="tk" transform="translate(2265.0 557.0) scale(0.969 1)">2</text>
<text class="tt" transform="translate(1008.0 1774.0) scale(1.01 1)">Temperature / ºC</text>
<text class="tt" transform="translate(73.2 1016.5) rotate(-90) scale(1.001 1)">Weight / %</text>
<text class="tt" transform="translate(2396.5 1261.2) rotate(-90) scale(1.004 1)">Derivative Weight / % ºC<tspan dx="1.5" dy="-38.3" font-size="38px" stroke="none">−</tspan><tspan dy="-1.7" font-size="44px">1</tspan></text>
<path class="c" stroke="#000000" d="M1627 95.4H1755"/>
<text class="lg" transform="translate(1771.0 114.5) scale(0.991 1)">ACH(230) TGA</text>
<path class="c" stroke="#ff0000" d="M1627 166.4H1755"/>
<text class="lg" transform="translate(1771.0 184.3) scale(0.991 1)">ACH(400) TGA</text>
<path class="c" stroke="#00ff00" d="M1627 237.0H1755"/>
<text class="lg" transform="translate(1771.0 256.6) scale(0.991 1)">ACH(600) TGA</text>
<path class="c" stroke="#0000ff" d="M1627 307.7H1755"/>
<text class="lg" transform="translate(1771.0 326.8) scale(0.991 1)">ACH(900) TGA</text>
<path class="c ld" stroke="#000000" d="M1625.2 383.4H1655.3M1695.7 383.4H1726.1"/>
<text class="lg" transform="translate(1769.0 402.4) scale(0.991 1)">ACH(230) DTGA</text>
<path class="c ld" stroke="#ff0000" d="M1625.2 454.1H1655.3M1695.7 454.1H1726.1"/>
<text class="lg" transform="translate(1769.0 473.7) scale(0.991 1)">ACH(400) DTGA</text>
<path class="c ld" stroke="#00ff00" d="M1625.2 525.3H1655.3M1695.7 525.3H1726.1"/>
<text class="lg" transform="translate(1769.0 543.4) scale(0.991 1)">ACH(600) DTGA</text>
<path class="c ld" stroke="#0000ff" d="M1625.2 596.0H1655.3M1695.7 596.0H1726.1"/>
<text class="lg" transform="translate(1769.0 615.1) scale(0.991 1)">ACH(900) DTGA</text>
</svg></body></html>
